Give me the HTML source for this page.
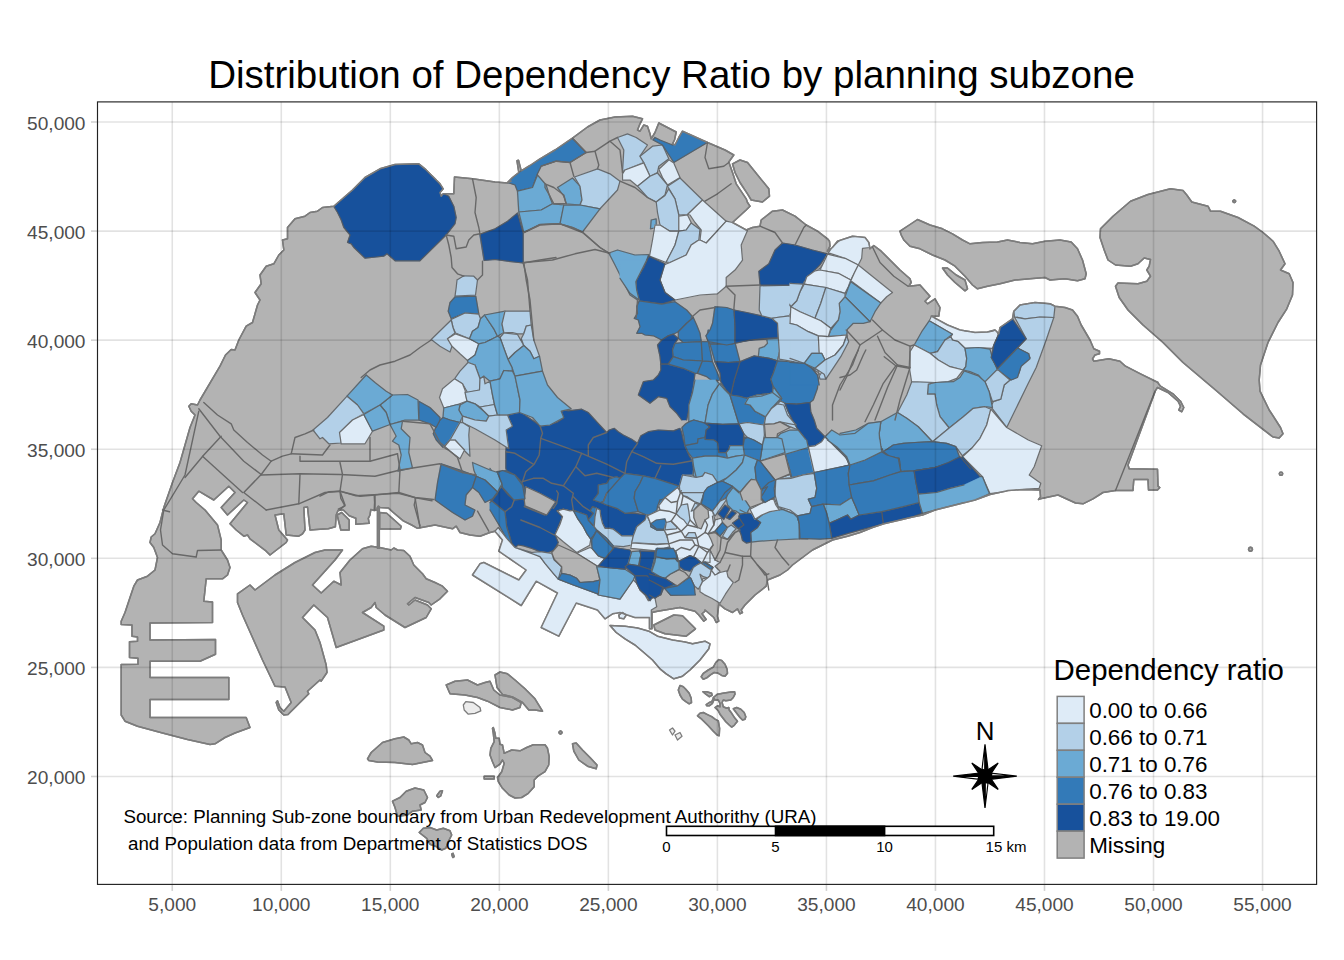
<!DOCTYPE html>
<html><head><meta charset="utf-8"><title>Distribution of Dependency Ratio by planning subzone</title>
<style>
html,body{margin:0;padding:0;background:#fff;}
body{width:1344px;height:960px;overflow:hidden;position:relative;font-family:"Liberation Sans",sans-serif;}
svg{position:absolute;left:0;top:0;}
text{font-family:"Liberation Sans",sans-serif;}
.tk{font-size:19.1px;fill:#4d4d4d;}
.lg{font-size:22.4px;fill:#000;}
.sb{font-size:15.0px;fill:#000;}
.src{font-size:18.75px;fill:#000;}
</style></head><body>
<svg width="1344" height="960" viewBox="0 0 1344 960">
<rect x="0" y="0" width="1344" height="960" fill="#ffffff"/>

<defs><clipPath id="pc"><rect x="97.50" y="101.90" width="1219.10" height="782.50"/></clipPath></defs>
<g clip-path="url(#pc)" stroke-linejoin="round" stroke-linecap="round">
<defs><clipPath id="lc"><polygon points="333.8,206.2 352.5,190.0 365.0,177.5 380.0,168.8 395.0,164.5 418.8,163.8 425.0,168.8 432.5,176.2 440.0,183.8 443.2,188.8 440.0,192.5 441.2,196.2 443.2,193.8 453.8,193.8 454.5,177.0 472.5,178.8 495.0,182.0 507.5,183.0 511.2,181.2 507.5,182.5 512.5,177.5 518.8,172.5 517.0,160.8 518.5,160.2 521.2,170.8 530.0,165.5 540.0,158.8 555.0,150.0 572.5,138.2 587.5,127.0 600.0,120.0 615.0,117.0 632.5,116.2 642.5,118.8 640.0,123.8 637.5,130.0 640.0,131.2 643.8,125.0 647.5,126.2 650.0,133.8 651.2,138.8 655.0,132.5 658.8,123.0 676.2,132.0 674.5,140.0 672.5,143.8 675.0,145.0 678.8,137.5 682.5,131.2 707.5,142.5 725.0,150.0 733.8,155.0 728.8,162.0 732.5,172.5 736.2,183.8 746.2,198.8 747.5,202.5 750.0,206.2 746.2,210.0 732.5,222.5 746.2,230.0 752.5,227.5 760.0,226.2 761.2,220.0 772.5,211.2 782.5,210.0 795.0,216.2 806.2,225.0 817.5,231.2 827.5,238.8 829.5,241.2 830.0,246.2 827.5,251.2 832.5,247.5 837.5,241.2 852.5,236.2 865.0,237.5 868.8,242.5 870.0,248.8 873.8,245.5 881.2,251.2 890.0,260.0 900.0,270.0 910.0,278.8 911.2,282.5 908.8,286.2 920.0,285.0 930.0,296.2 925.0,301.2 927.5,303.8 935.0,298.8 940.0,307.5 938.8,316.2 931.2,316.2 947.5,325.0 960.0,330.0 975.0,332.5 987.5,332.0 995.0,330.0 998.8,333.8 1000.0,327.5 1012.5,318.8 1013.8,311.2 1020.0,305.0 1035.0,302.5 1050.0,303.8 1055.0,306.2 1065.0,307.5 1072.5,310.0 1077.5,316.2 1081.2,325.0 1090.0,340.0 1093.8,348.8 1099.5,351.2 1099.5,353.8 1095.0,355.0 1092.5,358.8 1093.8,361.2 1108.8,358.8 1120.0,361.2 1125.5,366.2 1140.5,373.8 1158.0,382.5 1158.0,383.0 1160.5,386.2 1173.0,393.8 1180.5,401.2 1183.8,407.5 1181.8,411.8 1178.8,410.0 1180.5,406.2 1178.0,401.2 1168.0,392.5 1157.5,387.5 1155.5,390.5 1128.0,465.0 1129.2,468.8 1157.5,469.2 1158.0,486.2 1159.8,487.5 1157.5,490.0 1148.5,490.0 1148.0,479.5 1133.8,479.5 1133.0,490.5 1115.5,490.5 1103.0,492.5 1093.0,498.8 1083.0,503.8 1075.5,503.0 1058.0,495.0 1040.5,498.8 1038.5,499.5 1040.5,497.0 1040.0,490.0 1023.0,489.5 1008.0,490.5 1005.0,491.2 990.0,494.5 975.0,500.0 960.0,503.8 945.0,507.5 935.0,510.0 922.5,515.0 912.5,517.0 900.0,520.0 883.8,523.8 872.5,527.5 860.0,532.5 847.5,536.2 832.5,540.0 822.5,545.0 812.5,550.0 802.5,557.5 792.5,565.0 787.5,570.0 780.0,575.0 767.5,580.0 766.2,586.2 755.0,595.0 745.0,605.0 741.2,610.0 742.5,612.5 740.0,613.8 737.5,608.8 732.5,612.5 725.0,608.8 718.8,603.8 717.5,616.2 718.8,621.2 716.2,622.5 713.8,617.5 705.0,610.0 705.0,611.2 702.0,613.8 706.2,619.5 703.8,621.2 698.8,615.0 695.0,611.2 680.0,607.5 665.0,610.0 657.5,611.2 652.0,612.5 652.0,628.8 649.5,628.8 649.5,617.5 635.0,617.5 620.0,612.5 612.5,613.8 605.0,618.8 597.5,610.0 593.8,608.8 590.0,607.5 576.2,603.0 558.8,636.2 541.2,627.5 557.5,593.0 536.2,581.2 521.2,605.5 472.5,575.0 480.0,563.8 483.8,562.5 518.8,580.0 526.2,570.0 498.8,551.2 502.5,540.0 495.0,531.2 490.0,532.5 480.0,536.2 470.0,535.0 460.0,532.5 456.2,526.2 452.5,528.8 435.0,525.0 417.5,528.3 411.7,525.0 403.3,520.8 393.3,512.5 388.3,507.9 380.0,507.5 378.3,506.2 377.3,507.9 377.3,510.0 374.2,510.4 370.8,509.6 370.0,515.0 368.3,518.3 369.2,523.3 355.8,524.2 355.8,518.3 349.2,515.8 343.3,510.0 340.4,510.0 337.9,510.8 336.2,515.0 335.4,526.7 328.3,528.8 320.0,529.2 310.0,530.0 307.5,507.0 303.8,507.5 305.0,530.0 302.5,533.8 298.8,536.2 286.2,535.0 283.8,513.8 275.0,515.0 278.8,530.0 287.5,540.0 286.2,542.5 270.0,555.0 266.2,551.2 250.0,538.8 247.5,535.0 243.8,536.2 236.2,530.0 230.0,523.8 247.5,502.5 243.8,500.0 227.5,515.0 221.2,507.5 235.0,492.5 228.8,486.2 213.8,500.0 198.8,491.2 192.5,498.8 196.2,502.5 205.0,510.0 217.5,525.0 221.2,540.0 221.2,550.0 227.5,560.0 230.0,567.5 227.5,575.0 222.5,578.8 206.2,578.8 203.8,601.2 212.5,602.0 212.5,622.5 150.0,623.0 150.0,640.0 215.5,639.5 215.5,654.2 200.0,661.2 150.0,661.2 150.0,677.5 228.8,677.5 228.8,699.5 150.0,699.5 150.0,717.5 246.2,717.5 250.0,727.5 235.0,733.0 225.0,737.5 215.0,743.8 210.0,744.5 187.5,739.5 162.5,733.0 137.5,726.2 125.0,721.2 121.2,715.0 121.2,664.5 138.0,664.2 138.0,658.2 129.5,657.5 129.5,641.8 137.5,641.2 137.5,637.0 132.0,636.2 132.0,625.0 121.2,624.5 121.2,621.2 125.0,612.5 130.0,597.5 133.8,586.2 137.5,580.0 147.5,576.2 155.0,570.0 157.5,557.5 153.8,547.5 150.0,542.5 151.2,537.0 155.0,533.8 160.0,522.5 163.8,507.5 172.5,482.5 180.0,462.5 185.0,445.0 190.0,427.5 195.0,415.0 191.2,411.2 188.8,406.2 191.2,403.8 197.5,405.0 200.0,400.0 220.0,366.2 225.5,355.0 231.2,349.5 235.0,350.0 238.8,340.0 246.2,326.2 252.5,322.5 257.5,305.0 260.0,300.0 255.0,292.5 261.2,283.8 260.0,275.0 266.2,266.2 273.8,263.8 278.8,255.0 283.8,250.0 282.5,240.0 287.5,238.8 287.5,227.5 295.0,218.8 305.0,216.2 310.0,212.5 317.5,211.2 322.5,207.5"/><polygon points="237.5,593.8 250.0,585.0 255.0,590.0 275.0,575.0 295.0,562.5 315.0,552.5 325.0,550.0 342.5,550.0 335.0,560.0 312.5,585.0 321.2,593.0 333.8,581.2 341.2,585.0 340.0,572.5 350.0,560.0 362.5,548.8 371.2,546.2 379.5,547.5 379.5,547.5 391.2,550.0 393.8,548.0 397.5,550.0 403.8,550.5 410.0,556.2 413.8,565.0 422.5,573.8 426.2,578.8 435.0,582.5 442.5,586.2 447.5,591.2 440.0,598.8 431.2,605.0 428.8,602.5 415.0,597.5 407.5,603.8 408.8,605.0 415.0,600.0 427.5,605.0 431.2,608.8 426.2,617.5 405.0,627.5 385.0,615.0 376.2,607.5 375.0,602.5 371.2,607.5 362.5,612.5 383.8,626.2 383.8,630.0 336.2,647.5 327.5,617.5 313.8,605.0 302.5,617.5 315.0,630.0 320.0,642.5 326.2,665.0 327.0,672.5 321.2,681.2 320.0,680.0 307.5,691.2 308.8,693.8 288.0,714.5 283.8,715.0 278.8,710.0 276.2,702.5 277.5,700.8 280.0,707.5 283.8,711.2 291.2,702.5 285.0,687.0 275.0,686.2 262.5,660.0 252.5,637.5 242.5,615.0 237.5,602.5 237.5,593.8"/><polygon points="377.5,507.9 379.3,507.9 379.3,548.3 377.5,548.3"/><polygon points="379.6,512.5 386.7,513.3 401.2,526.2 400.4,529.0 379.6,529.0"/><polygon points="337.1,515.0 341.7,512.5 349.2,520.0 349.2,530.0 340.8,530.0 338.8,521.7"/><polygon points="732.5,163.8 740.0,160.0 747.5,162.5 768.8,188.8 769.5,196.2 762.5,202.0 751.2,200.0 747.5,193.8 740.0,182.5 735.0,172.5"/><polygon points="900.0,231.2 910.0,224.5 917.5,219.5 930.0,225.0 942.5,228.8 952.5,233.8 962.5,240.0 970.0,243.8 982.5,242.5 997.5,242.0 1007.5,240.0 1020.0,242.5 1032.5,243.8 1045.0,241.2 1060.0,240.0 1071.2,242.0 1077.5,248.8 1082.5,260.0 1086.2,273.8 1085.0,278.8 1077.5,280.8 1065.0,278.8 1050.0,280.0 1045.0,277.5 1030.0,278.8 1015.0,280.0 1000.0,283.8 987.5,286.2 977.5,288.8 972.5,285.0 965.0,276.2 955.0,266.2 945.0,260.0 932.5,255.0 920.0,248.8 910.0,246.2 903.8,240.0 901.2,235.0"/><polygon points="942.5,268.0 947.5,268.0 956.2,275.0 965.0,280.0 967.5,288.8 965.0,290.8 955.0,282.5 947.5,275.0"/><polygon points="1100.5,228.8 1113.0,216.2 1130.5,201.2 1148.0,194.5 1170.5,188.8 1183.0,190.5 1186.8,195.0 1191.8,202.0 1208.0,206.2 1210.5,211.2 1220.5,211.2 1238.0,217.5 1254.2,226.2 1263.0,232.5 1273.0,241.2 1279.2,251.2 1285.0,263.8 1280.5,270.0 1289.2,273.8 1293.0,282.5 1292.5,295.0 1286.8,308.8 1278.0,322.5 1268.0,342.5 1260.5,365.0 1259.2,380.0 1260.0,391.2 1269.2,410.0 1280.5,427.5 1283.0,433.8 1279.2,438.0 1273.0,437.0 1243.0,413.8 1215.5,390.0 1183.0,362.5 1163.0,342.5 1143.0,325.0 1128.0,310.0 1119.2,297.5 1115.5,286.2 1118.0,283.0 1138.0,283.8 1146.8,281.2 1150.5,276.2 1146.8,270.0 1149.2,266.2 1150.5,259.5 1144.2,258.0 1138.0,263.8 1130.5,266.2 1115.5,265.0 1108.0,260.0 1104.2,250.0 1100.0,237.5"/><polygon points="1235.7,201.2 1235.2,202.2 1234.2,202.7 1233.3,202.2 1232.8,201.2 1233.3,200.3 1234.2,199.8 1235.2,200.3"/><polygon points="1282.7,473.8 1282.2,475.0 1281.0,475.4 1279.8,475.0 1279.3,473.8 1279.8,472.5 1281.0,472.1 1282.2,472.5"/><polygon points="1252.5,549.2 1251.9,550.7 1250.5,551.2 1249.1,550.7 1248.5,549.2 1249.1,547.8 1250.5,547.2 1251.9,547.8"/><polygon points="653.8,625.0 673.8,615.0 682.5,615.8 695.5,628.8 686.2,636.2 665.0,633.8 655.0,630.0"/><polygon points="701.2,676.7 703.3,673.3 708.3,670.0 713.3,667.1 715.8,662.5 718.8,659.6 721.7,660.4 725.0,664.2 727.1,669.2 727.5,673.3 725.0,676.2 721.7,675.4 717.5,672.9 714.2,672.5 710.8,674.6 706.7,677.9 703.3,679.3"/><polygon points="678.3,690.0 680.0,685.4 683.3,686.7 685.8,689.2 689.2,693.3 691.2,698.3 691.5,702.5 689.2,703.8 685.8,701.7 682.5,699.2 680.0,695.0"/><polygon points="717.5,694.2 724.2,692.9 730.8,692.1 734.6,691.7 735.0,694.2 733.3,697.5 730.8,700.0 725.8,700.8 723.3,700.0 722.1,702.5 723.3,706.7 726.7,708.3 728.8,707.5 729.2,710.0 731.7,713.3 735.0,718.3 737.5,721.2 735.8,723.3 734.2,725.4 731.7,727.1 729.2,725.0 725.8,721.7 722.5,717.5 720.0,714.2 718.3,710.8 715.0,707.5 717.5,705.8 720.0,706.7 720.0,703.3 718.3,700.0 715.0,700.0 713.3,697.5"/><polygon points="702.9,691.7 706.7,691.7 711.7,693.3 712.1,695.4 709.2,696.7 705.8,694.2"/><polygon points="706.2,704.6 709.2,702.5 711.7,701.7 713.3,698.3 714.2,699.2 712.5,703.3 709.2,705.8 706.7,705.8"/><polygon points="733.3,708.8 736.7,707.5 740.8,709.2 744.2,712.5 745.8,716.7 745.0,719.2 742.5,720.0 740.0,717.5 736.7,713.3"/><polygon points="697.5,715.8 700.0,713.3 703.3,712.5 707.5,714.6 711.7,716.7 715.0,719.2 718.3,720.8 719.6,728.3 719.2,735.8 717.1,735.0 713.3,731.2 708.3,725.8 701.7,719.2"/><polygon points="446.2,685.0 455.0,681.2 467.5,680.0 477.5,685.0 485.0,682.5 490.0,681.2 493.8,690.0 500.0,695.0 512.5,697.5 521.2,702.5 520.0,707.5 512.5,710.0 500.0,707.5 487.5,701.2 477.5,697.5 465.0,695.0 450.0,693.8"/><polygon points="495.0,675.0 500.0,672.0 507.5,673.8 515.0,680.0 525.0,688.8 535.0,698.8 542.5,711.2 535.0,710.0 528.8,710.0 522.5,702.5 512.5,697.0 502.5,694.5 497.0,687.5"/><polygon points="572.5,743.8 576.2,743.0 582.5,750.0 590.0,757.5 597.0,765.0 596.2,768.8 587.5,766.2 578.8,760.0 573.8,751.2"/><polygon points="561.8,732.5 561.4,733.4 560.5,733.8 559.6,733.4 559.2,732.5 559.6,731.6 560.5,731.2 561.4,731.6"/><polygon points="367.5,758.8 371.2,752.5 382.5,742.5 395.0,738.8 403.8,737.0 408.8,740.0 411.2,743.8 417.5,742.5 422.5,745.0 425.0,752.5 430.0,756.2 432.5,760.5 425.0,762.0 412.5,764.5 395.0,762.5 377.5,762.0 368.8,760.5"/><polygon points="392.5,801.2 400.0,797.5 406.2,791.2 415.0,788.0 423.8,790.0 427.5,797.5 425.0,802.5 420.0,805.0 421.2,810.0 412.5,811.2 407.5,815.0 397.5,816.2 395.0,807.5"/><polygon points="610.0,625.5 625.0,626.2 637.5,628.0 648.8,631.2 657.5,636.2 672.5,640.0 685.0,642.0 692.5,643.8 705.0,641.2 710.0,643.8 708.8,648.8 700.0,660.0 690.0,670.0 682.5,676.2 673.8,678.8 666.2,673.8 660.0,668.8 652.5,660.0 643.8,652.5 635.0,645.0 625.0,638.8 616.2,632.5"/><polygon points="618.8,615.0 622.5,612.5 626.2,615.0 623.8,618.8 619.5,618.0"/><polygon points="493.3,727.5 495.0,733.3 495.8,738.3 499.2,738.3 500.0,744.2 502.5,745.0 504.2,753.3 511.7,750.0 520.0,750.8 526.7,747.5 533.3,744.7 545.0,744.7 547.5,748.3 549.2,756.7 548.7,765.0 545.0,771.7 538.3,775.8 534.2,780.0 534.2,786.7 528.3,793.3 521.7,797.5 515.0,798.0 509.2,795.0 502.5,788.3 498.3,781.7 497.5,777.5 501.7,771.7 504.2,763.3 502.5,760.0 500.0,764.2 495.0,767.5 492.5,761.7 490.0,755.0 490.8,748.3 494.2,741.7 493.3,733.3 492.5,728.3"/><polygon points="419.2,832.5 423.3,828.3 430.0,827.5 436.7,830.0 443.3,828.3 450.0,830.8 451.7,835.0 448.3,841.7 445.8,848.3 441.7,850.0 436.7,846.7 430.0,844.2 426.7,838.3"/><polygon points="436.7,795.8 440.0,791.3 442.5,790.8 440.8,795.8 438.3,797.5"/><polygon points="451.7,854.2 453.0,853.3 454.2,856.7 452.8,857.5"/><polygon points="484.2,776.2 494.2,776.2 494.2,779.0 484.2,779.0"/><polygon points="561.9,732.5 561.5,733.5 560.5,733.9 559.5,733.5 559.1,732.5 559.5,731.5 560.5,731.1 561.5,731.5"/></clipPath></defs>
<g fill="#B3B3B3" stroke="#7c7c7c" stroke-width="1.5">
<polygon points="333.8,206.2 352.5,190.0 365.0,177.5 380.0,168.8 395.0,164.5 418.8,163.8 425.0,168.8 432.5,176.2 440.0,183.8 443.2,188.8 440.0,192.5 441.2,196.2 443.2,193.8 453.8,193.8 454.5,177.0 472.5,178.8 495.0,182.0 507.5,183.0 511.2,181.2 507.5,182.5 512.5,177.5 518.8,172.5 517.0,160.8 518.5,160.2 521.2,170.8 530.0,165.5 540.0,158.8 555.0,150.0 572.5,138.2 587.5,127.0 600.0,120.0 615.0,117.0 632.5,116.2 642.5,118.8 640.0,123.8 637.5,130.0 640.0,131.2 643.8,125.0 647.5,126.2 650.0,133.8 651.2,138.8 655.0,132.5 658.8,123.0 676.2,132.0 674.5,140.0 672.5,143.8 675.0,145.0 678.8,137.5 682.5,131.2 707.5,142.5 725.0,150.0 733.8,155.0 728.8,162.0 732.5,172.5 736.2,183.8 746.2,198.8 747.5,202.5 750.0,206.2 746.2,210.0 732.5,222.5 746.2,230.0 752.5,227.5 760.0,226.2 761.2,220.0 772.5,211.2 782.5,210.0 795.0,216.2 806.2,225.0 817.5,231.2 827.5,238.8 829.5,241.2 830.0,246.2 827.5,251.2 832.5,247.5 837.5,241.2 852.5,236.2 865.0,237.5 868.8,242.5 870.0,248.8 873.8,245.5 881.2,251.2 890.0,260.0 900.0,270.0 910.0,278.8 911.2,282.5 908.8,286.2 920.0,285.0 930.0,296.2 925.0,301.2 927.5,303.8 935.0,298.8 940.0,307.5 938.8,316.2 931.2,316.2 947.5,325.0 960.0,330.0 975.0,332.5 987.5,332.0 995.0,330.0 998.8,333.8 1000.0,327.5 1012.5,318.8 1013.8,311.2 1020.0,305.0 1035.0,302.5 1050.0,303.8 1055.0,306.2 1065.0,307.5 1072.5,310.0 1077.5,316.2 1081.2,325.0 1090.0,340.0 1093.8,348.8 1099.5,351.2 1099.5,353.8 1095.0,355.0 1092.5,358.8 1093.8,361.2 1108.8,358.8 1120.0,361.2 1125.5,366.2 1140.5,373.8 1158.0,382.5 1158.0,383.0 1160.5,386.2 1173.0,393.8 1180.5,401.2 1183.8,407.5 1181.8,411.8 1178.8,410.0 1180.5,406.2 1178.0,401.2 1168.0,392.5 1157.5,387.5 1155.5,390.5 1128.0,465.0 1129.2,468.8 1157.5,469.2 1158.0,486.2 1159.8,487.5 1157.5,490.0 1148.5,490.0 1148.0,479.5 1133.8,479.5 1133.0,490.5 1115.5,490.5 1103.0,492.5 1093.0,498.8 1083.0,503.8 1075.5,503.0 1058.0,495.0 1040.5,498.8 1038.5,499.5 1040.5,497.0 1040.0,490.0 1023.0,489.5 1008.0,490.5 1005.0,491.2 990.0,494.5 975.0,500.0 960.0,503.8 945.0,507.5 935.0,510.0 922.5,515.0 912.5,517.0 900.0,520.0 883.8,523.8 872.5,527.5 860.0,532.5 847.5,536.2 832.5,540.0 822.5,545.0 812.5,550.0 802.5,557.5 792.5,565.0 787.5,570.0 780.0,575.0 767.5,580.0 766.2,586.2 755.0,595.0 745.0,605.0 741.2,610.0 742.5,612.5 740.0,613.8 737.5,608.8 732.5,612.5 725.0,608.8 718.8,603.8 717.5,616.2 718.8,621.2 716.2,622.5 713.8,617.5 705.0,610.0 705.0,611.2 702.0,613.8 706.2,619.5 703.8,621.2 698.8,615.0 695.0,611.2 680.0,607.5 665.0,610.0 657.5,611.2 652.0,612.5 652.0,628.8 649.5,628.8 649.5,617.5 635.0,617.5 620.0,612.5 612.5,613.8 605.0,618.8 597.5,610.0 593.8,608.8 590.0,607.5 576.2,603.0 558.8,636.2 541.2,627.5 557.5,593.0 536.2,581.2 521.2,605.5 472.5,575.0 480.0,563.8 483.8,562.5 518.8,580.0 526.2,570.0 498.8,551.2 502.5,540.0 495.0,531.2 490.0,532.5 480.0,536.2 470.0,535.0 460.0,532.5 456.2,526.2 452.5,528.8 435.0,525.0 417.5,528.3 411.7,525.0 403.3,520.8 393.3,512.5 388.3,507.9 380.0,507.5 378.3,506.2 377.3,507.9 377.3,510.0 374.2,510.4 370.8,509.6 370.0,515.0 368.3,518.3 369.2,523.3 355.8,524.2 355.8,518.3 349.2,515.8 343.3,510.0 340.4,510.0 337.9,510.8 336.2,515.0 335.4,526.7 328.3,528.8 320.0,529.2 310.0,530.0 307.5,507.0 303.8,507.5 305.0,530.0 302.5,533.8 298.8,536.2 286.2,535.0 283.8,513.8 275.0,515.0 278.8,530.0 287.5,540.0 286.2,542.5 270.0,555.0 266.2,551.2 250.0,538.8 247.5,535.0 243.8,536.2 236.2,530.0 230.0,523.8 247.5,502.5 243.8,500.0 227.5,515.0 221.2,507.5 235.0,492.5 228.8,486.2 213.8,500.0 198.8,491.2 192.5,498.8 196.2,502.5 205.0,510.0 217.5,525.0 221.2,540.0 221.2,550.0 227.5,560.0 230.0,567.5 227.5,575.0 222.5,578.8 206.2,578.8 203.8,601.2 212.5,602.0 212.5,622.5 150.0,623.0 150.0,640.0 215.5,639.5 215.5,654.2 200.0,661.2 150.0,661.2 150.0,677.5 228.8,677.5 228.8,699.5 150.0,699.5 150.0,717.5 246.2,717.5 250.0,727.5 235.0,733.0 225.0,737.5 215.0,743.8 210.0,744.5 187.5,739.5 162.5,733.0 137.5,726.2 125.0,721.2 121.2,715.0 121.2,664.5 138.0,664.2 138.0,658.2 129.5,657.5 129.5,641.8 137.5,641.2 137.5,637.0 132.0,636.2 132.0,625.0 121.2,624.5 121.2,621.2 125.0,612.5 130.0,597.5 133.8,586.2 137.5,580.0 147.5,576.2 155.0,570.0 157.5,557.5 153.8,547.5 150.0,542.5 151.2,537.0 155.0,533.8 160.0,522.5 163.8,507.5 172.5,482.5 180.0,462.5 185.0,445.0 190.0,427.5 195.0,415.0 191.2,411.2 188.8,406.2 191.2,403.8 197.5,405.0 200.0,400.0 220.0,366.2 225.5,355.0 231.2,349.5 235.0,350.0 238.8,340.0 246.2,326.2 252.5,322.5 257.5,305.0 260.0,300.0 255.0,292.5 261.2,283.8 260.0,275.0 266.2,266.2 273.8,263.8 278.8,255.0 283.8,250.0 282.5,240.0 287.5,238.8 287.5,227.5 295.0,218.8 305.0,216.2 310.0,212.5 317.5,211.2 322.5,207.5"/>
<polygon points="237.5,593.8 250.0,585.0 255.0,590.0 275.0,575.0 295.0,562.5 315.0,552.5 325.0,550.0 342.5,550.0 335.0,560.0 312.5,585.0 321.2,593.0 333.8,581.2 341.2,585.0 340.0,572.5 350.0,560.0 362.5,548.8 371.2,546.2 379.5,547.5 379.5,547.5 391.2,550.0 393.8,548.0 397.5,550.0 403.8,550.5 410.0,556.2 413.8,565.0 422.5,573.8 426.2,578.8 435.0,582.5 442.5,586.2 447.5,591.2 440.0,598.8 431.2,605.0 428.8,602.5 415.0,597.5 407.5,603.8 408.8,605.0 415.0,600.0 427.5,605.0 431.2,608.8 426.2,617.5 405.0,627.5 385.0,615.0 376.2,607.5 375.0,602.5 371.2,607.5 362.5,612.5 383.8,626.2 383.8,630.0 336.2,647.5 327.5,617.5 313.8,605.0 302.5,617.5 315.0,630.0 320.0,642.5 326.2,665.0 327.0,672.5 321.2,681.2 320.0,680.0 307.5,691.2 308.8,693.8 288.0,714.5 283.8,715.0 278.8,710.0 276.2,702.5 277.5,700.8 280.0,707.5 283.8,711.2 291.2,702.5 285.0,687.0 275.0,686.2 262.5,660.0 252.5,637.5 242.5,615.0 237.5,602.5 237.5,593.8"/>
<polygon points="377.5,507.9 379.3,507.9 379.3,548.3 377.5,548.3"/>
<polygon points="379.6,512.5 386.7,513.3 401.2,526.2 400.4,529.0 379.6,529.0"/>
<polygon points="337.1,515.0 341.7,512.5 349.2,520.0 349.2,530.0 340.8,530.0 338.8,521.7"/>
<polygon points="732.5,163.8 740.0,160.0 747.5,162.5 768.8,188.8 769.5,196.2 762.5,202.0 751.2,200.0 747.5,193.8 740.0,182.5 735.0,172.5"/>
<polygon points="900.0,231.2 910.0,224.5 917.5,219.5 930.0,225.0 942.5,228.8 952.5,233.8 962.5,240.0 970.0,243.8 982.5,242.5 997.5,242.0 1007.5,240.0 1020.0,242.5 1032.5,243.8 1045.0,241.2 1060.0,240.0 1071.2,242.0 1077.5,248.8 1082.5,260.0 1086.2,273.8 1085.0,278.8 1077.5,280.8 1065.0,278.8 1050.0,280.0 1045.0,277.5 1030.0,278.8 1015.0,280.0 1000.0,283.8 987.5,286.2 977.5,288.8 972.5,285.0 965.0,276.2 955.0,266.2 945.0,260.0 932.5,255.0 920.0,248.8 910.0,246.2 903.8,240.0 901.2,235.0"/>
<polygon points="942.5,268.0 947.5,268.0 956.2,275.0 965.0,280.0 967.5,288.8 965.0,290.8 955.0,282.5 947.5,275.0"/>
<polygon points="1100.5,228.8 1113.0,216.2 1130.5,201.2 1148.0,194.5 1170.5,188.8 1183.0,190.5 1186.8,195.0 1191.8,202.0 1208.0,206.2 1210.5,211.2 1220.5,211.2 1238.0,217.5 1254.2,226.2 1263.0,232.5 1273.0,241.2 1279.2,251.2 1285.0,263.8 1280.5,270.0 1289.2,273.8 1293.0,282.5 1292.5,295.0 1286.8,308.8 1278.0,322.5 1268.0,342.5 1260.5,365.0 1259.2,380.0 1260.0,391.2 1269.2,410.0 1280.5,427.5 1283.0,433.8 1279.2,438.0 1273.0,437.0 1243.0,413.8 1215.5,390.0 1183.0,362.5 1163.0,342.5 1143.0,325.0 1128.0,310.0 1119.2,297.5 1115.5,286.2 1118.0,283.0 1138.0,283.8 1146.8,281.2 1150.5,276.2 1146.8,270.0 1149.2,266.2 1150.5,259.5 1144.2,258.0 1138.0,263.8 1130.5,266.2 1115.5,265.0 1108.0,260.0 1104.2,250.0 1100.0,237.5"/>
<polygon points="1235.7,201.2 1235.2,202.2 1234.2,202.7 1233.3,202.2 1232.8,201.2 1233.3,200.3 1234.2,199.8 1235.2,200.3"/>
<polygon points="1282.7,473.8 1282.2,475.0 1281.0,475.4 1279.8,475.0 1279.3,473.8 1279.8,472.5 1281.0,472.1 1282.2,472.5"/>
<polygon points="1252.5,549.2 1251.9,550.7 1250.5,551.2 1249.1,550.7 1248.5,549.2 1249.1,547.8 1250.5,547.2 1251.9,547.8"/>
<polygon points="653.8,625.0 673.8,615.0 682.5,615.8 695.5,628.8 686.2,636.2 665.0,633.8 655.0,630.0"/>
<polygon points="701.2,676.7 703.3,673.3 708.3,670.0 713.3,667.1 715.8,662.5 718.8,659.6 721.7,660.4 725.0,664.2 727.1,669.2 727.5,673.3 725.0,676.2 721.7,675.4 717.5,672.9 714.2,672.5 710.8,674.6 706.7,677.9 703.3,679.3"/>
<polygon points="678.3,690.0 680.0,685.4 683.3,686.7 685.8,689.2 689.2,693.3 691.2,698.3 691.5,702.5 689.2,703.8 685.8,701.7 682.5,699.2 680.0,695.0"/>
<polygon points="717.5,694.2 724.2,692.9 730.8,692.1 734.6,691.7 735.0,694.2 733.3,697.5 730.8,700.0 725.8,700.8 723.3,700.0 722.1,702.5 723.3,706.7 726.7,708.3 728.8,707.5 729.2,710.0 731.7,713.3 735.0,718.3 737.5,721.2 735.8,723.3 734.2,725.4 731.7,727.1 729.2,725.0 725.8,721.7 722.5,717.5 720.0,714.2 718.3,710.8 715.0,707.5 717.5,705.8 720.0,706.7 720.0,703.3 718.3,700.0 715.0,700.0 713.3,697.5"/>
<polygon points="702.9,691.7 706.7,691.7 711.7,693.3 712.1,695.4 709.2,696.7 705.8,694.2"/>
<polygon points="706.2,704.6 709.2,702.5 711.7,701.7 713.3,698.3 714.2,699.2 712.5,703.3 709.2,705.8 706.7,705.8"/>
<polygon points="733.3,708.8 736.7,707.5 740.8,709.2 744.2,712.5 745.8,716.7 745.0,719.2 742.5,720.0 740.0,717.5 736.7,713.3"/>
<polygon points="697.5,715.8 700.0,713.3 703.3,712.5 707.5,714.6 711.7,716.7 715.0,719.2 718.3,720.8 719.6,728.3 719.2,735.8 717.1,735.0 713.3,731.2 708.3,725.8 701.7,719.2"/>
<polygon points="446.2,685.0 455.0,681.2 467.5,680.0 477.5,685.0 485.0,682.5 490.0,681.2 493.8,690.0 500.0,695.0 512.5,697.5 521.2,702.5 520.0,707.5 512.5,710.0 500.0,707.5 487.5,701.2 477.5,697.5 465.0,695.0 450.0,693.8"/>
<polygon points="495.0,675.0 500.0,672.0 507.5,673.8 515.0,680.0 525.0,688.8 535.0,698.8 542.5,711.2 535.0,710.0 528.8,710.0 522.5,702.5 512.5,697.0 502.5,694.5 497.0,687.5"/>
<polygon points="572.5,743.8 576.2,743.0 582.5,750.0 590.0,757.5 597.0,765.0 596.2,768.8 587.5,766.2 578.8,760.0 573.8,751.2"/>
<polygon points="561.8,732.5 561.4,733.4 560.5,733.8 559.6,733.4 559.2,732.5 559.6,731.6 560.5,731.2 561.4,731.6"/>
<polygon points="367.5,758.8 371.2,752.5 382.5,742.5 395.0,738.8 403.8,737.0 408.8,740.0 411.2,743.8 417.5,742.5 422.5,745.0 425.0,752.5 430.0,756.2 432.5,760.5 425.0,762.0 412.5,764.5 395.0,762.5 377.5,762.0 368.8,760.5"/>
<polygon points="392.5,801.2 400.0,797.5 406.2,791.2 415.0,788.0 423.8,790.0 427.5,797.5 425.0,802.5 420.0,805.0 421.2,810.0 412.5,811.2 407.5,815.0 397.5,816.2 395.0,807.5"/>
<polygon points="610.0,625.5 625.0,626.2 637.5,628.0 648.8,631.2 657.5,636.2 672.5,640.0 685.0,642.0 692.5,643.8 705.0,641.2 710.0,643.8 708.8,648.8 700.0,660.0 690.0,670.0 682.5,676.2 673.8,678.8 666.2,673.8 660.0,668.8 652.5,660.0 643.8,652.5 635.0,645.0 625.0,638.8 616.2,632.5"/>
<polygon points="618.8,615.0 622.5,612.5 626.2,615.0 623.8,618.8 619.5,618.0"/>
<polygon points="493.3,727.5 495.0,733.3 495.8,738.3 499.2,738.3 500.0,744.2 502.5,745.0 504.2,753.3 511.7,750.0 520.0,750.8 526.7,747.5 533.3,744.7 545.0,744.7 547.5,748.3 549.2,756.7 548.7,765.0 545.0,771.7 538.3,775.8 534.2,780.0 534.2,786.7 528.3,793.3 521.7,797.5 515.0,798.0 509.2,795.0 502.5,788.3 498.3,781.7 497.5,777.5 501.7,771.7 504.2,763.3 502.5,760.0 500.0,764.2 495.0,767.5 492.5,761.7 490.0,755.0 490.8,748.3 494.2,741.7 493.3,733.3 492.5,728.3"/>
<polygon points="419.2,832.5 423.3,828.3 430.0,827.5 436.7,830.0 443.3,828.3 450.0,830.8 451.7,835.0 448.3,841.7 445.8,848.3 441.7,850.0 436.7,846.7 430.0,844.2 426.7,838.3"/>
<polygon points="436.7,795.8 440.0,791.3 442.5,790.8 440.8,795.8 438.3,797.5"/>
<polygon points="451.7,854.2 453.0,853.3 454.2,856.7 452.8,857.5"/>
<polygon points="484.2,776.2 494.2,776.2 494.2,779.0 484.2,779.0"/>
<polygon points="561.9,732.5 561.5,733.5 560.5,733.9 559.5,733.5 559.1,732.5 559.5,731.5 560.5,731.1 561.5,731.5"/>
</g>
<g clip-path="url(#lc)" stroke="#5a5a5a" stroke-opacity="0.85" stroke-width="1.25">
<polygon fill="#337AB8" stroke="#337AB8" stroke-opacity="1" stroke-width="0.6" points="507.5,182.5 512.5,177.5 518.8,172.5 521.2,170.8 530.0,165.5 540.0,158.8 555.0,150.0 572.5,138.2 586.2,152.5 570.0,162.5 556.2,161.2 541.2,166.2 537.5,173.8 532.5,187.5 517.5,191.2 515.0,185.0"/><path fill="none" d="M507.5,182.5L512.5,177.5L518.8,172.5L521.2,170.8L530.0,165.5L540.0,158.8L555.0,150.0L572.5,138.2L586.2,152.5L570.0,162.5L556.2,161.2L541.2,166.2L537.5,173.8L532.5,187.5L517.5,191.2L515.0,185.0L507.5,182.5"/>
<polygon fill="#6BAAD4" stroke="#6BAAD4" stroke-opacity="1" stroke-width="0.6" points="517.5,191.2 532.5,187.5 537.5,175.0 546.2,185.0 550.0,197.5 552.5,203.8 541.2,210.0 518.8,212.0"/><path fill="none" d="M517.5,191.2L532.5,187.5L537.5,175.0L546.2,185.0L550.0,197.5L552.5,203.8L541.2,210.0L518.8,212.0L517.5,191.2"/>
<polygon fill="#6BAAD4" stroke="#6BAAD4" stroke-opacity="1" stroke-width="0.6" points="518.8,212.0 541.2,210.0 552.5,203.8 563.8,205.0 560.0,223.8 540.0,224.5 523.8,232.5"/><path fill="none" d="M518.8,212.0L541.2,210.0L552.5,203.8L563.8,205.0L560.0,223.8L540.0,224.5L523.8,232.5L518.8,212.0"/>
<polygon fill="#6BAAD4" stroke="#6BAAD4" stroke-opacity="1" stroke-width="0.6" points="557.5,187.5 572.5,178.0 580.0,186.2 582.0,200.0 580.0,205.0 566.2,203.8 563.8,196.2"/><path fill="none" d="M557.5,187.5L572.5,178.0L580.0,186.2L582.0,200.0L580.0,205.0L566.2,203.8L563.8,196.2L557.5,187.5"/>
<polygon fill="#B3D0E8" stroke="#B3D0E8" stroke-opacity="1" stroke-width="0.6" points="574.5,177.0 597.5,168.8 610.0,173.8 620.0,181.2 617.5,190.0 600.0,208.8 580.0,205.0 582.0,200.0 580.0,186.2"/><path fill="none" d="M574.5,177.0L597.5,168.8L610.0,173.8L620.0,181.2L617.5,190.0L600.0,208.8L580.0,205.0L582.0,200.0L580.0,186.2L574.5,177.0"/>
<polygon fill="#6BAAD4" stroke="#6BAAD4" stroke-opacity="1" stroke-width="0.6" points="563.8,205.0 580.0,205.0 600.0,208.8 582.5,232.0 572.5,227.5 560.0,223.8"/><path fill="none" d="M563.8,205.0L580.0,205.0L600.0,208.8L582.5,232.0L572.5,227.5L560.0,223.8L563.8,205.0"/>
<polygon fill="#B3D0E8" stroke="#B3D0E8" stroke-opacity="1" stroke-width="0.6" points="617.5,137.5 627.5,133.8 636.2,137.5 647.5,145.0 640.0,156.2 643.8,162.5 625.0,170.0 622.5,172.5 623.8,150.0"/><path fill="none" d="M617.5,137.5L627.5,133.8L636.2,137.5L647.5,145.0L640.0,156.2L643.8,162.5L625.0,170.0L622.5,172.5L623.8,150.0L617.5,137.5"/>
<polygon fill="#B3D0E8" stroke="#B3D0E8" stroke-opacity="1" stroke-width="0.6" points="640.0,156.2 652.5,146.2 662.5,145.0 668.8,158.8 658.8,166.2 657.5,172.5 650.0,176.2 643.8,162.5"/><path fill="none" d="M640.0,156.2L652.5,146.2L662.5,145.0L668.8,158.8L658.8,166.2L657.5,172.5L650.0,176.2L643.8,162.5L640.0,156.2"/>
<polygon fill="#DEEBF7" stroke="#DEEBF7" stroke-opacity="1" stroke-width="0.6" points="622.5,173.8 625.0,170.0 643.8,163.0 650.0,176.2 637.5,186.2 630.0,180.0 622.5,180.0"/><path fill="none" d="M622.5,173.8L625.0,170.0L643.8,163.0L650.0,176.2L637.5,186.2L630.0,180.0L622.5,180.0L622.5,173.8"/>
<polygon fill="#337AB8" stroke="#337AB8" stroke-opacity="1" stroke-width="0.6" points="655.0,137.5 660.0,140.0 672.5,145.0 678.8,137.5 682.5,131.2 707.5,142.5 673.8,162.5 662.5,145.0 653.0,140.0"/><path fill="none" d="M655.0,137.5L660.0,140.0L672.5,145.0L678.8,137.5L682.5,131.2L707.5,142.5L673.8,162.5L662.5,145.0L653.0,140.0L655.0,137.5"/>
<polygon fill="#DEEBF7" stroke="#DEEBF7" stroke-opacity="1" stroke-width="0.6" points="658.8,169.2 669.0,159.8 673.8,163.0 680.0,177.5 667.5,185.0 662.5,177.5"/><path fill="none" d="M658.8,169.2L669.0,159.8L673.8,163.0L680.0,177.5L667.5,185.0L662.5,177.5L658.8,169.2"/>
<polygon fill="#B3D0E8" stroke="#B3D0E8" stroke-opacity="1" stroke-width="0.6" points="637.5,186.2 650.0,176.2 657.5,173.0 667.5,185.0 665.0,195.0 656.2,202.0 647.5,197.5"/><path fill="none" d="M637.5,186.2L650.0,176.2L657.5,173.0L667.5,185.0L665.0,195.0L656.2,202.0L647.5,197.5L637.5,186.2"/>
<polygon fill="#B3D0E8" stroke="#B3D0E8" stroke-opacity="1" stroke-width="0.6" points="667.5,186.2 680.0,178.0 702.5,200.0 687.5,214.5 678.8,215.0 675.0,198.8"/><path fill="none" d="M667.5,186.2L680.0,178.0L702.5,200.0L687.5,214.5L678.8,215.0L675.0,198.8L667.5,186.2"/>
<polygon fill="#B3D0E8" stroke="#B3D0E8" stroke-opacity="1" stroke-width="0.6" points="656.2,202.0 665.0,195.5 668.8,188.8 675.0,198.8 678.8,215.0 678.8,231.2 670.0,231.2 660.0,225.0 657.5,212.5"/><path fill="none" d="M656.2,202.0L665.0,195.5L668.8,188.8L675.0,198.8L678.8,215.0L678.8,231.2L670.0,231.2L660.0,225.0L657.5,212.5L656.2,202.0"/>
<polygon fill="#DEEBF7" stroke="#DEEBF7" stroke-opacity="1" stroke-width="0.6" points="702.5,200.0 726.2,221.2 706.2,243.0 700.0,240.0 701.2,230.0 695.0,222.5 690.0,215.0 687.5,214.5"/><path fill="none" d="M702.5,200.0L726.2,221.2L706.2,243.0L700.0,240.0L701.2,230.0L695.0,222.5L690.0,215.0L687.5,214.5L702.5,200.0"/>
<polygon fill="#DEEBF7" stroke="#DEEBF7" stroke-opacity="1" stroke-width="0.6" points="678.8,216.2 687.5,215.0 691.2,222.5 686.2,230.0 678.8,231.2"/><path fill="none" d="M678.8,216.2L687.5,215.0L691.2,222.5L686.2,230.0L678.8,231.2L678.8,216.2"/>
<polygon fill="#6BAAD4" stroke="#6BAAD4" stroke-opacity="1" stroke-width="0.6" points="651.2,220.0 656.2,218.8 656.2,227.5 650.5,228.8"/><path fill="none" d="M651.2,220.0L656.2,218.8L656.2,227.5L650.5,228.8L651.2,220.0"/>
<polygon fill="#DEEBF7" stroke="#DEEBF7" stroke-opacity="1" stroke-width="0.6" points="655.0,225.0 660.0,225.0 670.0,231.2 678.8,231.2 675.0,245.0 666.2,262.5 649.5,256.2 652.5,240.0"/><path fill="none" d="M655.0,225.0L660.0,225.0L670.0,231.2L678.8,231.2L675.0,245.0L666.2,262.5L649.5,256.2L652.5,240.0L655.0,225.0"/>
<polygon fill="#B3D0E8" stroke="#B3D0E8" stroke-opacity="1" stroke-width="0.6" points="678.8,231.2 686.2,230.0 691.2,223.0 700.0,229.5 698.8,240.0 691.2,245.0 686.2,255.0 670.0,262.5 666.2,262.0 675.0,245.0"/><path fill="none" d="M678.8,231.2L686.2,230.0L691.2,223.0L700.0,229.5L698.8,240.0L691.2,245.0L686.2,255.0L670.0,262.5L666.2,262.0L675.0,245.0L678.8,231.2"/>
<polygon fill="#DEEBF7" stroke="#DEEBF7" stroke-opacity="1" stroke-width="0.6" points="700.0,240.0 706.2,243.0 726.2,221.2 732.5,222.5 747.5,230.5 741.2,245.0 742.5,260.0 735.0,270.0 726.2,277.5 726.2,286.2 717.5,293.8 700.0,295.0 675.0,300.0 665.0,292.5 660.0,280.0 663.8,265.0 670.0,262.5 686.2,255.0 691.2,245.0 698.8,240.0"/><path fill="none" d="M700.0,240.0L706.2,243.0L726.2,221.2L732.5,222.5L747.5,230.5L741.2,245.0L742.5,260.0L735.0,270.0L726.2,277.5L726.2,286.2L717.5,293.8L700.0,295.0L675.0,300.0L665.0,292.5L660.0,280.0L663.8,265.0L670.0,262.5L686.2,255.0L691.2,245.0L698.8,240.0L700.0,240.0"/>
<polygon fill="#6BAAD4" stroke="#6BAAD4" stroke-opacity="1" stroke-width="0.6" points="608.8,253.0 617.5,250.0 635.0,255.0 648.8,254.5 643.8,267.5 636.2,280.0 637.5,300.0 630.0,295.0 622.5,280.0 615.0,265.0"/><path fill="none" d="M608.8,253.0L617.5,250.0L635.0,255.0L648.8,254.5L643.8,267.5L636.2,280.0L637.5,300.0L630.0,295.0L622.5,280.0L615.0,265.0L608.8,253.0"/>
<polygon fill="#17519C" stroke="#17519C" stroke-opacity="1" stroke-width="0.6" points="648.8,256.2 665.0,263.8 660.0,280.0 665.0,292.5 675.0,300.0 662.5,303.8 640.0,301.2 636.2,295.0 636.2,280.0 643.8,267.5"/><path fill="none" d="M648.8,256.2L665.0,263.8L660.0,280.0L665.0,292.5L675.0,300.0L662.5,303.8L640.0,301.2L636.2,295.0L636.2,280.0L643.8,267.5L648.8,256.2"/>
<polygon fill="#17519C" stroke="#17519C" stroke-opacity="1" stroke-width="0.6" points="505.0,416.7 520.0,410.8 525.8,415.8 533.3,420.8 540.0,425.8 548.3,425.0 556.7,422.5 563.3,418.3 560.0,412.5 564.2,410.0 568.3,410.8 581.7,409.2 588.3,412.5 596.7,421.7 606.7,432.5 609.2,430.0 614.2,428.3 618.3,431.7 623.3,435.0 631.7,439.2 637.5,443.3 640.8,435.8 648.3,431.7 658.3,430.0 673.3,430.8 680.0,428.3 681.7,432.5 683.3,440.0 685.8,448.3 689.2,455.8 692.5,460.8 693.3,470.0 693.3,475.0 683.3,478.3 680.0,486.3 665.0,481.7 655.0,478.3 643.3,475.8 625.0,473.3 620.0,478.3 616.7,476.7 613.3,477.5 609.2,479.2 606.7,483.3 598.3,485.0 598.3,493.3 593.3,500.0 600.8,502.5 606.7,505.0 616.7,508.3 625.0,513.3 635.0,513.3 646.7,515.0 645.0,520.0 636.7,526.7 633.3,535.8 621.7,535.8 616.7,531.7 613.3,529.2 610.0,528.3 605.0,528.3 602.5,523.3 600.8,516.7 600.0,510.0 596.7,508.3 592.5,506.7 590.0,510.8 593.3,513.3 588.3,520.0 586.7,515.0 573.3,510.0 570.0,510.8 563.3,509.2 556.7,510.8 562.5,516.7 559.2,524.2 555.0,534.7 558.3,542.5 554.2,550.0 548.3,552.5 540.0,551.7 531.7,548.3 523.3,545.8 518.3,545.0 515.0,547.5 511.7,543.3 506.7,526.7 505.0,511.7 491.7,500.8 497.5,493.3 500.0,485.8 496.7,471.7 506.7,470.8 505.8,468.3 505.8,451.7 506.7,441.7 505.0,433.3 506.7,425.0"/><path fill="none" d="M505.0,416.7L520.0,410.8L525.8,415.8L533.3,420.8L540.0,425.8L548.3,425.0L556.7,422.5L563.3,418.3L560.0,412.5L564.2,410.0L568.3,410.8L581.7,409.2L588.3,412.5L596.7,421.7L606.7,432.5L609.2,430.0L614.2,428.3L618.3,431.7L623.3,435.0L631.7,439.2L637.5,443.3L640.8,435.8L648.3,431.7L658.3,430.0L673.3,430.8L680.0,428.3L681.7,432.5L683.3,440.0L685.8,448.3L689.2,455.8L692.5,460.8L693.3,470.0L693.3,475.0L683.3,478.3L680.0,486.3L665.0,481.7L655.0,478.3L643.3,475.8L625.0,473.3L620.0,478.3L616.7,476.7L613.3,477.5L609.2,479.2L606.7,483.3L598.3,485.0L598.3,493.3L593.3,500.0L600.8,502.5L606.7,505.0L616.7,508.3L625.0,513.3L635.0,513.3L646.7,515.0L645.0,520.0L636.7,526.7L633.3,535.8L621.7,535.8L616.7,531.7L613.3,529.2L610.0,528.3L605.0,528.3L602.5,523.3L600.8,516.7L600.0,510.0L596.7,508.3L592.5,506.7L590.0,510.8L593.3,513.3L588.3,520.0L586.7,515.0L573.3,510.0L570.0,510.8L563.3,509.2L556.7,510.8L562.5,516.7L559.2,524.2L555.0,534.7L558.3,542.5L554.2,550.0L548.3,552.5L540.0,551.7L531.7,548.3L523.3,545.8L518.3,545.0L515.0,547.5L511.7,543.3L506.7,526.7L505.0,511.7L491.7,500.8L497.5,493.3L500.0,485.8L496.7,471.7L506.7,470.8L505.8,468.3L505.8,451.7L506.7,441.7L505.0,433.3L506.7,425.0L505.0,416.7"/>
<polygon fill="#B3B3B3" stroke="#B3B3B3" stroke-opacity="1" stroke-width="0.6" points="525.8,486.7 540.0,493.3 555.8,501.7 546.7,515.0 535.0,510.0 525.0,505.8 524.2,499.7"/><path fill="none" d="M525.8,486.7L540.0,493.3L555.8,501.7L546.7,515.0L535.0,510.0L525.0,505.8L524.2,499.7L525.8,486.7"/>
<polygon fill="#337AB8" stroke="#337AB8" stroke-opacity="1" stroke-width="0.6" points="496.7,471.7 506.7,470.8 515.0,475.0 521.7,481.7 525.0,490.0 524.2,499.2 514.2,500.0 508.3,495.0 500.0,485.0"/><path fill="none" d="M496.7,471.7L506.7,470.8L515.0,475.0L521.7,481.7L525.0,490.0L524.2,499.2L514.2,500.0L508.3,495.0L500.0,485.0L496.7,471.7"/>
<polygon fill="#6BAAD4" stroke="#6BAAD4" stroke-opacity="1" stroke-width="0.6" points="490.0,468.3 496.7,478.3 502.5,485.0 497.5,492.5 490.0,485.0"/><path fill="none" d="M490.0,468.3L496.7,478.3L502.5,485.0L497.5,492.5L490.0,485.0M490.0,468.3"/>
<polygon fill="#337AB8" stroke="#337AB8" stroke-opacity="1" stroke-width="0.6" points="490.0,492.5 497.5,493.3 491.7,500.8 490.0,500.0"/><path fill="none" d="M490.0,492.5L497.5,493.3L491.7,500.8L490.0,500.0M490.0,492.5"/>
<polygon fill="#337AB8" stroke="#337AB8" stroke-opacity="1" stroke-width="0.6" points="490.0,502.5 491.7,500.8 505.0,511.7 506.7,526.7 511.7,543.3 515.0,547.5 510.0,545.0 500.0,526.7 490.0,510.0"/><path fill="none" d="M490.0,502.5L491.7,500.8L505.0,511.7L506.7,526.7L511.7,543.3L515.0,547.5L510.0,545.0L500.0,526.7L490.0,510.0M490.0,502.5"/>
<polygon fill="#337AB8" stroke="#337AB8" stroke-opacity="1" stroke-width="0.6" points="609.2,479.2 613.3,477.5 616.7,476.7 620.0,478.3 606.7,493.3 603.3,501.7 600.8,502.5 593.3,500.0 598.3,493.3 598.3,485.0 606.7,483.3"/><path fill="none" d="M609.2,479.2L613.3,477.5L616.7,476.7L620.0,478.3L606.7,493.3L603.3,501.7L600.8,502.5L593.3,500.0L598.3,493.3L598.3,485.0L606.7,483.3L609.2,479.2"/>
<polygon fill="#337AB8" stroke="#337AB8" stroke-opacity="1" stroke-width="0.6" points="620.0,478.3 625.0,473.3 643.3,475.8 640.0,483.3 635.0,491.7 634.2,498.3 638.3,511.7 625.0,513.3 616.7,508.3 606.7,505.0 600.8,502.5 603.3,501.7 606.7,493.3"/><path fill="none" d="M620.0,478.3L625.0,473.3L643.3,475.8L640.0,483.3L635.0,491.7L634.2,498.3L638.3,511.7L625.0,513.3L616.7,508.3L606.7,505.0L600.8,502.5L603.3,501.7L606.7,493.3L620.0,478.3"/>
<polygon fill="#337AB8" stroke="#337AB8" stroke-opacity="1" stroke-width="0.6" points="643.3,475.8 655.0,478.3 665.0,481.7 680.0,486.3 666.7,498.3 660.0,500.0 657.5,506.7 656.7,510.8 650.0,515.0 646.7,515.0 638.3,511.7 634.2,498.3 635.0,491.7 640.0,483.3"/><path fill="none" d="M643.3,475.8L655.0,478.3L665.0,481.7L680.0,486.3L666.7,498.3L660.0,500.0L657.5,506.7L656.7,510.8L650.0,515.0L646.7,515.0L638.3,511.7L634.2,498.3L635.0,491.7L640.0,483.3L643.3,475.8"/>
<polygon fill="#337AB8" stroke="#337AB8" stroke-opacity="1" stroke-width="0.6" points="660.0,500.0 666.7,498.3 672.5,502.5 670.8,509.2 663.3,510.0 657.5,506.7"/><path fill="none" d="M660.0,500.0L666.7,498.3L672.5,502.5L670.8,509.2L663.3,510.0L657.5,506.7L660.0,500.0"/>
<polygon fill="#DEEBF7" stroke="#DEEBF7" stroke-opacity="1" stroke-width="0.6" points="557.5,510.8 563.3,509.2 570.0,510.8 573.3,510.3 577.5,518.3 583.3,526.7 586.7,533.3 590.8,539.2 589.7,545.3 582.5,549.2 576.7,552.5 563.3,541.7 555.0,534.7 560.0,524.2 562.5,516.7"/><path fill="none" d="M557.5,510.8L563.3,509.2L570.0,510.8L573.3,510.3L577.5,518.3L583.3,526.7L586.7,533.3L590.8,539.2L589.7,545.3L582.5,549.2L576.7,552.5L563.3,541.7L555.0,534.7L560.0,524.2L562.5,516.7L557.5,510.8"/>
<polygon fill="#DEEBF7" stroke="#DEEBF7" stroke-opacity="1" stroke-width="0.6" points="576.7,553.3 590.0,547.5 592.0,548.3 598.3,555.8 605.0,558.3 598.3,565.8 596.7,565.8"/><path fill="none" d="M576.7,553.3L590.0,547.5L592.0,548.3L598.3,555.8L605.0,558.3L598.3,565.8L596.7,565.8L576.7,553.3"/>
<polygon fill="#337AB8" stroke="#337AB8" stroke-opacity="1" stroke-width="0.6" points="573.3,510.3 586.7,515.0 588.3,520.0 594.2,526.7 596.7,530.0 594.2,535.0 590.8,539.2 586.7,533.3 583.3,526.7 577.5,518.3"/><path fill="none" d="M573.3,510.3L586.7,515.0L588.3,520.0L594.2,526.7L596.7,530.0L594.2,535.0L590.8,539.2L586.7,533.3L583.3,526.7L577.5,518.3L573.3,510.3"/>
<polygon fill="#337AB8" stroke="#337AB8" stroke-opacity="1" stroke-width="0.6" points="590.0,510.8 592.5,506.7 596.7,508.3 595.0,516.7 594.2,526.7 588.3,520.0 593.3,513.3"/><path fill="none" d="M590.0,510.8L592.5,506.7L596.7,508.3L595.0,516.7L594.2,526.7L588.3,520.0L593.3,513.3L590.0,510.8"/>
<polygon fill="#B3D0E8" stroke="#B3D0E8" stroke-opacity="1" stroke-width="0.6" points="596.7,508.3 600.0,510.0 600.8,516.7 602.5,523.3 605.0,528.3 610.0,528.3 613.3,529.2 616.7,531.7 621.7,535.8 633.3,535.8 631.7,545.0 623.3,546.7 613.3,545.8 606.7,538.3 596.7,530.0 594.2,526.7 595.0,516.7"/><path fill="none" d="M596.7,508.3L600.0,510.0L600.8,516.7L602.5,523.3L605.0,528.3L610.0,528.3L613.3,529.2L616.7,531.7L621.7,535.8L633.3,535.8L631.7,545.0L623.3,546.7L613.3,545.8L606.7,538.3L596.7,530.0L594.2,526.7L595.0,516.7L596.7,508.3"/>
<polygon fill="#337AB8" stroke="#337AB8" stroke-opacity="1" stroke-width="0.6" points="596.7,530.0 606.7,538.3 613.3,545.8 612.5,548.3 605.0,557.5 596.7,551.7 592.0,545.0 590.8,539.2 594.2,535.0"/><path fill="none" d="M596.7,530.0L606.7,538.3L613.3,545.8L612.5,548.3L605.0,557.5L596.7,551.7L592.0,545.0L590.8,539.2L594.2,535.0L596.7,530.0"/>
<polygon fill="#B3D0E8" stroke="#B3D0E8" stroke-opacity="1" stroke-width="0.6" points="646.7,515.0 650.0,521.7 650.8,526.7 656.7,530.0 664.2,530.0 665.8,533.3 669.2,543.3 656.7,544.2 631.7,542.5 633.3,535.8 636.7,526.7 645.0,520.0"/><path fill="none" d="M646.7,515.0L650.0,521.7L650.8,526.7L656.7,530.0L664.2,530.0L665.8,533.3L669.2,543.3L656.7,544.2L631.7,542.5L633.3,535.8L636.7,526.7L645.0,520.0L646.7,515.0"/>
<polygon fill="#337AB8" stroke="#337AB8" stroke-opacity="1" stroke-width="0.6" points="650.8,523.3 656.7,519.2 665.0,518.3 666.7,523.3 664.2,530.0 656.7,530.0 650.8,526.7"/><path fill="none" d="M650.8,523.3L656.7,519.2L665.0,518.3L666.7,523.3L664.2,530.0L656.7,530.0L650.8,526.7L650.8,523.3"/>
<polygon fill="#B3D0E8" stroke="#B3D0E8" stroke-opacity="1" stroke-width="0.6" points="646.7,515.0 650.0,515.0 656.7,510.8 661.7,513.3 660.8,516.7 656.7,519.2 650.8,523.3 650.0,521.7"/><path fill="none" d="M646.7,515.0L650.0,515.0L656.7,510.8L661.7,513.3L660.8,516.7L656.7,519.2L650.8,523.3L650.0,521.7L646.7,515.0"/>
<polygon fill="#DEEBF7" stroke="#DEEBF7" stroke-opacity="1" stroke-width="0.6" points="631.7,543.0 656.7,544.7 669.2,543.7 670.0,546.7 656.7,550.8 630.8,548.3"/><path fill="none" d="M631.7,543.0L656.7,544.7L669.2,543.7L670.0,546.7L656.7,550.8L630.8,548.3L631.7,543.0"/>
<polygon fill="#DEEBF7" stroke="#DEEBF7" stroke-opacity="1" stroke-width="0.6" points="495.0,531.2 498.3,527.5 506.7,538.3 515.0,547.5 523.3,550.0 531.7,552.5 540.0,556.7 545.0,563.3 553.3,573.3 558.3,579.2 573.3,585.0 596.7,593.3 598.3,595.0 620.0,599.2 633.3,580.0 636.7,583.3 640.0,590.0 645.0,595.0 648.3,600.8 654.2,594.2 656.7,606.7 651.3,610.0 651.3,631.7 646.7,631.7 646.7,620.0 606.7,623.3 583.3,643.3 536.7,635.0 466.7,578.3 480.0,556.7 493.3,538.3"/><path fill="none" d="M495.0,531.2L498.3,527.5L506.7,538.3L515.0,547.5L523.3,550.0L531.7,552.5L540.0,556.7L545.0,563.3L553.3,573.3L558.3,579.2L573.3,585.0L596.7,593.3L598.3,595.0L620.0,599.2L633.3,580.0L636.7,583.3L640.0,590.0L645.0,595.0L648.3,600.8L654.2,594.2L656.7,606.7L651.3,610.0L651.3,631.7L646.7,631.7L646.7,620.0L606.7,623.3L583.3,643.3L536.7,635.0L466.7,578.3M480.0,556.7L493.3,538.3L495.0,531.2"/>
<polygon fill="#B3D0E8" stroke="#B3D0E8" stroke-opacity="1" stroke-width="0.6" points="515.0,547.5 523.3,550.0 531.7,552.5 540.0,551.7 551.7,553.3 554.2,560.0 561.7,566.7 558.3,579.2 553.3,573.3 545.0,563.3 540.0,556.7"/><path fill="none" d="M515.0,547.5L523.3,550.0L531.7,552.5L540.0,551.7L551.7,553.3L554.2,560.0L561.7,566.7L558.3,579.2L553.3,573.3L545.0,563.3L540.0,556.7L515.0,547.5"/>
<polygon fill="#B3B3B3" stroke="#B3B3B3" stroke-opacity="1" stroke-width="0.6" points="551.7,552.5 558.3,545.0 576.7,553.3 596.7,565.8 600.0,580.0 593.3,581.7 580.0,582.5 576.7,578.3 570.0,575.0 561.7,573.3 561.7,566.7 554.2,559.2"/><path fill="none" d="M551.7,552.5L558.3,545.0L576.7,553.3L596.7,565.8L600.0,580.0L593.3,581.7L580.0,582.5L576.7,578.3L570.0,575.0L561.7,573.3L561.7,566.7L554.2,559.2L551.7,552.5"/>
<polygon fill="#337AB8" stroke="#337AB8" stroke-opacity="1" stroke-width="0.6" points="561.7,573.3 570.0,575.0 576.7,578.3 580.0,582.5 593.3,581.7 600.0,580.0 598.3,594.2 573.3,585.0 558.3,579.2"/><path fill="none" d="M561.7,573.3L570.0,575.0L576.7,578.3L580.0,582.5L593.3,581.7L600.0,580.0L598.3,594.2L573.3,585.0L558.3,579.2L561.7,573.3"/>
<polygon fill="#6BAAD4" stroke="#6BAAD4" stroke-opacity="1" stroke-width="0.6" points="596.7,566.7 606.7,567.5 625.0,569.2 635.0,575.8 633.3,580.0 620.0,599.2 598.3,595.0 600.0,580.0"/><path fill="none" d="M596.7,566.7L606.7,567.5L625.0,569.2L635.0,575.8L633.3,580.0L620.0,599.2L598.3,595.0L600.0,580.0L596.7,566.7"/>
<polygon fill="#17519C" stroke="#17519C" stroke-opacity="1" stroke-width="0.6" points="614.2,547.5 630.0,550.0 631.7,553.3 628.3,563.3 625.0,569.2 606.7,567.5 598.3,565.8 605.0,558.3"/><path fill="none" d="M614.2,547.5L630.0,550.0L631.7,553.3L628.3,563.3L625.0,569.2L606.7,567.5L598.3,565.8L605.0,558.3L614.2,547.5"/>
<polygon fill="#6BAAD4" stroke="#6BAAD4" stroke-opacity="1" stroke-width="0.6" points="631.7,551.7 640.0,550.8 640.8,555.0 638.3,565.8 628.3,564.2"/><path fill="none" d="M631.7,551.7L640.0,550.8L640.8,555.0L638.3,565.8L628.3,564.2L631.7,551.7"/>
<polygon fill="#17519C" stroke="#17519C" stroke-opacity="1" stroke-width="0.6" points="640.0,550.8 655.0,551.7 654.2,558.3 651.7,570.0 639.2,565.8 640.8,555.0"/><path fill="none" d="M640.0,550.8L655.0,551.7L654.2,558.3L651.7,570.0L639.2,565.8L640.8,555.0L640.0,550.8"/>
<polygon fill="#17519C" stroke="#17519C" stroke-opacity="1" stroke-width="0.6" points="625.0,566.7 628.3,564.2 639.2,565.8 651.7,570.0 656.7,575.0 671.7,583.3 664.2,586.7 655.0,581.7 646.7,575.8 635.0,575.8"/><path fill="none" d="M625.0,566.7L628.3,564.2L639.2,565.8L651.7,570.0L656.7,575.0L671.7,583.3L664.2,586.7L655.0,581.7L646.7,575.8L635.0,575.8L625.0,566.7"/>
<polygon fill="#17519C" stroke="#17519C" stroke-opacity="1" stroke-width="0.6" points="635.0,575.8 646.7,575.8 655.0,581.7 664.2,586.7 660.8,595.0 651.7,598.3 650.0,600.8 646.7,595.8 640.8,590.8 640.0,590.0 636.7,583.3"/><path fill="none" d="M635.0,575.8L646.7,575.8L655.0,581.7L664.2,586.7L660.8,595.0L651.7,598.3L650.0,600.8L646.7,595.8L640.8,590.8L640.0,590.0L636.7,583.3L635.0,575.8"/>
<polygon fill="#6BAAD4" stroke="#6BAAD4" stroke-opacity="1" stroke-width="0.6" points="655.0,558.3 663.3,560.0 665.0,566.7 661.7,575.0 656.7,575.0 651.7,570.0"/><path fill="none" d="M655.0,558.3L663.3,560.0L665.0,566.7L661.7,575.0L656.7,575.0L651.7,570.0L655.0,558.3"/>
<polygon fill="#6BAAD4" stroke="#6BAAD4" stroke-opacity="1" stroke-width="0.6" points="663.3,560.0 677.5,559.2 680.0,568.3 668.3,573.3 661.7,576.7 665.0,566.7"/><path fill="none" d="M663.3,560.0L677.5,559.2L680.0,568.3L668.3,573.3L661.7,576.7L665.0,566.7L663.3,560.0"/>
<polygon fill="#337AB8" stroke="#337AB8" stroke-opacity="1" stroke-width="0.6" points="656.7,548.3 673.3,548.3 677.5,559.2 663.3,560.0 655.0,558.3"/><path fill="none" d="M656.7,548.3L673.3,548.3L677.5,559.2L663.3,560.0L655.0,558.3L656.7,548.3"/>
<polygon fill="#B3B3B3" stroke="#B3B3B3" stroke-opacity="1" stroke-width="0.6" points="665.0,578.3 680.0,570.0 687.5,575.8 689.2,580.0 678.3,585.8 671.7,583.3"/><path fill="none" d="M665.0,578.3L680.0,570.0L687.5,575.8L689.2,580.0L678.3,585.8L671.7,583.3L665.0,578.3"/>
<polygon fill="#337AB8" stroke="#337AB8" stroke-opacity="1" stroke-width="0.6" points="664.2,586.7 671.7,583.3 678.3,585.8 689.2,580.0 694.2,593.3 670.0,594.2"/><path fill="none" d="M664.2,586.7L671.7,583.3L678.3,585.8L689.2,580.0L694.2,593.3L670.0,594.2L664.2,586.7"/>
<polygon fill="#337AB8" stroke="#337AB8" stroke-opacity="1" stroke-width="0.6" points="596.7,530.8 613.3,548.3 605.0,558.3 598.3,555.8 592.0,548.3 591.7,540.0"/><path fill="none" d="M596.7,530.8L613.3,548.3L605.0,558.3L598.3,555.8L592.0,548.3L591.7,540.0L596.7,530.8"/>
<polygon fill="#17519C" stroke="#17519C" stroke-opacity="1" stroke-width="0.6" points="333.8,206.2 352.5,190.0 365.0,177.5 380.0,168.8 395.0,164.5 418.8,163.8 425.0,168.8 432.5,176.2 440.0,183.8 443.2,188.8 443.8,193.8 448.8,196.2 453.8,206.2 456.2,217.5 455.0,223.8 446.2,235.0 420.0,260.8 395.0,260.8 387.0,253.8 383.8,256.2 376.2,257.0 365.0,258.2 353.8,247.5 351.2,243.8 347.5,242.5 350.0,235.0 343.8,227.5 341.2,220.0 337.5,212.5"/><path fill="none" d="M333.8,206.2L352.5,190.0L365.0,177.5L380.0,168.8L395.0,164.5L418.8,163.8L425.0,168.8L432.5,176.2L440.0,183.8L443.2,188.8L443.8,193.8L448.8,196.2L453.8,206.2L456.2,217.5L455.0,223.8L446.2,235.0L420.0,260.8L395.0,260.8L387.0,253.8L383.8,256.2L376.2,257.0L365.0,258.2L353.8,247.5L351.2,243.8L347.5,242.5L350.0,235.0L343.8,227.5L341.2,220.0L337.5,212.5L333.8,206.2"/>
<polygon fill="#17519C" stroke="#17519C" stroke-opacity="1" stroke-width="0.6" points="480.0,234.2 495.0,228.8 507.5,221.2 517.5,213.0 523.2,233.0 523.2,263.0 507.5,261.2 495.0,259.5 484.2,260.5"/><path fill="none" d="M480.0,234.2L495.0,228.8L507.5,221.2L517.5,213.0L523.2,233.0L523.2,263.0L507.5,261.2L495.0,259.5L484.2,260.5L480.0,234.2"/>
<polygon fill="#B3D0E8" stroke="#B3D0E8" stroke-opacity="1" stroke-width="0.6" points="457.0,280.0 463.8,275.8 473.8,276.2 477.5,280.0 475.5,295.0 455.0,296.2 456.2,287.5"/><path fill="none" d="M457.0,280.0L463.8,275.8L473.8,276.2L477.5,280.0L475.5,295.0L455.0,296.2L456.2,287.5L457.0,280.0"/>
<polygon fill="#337AB8" stroke="#337AB8" stroke-opacity="1" stroke-width="0.6" points="455.0,297.0 475.8,296.2 478.8,313.8 465.0,313.0 451.2,318.8 448.2,311.2 450.0,302.5"/><path fill="none" d="M455.0,297.0L475.8,296.2L478.8,313.8L465.0,313.0L451.2,318.8L448.2,311.2L450.0,302.5L455.0,297.0"/>
<polygon fill="#B3D0E8" stroke="#B3D0E8" stroke-opacity="1" stroke-width="0.6" points="451.2,319.5 465.0,313.0 478.8,314.2 480.5,318.8 478.0,327.5 472.5,331.2 469.5,338.8 455.5,333.0 453.0,327.5"/><path fill="none" d="M451.2,319.5L465.0,313.0L478.8,314.2L480.5,318.8L478.0,327.5L472.5,331.2L469.5,338.8L455.5,333.0L453.0,327.5L451.2,319.5"/>
<polygon fill="#B3D0E8" stroke="#B3D0E8" stroke-opacity="1" stroke-width="0.6" points="431.2,339.5 451.2,320.0 453.0,327.5 455.0,333.0 447.5,338.8 452.0,346.2 450.0,352.0 440.0,346.2"/><path fill="none" d="M431.2,339.5L451.2,320.0L453.0,327.5L455.0,333.0L447.5,338.8L452.0,346.2L450.0,352.0L440.0,346.2L431.2,339.5"/>
<polygon fill="#DEEBF7" stroke="#DEEBF7" stroke-opacity="1" stroke-width="0.6" points="447.5,338.8 455.5,333.8 469.5,338.8 478.8,343.8 475.0,355.0 467.5,360.5 460.0,353.8 452.0,346.2"/><path fill="none" d="M447.5,338.8L455.5,333.8L469.5,338.8L478.8,343.8L475.0,355.0L467.5,360.5L460.0,353.8L452.0,346.2L447.5,338.8"/>
<polygon fill="#6BAAD4" stroke="#6BAAD4" stroke-opacity="1" stroke-width="0.6" points="480.5,318.8 484.5,315.0 493.8,328.8 497.5,336.2 485.0,342.5 478.8,343.8 469.5,338.8 472.5,331.2 478.0,327.5"/><path fill="none" d="M480.5,318.8L484.5,315.0L493.8,328.8L497.5,336.2L485.0,342.5L478.8,343.8L469.5,338.8L472.5,331.2L478.0,327.5L480.5,318.8"/>
<polygon fill="#6BAAD4" stroke="#6BAAD4" stroke-opacity="1" stroke-width="0.6" points="484.5,315.0 505.0,311.2 502.0,323.8 503.8,332.5 497.5,336.2 493.8,328.8"/><path fill="none" d="M484.5,315.0L505.0,311.2L502.0,323.8L503.8,332.5L497.5,336.2L493.8,328.8L484.5,315.0"/>
<polygon fill="#B3D0E8" stroke="#B3D0E8" stroke-opacity="1" stroke-width="0.6" points="505.0,311.2 530.0,311.2 531.2,325.0 526.2,326.2 523.8,333.8 517.5,333.8 512.5,332.5 503.8,332.5 502.0,323.8"/><path fill="none" d="M505.0,311.2L530.0,311.2L531.2,325.0L526.2,326.2L523.8,333.8L517.5,333.8L512.5,332.5L503.8,332.5L502.0,323.8L505.0,311.2"/>
<polygon fill="#B3D0E8" stroke="#B3D0E8" stroke-opacity="1" stroke-width="0.6" points="503.8,333.0 517.5,334.5 523.8,345.5 515.0,352.5 508.0,359.5 504.5,350.0 500.0,337.5"/><path fill="none" d="M503.8,333.0L517.5,334.5L523.8,345.5L515.0,352.5L508.0,359.5L504.5,350.0L500.0,337.5L503.8,333.0"/>
<polygon fill="#B3D0E8" stroke="#B3D0E8" stroke-opacity="1" stroke-width="0.6" points="526.2,326.2 531.2,325.0 533.8,340.0 539.5,356.2 533.8,358.8 530.0,351.2 523.8,345.5 521.2,338.8 523.8,333.8"/><path fill="none" d="M526.2,326.2L531.2,325.0L533.8,340.0L539.5,356.2L533.8,358.8L530.0,351.2L523.8,345.5L521.2,338.8L523.8,333.8L526.2,326.2"/>
<polygon fill="#6BAAD4" stroke="#6BAAD4" stroke-opacity="1" stroke-width="0.6" points="508.0,359.5 515.0,352.5 523.8,345.5 530.0,351.2 533.8,358.8 539.5,356.2 542.5,371.2 515.0,376.2 512.0,367.5"/><path fill="none" d="M508.0,359.5L515.0,352.5L523.8,345.5L530.0,351.2L533.8,358.8L539.5,356.2L542.5,371.2L515.0,376.2L512.0,367.5L508.0,359.5"/>
<polygon fill="#6BAAD4" stroke="#6BAAD4" stroke-opacity="1" stroke-width="0.6" points="478.8,343.8 485.0,342.5 497.5,336.2 500.0,337.5 504.5,350.0 508.0,359.5 512.0,367.5 512.5,371.2 503.8,370.5 500.0,378.8 490.0,381.2 483.8,376.2 480.0,378.8 475.0,365.0 468.0,362.5 467.5,360.5 475.0,355.0"/><path fill="none" d="M478.8,343.8L485.0,342.5L497.5,336.2L500.0,337.5L504.5,350.0L508.0,359.5L512.0,367.5L512.5,371.2L503.8,370.5L500.0,378.8L490.0,381.2L483.8,376.2L480.0,378.8L475.0,365.0L468.0,362.5L467.5,360.5L475.0,355.0L478.8,343.8"/>
<polygon fill="#B3D0E8" stroke="#B3D0E8" stroke-opacity="1" stroke-width="0.6" points="468.0,362.5 475.0,365.0 480.0,378.8 479.5,390.0 467.5,392.5 462.5,383.8 454.5,378.8 460.0,371.2"/><path fill="none" d="M468.0,362.5L475.0,365.0L480.0,378.8L479.5,390.0L467.5,392.5L462.5,383.8L454.5,378.8L460.0,371.2L468.0,362.5"/>
<polygon fill="#DEEBF7" stroke="#DEEBF7" stroke-opacity="1" stroke-width="0.6" points="454.5,378.8 462.5,383.8 465.0,390.0 467.0,401.2 457.5,404.5 443.8,408.0 439.5,397.5 442.5,388.8"/><path fill="none" d="M454.5,378.8L462.5,383.8L465.0,390.0L467.0,401.2L457.5,404.5L443.8,408.0L439.5,397.5L442.5,388.8L454.5,378.8"/>
<polygon fill="#B3D0E8" stroke="#B3D0E8" stroke-opacity="1" stroke-width="0.6" points="480.0,378.8 483.8,376.2 485.0,383.8 490.0,381.2 492.5,395.0 494.5,404.5 480.0,407.0 475.0,403.8 467.0,401.2 465.0,392.5 479.5,390.0"/><path fill="none" d="M480.0,378.8L483.8,376.2L485.0,383.8L490.0,381.2L492.5,395.0L494.5,404.5L480.0,407.0L475.0,403.8L467.0,401.2L465.0,392.5L479.5,390.0L480.0,378.8"/>
<polygon fill="#B3D0E8" stroke="#B3D0E8" stroke-opacity="1" stroke-width="0.6" points="480.0,407.0 494.5,404.5 497.5,415.0 488.8,416.2 483.8,411.2"/><path fill="none" d="M480.0,407.0L494.5,404.5L497.5,415.0L488.8,416.2L483.8,411.2L480.0,407.0"/>
<polygon fill="#6BAAD4" stroke="#6BAAD4" stroke-opacity="1" stroke-width="0.6" points="490.0,381.2 500.0,378.8 503.8,370.5 512.5,371.2 515.0,376.2 520.0,400.0 519.5,412.5 507.5,415.0 497.5,415.0 494.5,404.5 492.5,395.0"/><path fill="none" d="M490.0,381.2L500.0,378.8L503.8,370.5L512.5,371.2L515.0,376.2L520.0,400.0L519.5,412.5L507.5,415.0L497.5,415.0L494.5,404.5L492.5,395.0L490.0,381.2"/>
<polygon fill="#6BAAD4" stroke="#6BAAD4" stroke-opacity="1" stroke-width="0.6" points="515.0,376.2 542.5,371.2 547.5,385.0 557.5,397.5 571.2,408.8 561.2,411.2 563.8,417.5 550.0,425.0 540.0,426.2 532.5,417.5 519.5,412.5 520.0,400.0"/><path fill="none" d="M515.0,376.2L542.5,371.2L547.5,385.0L557.5,397.5L571.2,408.8L561.2,411.2L563.8,417.5L550.0,425.0L540.0,426.2L532.5,417.5L519.5,412.5L520.0,400.0L515.0,376.2"/>
<polygon fill="#6BAAD4" stroke="#6BAAD4" stroke-opacity="1" stroke-width="0.6" points="460.0,405.0 467.0,401.2 475.0,403.8 483.8,411.2 488.8,416.2 486.2,421.2 475.0,420.0 462.5,416.2 458.8,410.0"/><path fill="none" d="M460.0,405.0L467.0,401.2L475.0,403.8L483.8,411.2L488.8,416.2L486.2,421.2L475.0,420.0L462.5,416.2L458.8,410.0L460.0,405.0"/>
<polygon fill="#6BAAD4" stroke="#6BAAD4" stroke-opacity="1" stroke-width="0.6" points="443.8,408.0 457.5,404.5 460.0,405.0 458.8,410.0 462.5,416.2 460.0,422.5 450.0,420.0 443.0,417.5"/><path fill="none" d="M443.8,408.0L457.5,404.5L460.0,405.0L458.8,410.0L462.5,416.2L460.0,422.5L450.0,420.0L443.0,417.5L443.8,408.0"/>
<polygon fill="#B3D0E8" stroke="#B3D0E8" stroke-opacity="1" stroke-width="0.6" points="462.5,416.2 475.0,420.0 486.2,421.2 488.8,416.2 497.5,415.0 507.5,415.0 512.5,426.2 506.2,430.0 507.5,440.0 508.8,448.8 495.0,440.0 475.0,428.8 462.5,422.5"/><path fill="none" d="M462.5,416.2L475.0,420.0L486.2,421.2L488.8,416.2L497.5,415.0L507.5,415.0L512.5,426.2L506.2,430.0L507.5,440.0L508.8,448.8L495.0,440.0L475.0,428.8L462.5,422.5L462.5,416.2"/>
<polygon fill="#337AB8" stroke="#337AB8" stroke-opacity="1" stroke-width="0.6" points="440.0,420.0 443.0,417.5 450.0,420.0 460.0,422.5 450.0,440.0 443.0,447.5 436.2,440.0 433.2,433.8 436.2,426.2"/><path fill="none" d="M440.0,420.0L443.0,417.5L450.0,420.0L460.0,422.5L450.0,440.0L443.0,447.5L436.2,440.0L433.2,433.8L436.2,426.2L440.0,420.0"/>
<polygon fill="#337AB8" stroke="#337AB8" stroke-opacity="1" stroke-width="0.6" points="418.8,401.2 430.0,407.5 440.0,417.5 440.0,420.0 436.2,427.5 430.0,423.8 418.8,420.0"/><path fill="none" d="M418.8,401.2L430.0,407.5L440.0,417.5L440.0,420.0L436.2,427.5L430.0,423.8L418.8,420.0L418.8,401.2"/>
<polygon fill="#6BAAD4" stroke="#6BAAD4" stroke-opacity="1" stroke-width="0.6" points="392.5,395.0 407.5,394.5 418.0,400.0 418.8,420.0 405.0,420.0 390.0,424.5 386.2,412.5 380.0,405.0"/><path fill="none" d="M392.5,395.0L407.5,394.5L418.0,400.0L418.8,420.0L405.0,420.0L390.0,424.5L386.2,412.5L380.0,405.0L392.5,395.0"/>
<polygon fill="#6BAAD4" stroke="#6BAAD4" stroke-opacity="1" stroke-width="0.6" points="366.2,375.0 375.0,382.5 386.2,391.2 392.5,395.0 380.0,405.0 363.8,413.8 357.5,405.0 347.0,396.2"/><path fill="none" d="M366.2,375.0L375.0,382.5L386.2,391.2L392.5,395.0L380.0,405.0L363.8,413.8L357.5,405.0L347.0,396.2L366.2,375.0"/>
<polygon fill="#B3D0E8" stroke="#B3D0E8" stroke-opacity="1" stroke-width="0.6" points="347.0,396.2 357.5,405.0 363.8,413.8 352.5,420.0 340.0,432.5 341.2,443.0 328.8,443.8 322.5,437.5 320.0,438.8 313.0,430.0 327.5,417.5"/><path fill="none" d="M347.0,396.2L357.5,405.0L363.8,413.8L352.5,420.0L340.0,432.5L341.2,443.0L328.8,443.8L322.5,437.5L320.0,438.8L313.0,430.0L327.5,417.5L347.0,396.2"/>
<polygon fill="#DEEBF7" stroke="#DEEBF7" stroke-opacity="1" stroke-width="0.6" points="363.8,414.5 372.5,431.2 365.0,443.8 341.2,443.8 339.5,432.5 352.5,420.0"/><path fill="none" d="M363.8,414.5L372.5,431.2L365.0,443.8L341.2,443.8L339.5,432.5L352.5,420.0L363.8,414.5"/>
<polygon fill="#6BAAD4" stroke="#6BAAD4" stroke-opacity="1" stroke-width="0.6" points="380.0,405.0 386.2,412.5 390.0,424.5 372.5,431.2 363.8,414.5"/><path fill="none" d="M380.0,405.0L386.2,412.5L390.0,424.5L372.5,431.2L363.8,414.5L380.0,405.0"/>
<polygon fill="#6BAAD4" stroke="#6BAAD4" stroke-opacity="1" stroke-width="0.6" points="390.0,424.5 402.5,421.2 401.2,428.8 410.0,437.5 408.8,452.5 412.5,468.0 398.0,471.2 401.2,455.0 398.8,445.0 392.5,441.2 396.2,436.2"/><path fill="none" d="M390.0,424.5L402.5,421.2L401.2,428.8L410.0,437.5L408.8,452.5L412.5,468.0L398.0,471.2L401.2,455.0L398.8,445.0L392.5,441.2L396.2,436.2L390.0,424.5"/>
<polygon fill="#B3D0E8" stroke="#B3D0E8" stroke-opacity="1" stroke-width="0.6" points="460.0,422.5 462.5,422.5 469.5,427.0 468.8,435.0 470.0,456.2 463.8,450.0 455.0,440.0 450.0,440.0"/><path fill="none" d="M460.0,422.5L462.5,422.5L469.5,427.0L468.8,435.0L470.0,456.2L463.8,450.0L455.0,440.0L450.0,440.0L460.0,422.5"/>
<polygon fill="#DEEBF7" stroke="#DEEBF7" stroke-opacity="1" stroke-width="0.6" points="450.0,440.0 455.0,440.0 464.5,450.0 460.0,458.8 450.0,451.2 443.8,447.5"/><path fill="none" d="M450.0,440.0L455.0,440.0L464.5,450.0L460.0,458.8L450.0,451.2L443.8,447.5L450.0,440.0"/>
<polygon fill="#337AB8" stroke="#337AB8" stroke-opacity="1" stroke-width="0.6" points="441.2,463.8 460.0,470.0 476.2,476.2 472.5,487.5 466.2,495.0 465.0,505.0 475.0,510.0 472.5,516.2 465.0,520.0 452.5,512.5 435.0,500.0 437.5,482.5"/><path fill="none" d="M441.2,463.8L460.0,470.0L476.2,476.2L472.5,487.5L466.2,495.0L465.0,505.0L475.0,510.0L472.5,516.2L465.0,520.0L452.5,512.5L435.0,500.0L437.5,482.5L441.2,463.8"/>
<polygon fill="#6BAAD4" stroke="#6BAAD4" stroke-opacity="1" stroke-width="0.6" points="472.5,462.5 490.0,470.0 497.5,472.5 502.0,483.8 497.5,492.0 485.0,480.0 476.2,476.2 473.8,470.0"/><path fill="none" d="M472.5,462.5L490.0,470.0L497.5,472.5L502.0,483.8L497.5,492.0L485.0,480.0L476.2,476.2L473.8,470.0L472.5,462.5"/>
<polygon fill="#337AB8" stroke="#337AB8" stroke-opacity="1" stroke-width="0.6" points="476.2,476.2 485.0,480.0 497.5,492.0 492.5,498.8 485.0,502.5 478.8,492.5 472.5,487.5"/><path fill="none" d="M476.2,476.2L485.0,480.0L497.5,492.0L492.5,498.8L485.0,502.5L478.8,492.5L472.5,487.5L476.2,476.2"/>
<polygon fill="#337AB8" stroke="#337AB8" stroke-opacity="1" stroke-width="0.6" points="497.5,472.5 502.5,470.5 515.0,475.0 522.5,485.0 525.0,498.8 513.8,500.0 502.5,487.5 502.0,483.8"/><path fill="none" d="M497.5,472.5L502.5,470.5L515.0,475.0L522.5,485.0L525.0,498.8L513.8,500.0L502.5,487.5L502.0,483.8L497.5,472.5"/>
<polygon fill="#DEEBF7" stroke="#DEEBF7" stroke-opacity="1" stroke-width="0.6" points="665.0,497.5 677.5,487.5 683.1,495.6 695.0,501.9 700.6,503.8 708.1,510.0 712.5,511.2 715.0,520.0 721.2,518.1 722.5,522.5 715.0,531.2 708.1,533.8 711.2,540.0 713.1,545.0 710.0,550.0 715.0,560.0 710.0,562.5 701.2,562.5 695.0,557.5 690.0,555.6 678.8,561.2 675.6,551.2 670.0,548.1 668.8,543.8 666.9,535.0 663.8,529.4 650.6,523.8 647.5,515.6 660.0,510.0 658.8,505.6"/><path fill="none" d="M665.0,497.5L677.5,487.5L683.1,495.6L695.0,501.9L700.6,503.8L708.1,510.0L712.5,511.2L715.0,520.0L721.2,518.1L722.5,522.5L715.0,531.2L708.1,533.8L711.2,540.0L713.1,545.0L710.0,550.0L715.0,560.0L710.0,562.5L701.2,562.5L695.0,557.5L690.0,555.6L678.8,561.2L675.6,551.2L670.0,548.1L668.8,543.8L666.9,535.0L663.8,529.4L650.6,523.8L647.5,515.6L660.0,510.0L658.8,505.6L665.0,497.5"/>
<polygon fill="#DEEBF7" stroke="#DEEBF7" stroke-opacity="1" stroke-width="0.6" points="710.0,550.0 715.0,560.0 720.0,562.5 715.0,566.2 720.0,571.2 715.0,576.2 710.0,590.0 701.2,590.0 702.5,578.8 708.8,577.5 710.0,570.0 713.1,567.5 705.0,561.9 710.0,562.5"/><path fill="none" d="M710.0,550.0L715.0,560.0L720.0,562.5L715.0,566.2L720.0,571.2L715.0,576.2L710.0,590.0M701.2,590.0L702.5,578.8L708.8,577.5L710.0,570.0L713.1,567.5L705.0,561.9L710.0,562.5L710.0,550.0"/>
<polygon fill="#B3D0E8" stroke="#B3D0E8" stroke-opacity="1" stroke-width="0.6" points="683.1,475.0 693.1,475.0 695.0,477.5 705.0,473.1 710.0,475.0 713.8,481.2 717.5,481.9 715.0,484.4 707.5,488.8 703.8,493.8 701.2,501.2 700.6,503.8 695.0,501.9 687.5,496.9 683.1,495.6 681.2,490.6 677.5,487.5 680.0,486.2 681.9,482.5"/><path fill="none" d="M683.1,475.0L693.1,475.0L695.0,477.5L705.0,473.1L710.0,475.0L713.8,481.2L717.5,481.9L715.0,484.4L707.5,488.8L703.8,493.8L701.2,501.2L700.6,503.8L695.0,501.9L687.5,496.9L683.1,495.6L681.2,490.6L677.5,487.5L680.0,486.2L681.9,482.5L683.1,475.0"/>
<polygon fill="#6BAAD4" stroke="#6BAAD4" stroke-opacity="1" stroke-width="0.6" points="693.8,470.0 735.0,470.0 727.5,477.5 723.8,481.9 717.5,481.9 713.8,481.2 710.0,475.0 705.0,473.1 695.0,477.5 693.1,475.0"/><path fill="none" d="M693.8,470.0M735.0,470.0L727.5,477.5L723.8,481.9L717.5,481.9L713.8,481.2L710.0,475.0L705.0,473.1L695.0,477.5L693.1,475.0L693.8,470.0"/>
<polygon fill="#6BAAD4" stroke="#6BAAD4" stroke-opacity="1" stroke-width="0.6" points="735.0,470.0 756.2,470.0 755.6,476.2 751.2,479.4 746.2,485.6 740.0,493.8 733.1,487.5 725.0,481.9 727.5,477.5"/><path fill="none" d="M735.0,470.0M756.2,470.0L755.6,476.2L751.2,479.4L746.2,485.6L740.0,493.8L733.1,487.5L725.0,481.9L727.5,477.5L735.0,470.0"/>
<polygon fill="#337AB8" stroke="#337AB8" stroke-opacity="1" stroke-width="0.6" points="723.8,481.9 725.0,481.9 733.1,487.5 727.5,495.0 726.2,498.1 720.0,501.2 712.5,511.2 709.4,508.8 701.2,503.8 703.8,493.8 707.5,488.8 715.0,484.4 717.5,481.9"/><path fill="none" d="M723.8,481.9L725.0,481.9L733.1,487.5L727.5,495.0L726.2,498.1L720.0,501.2L712.5,511.2L709.4,508.8L701.2,503.8L703.8,493.8L707.5,488.8L715.0,484.4L717.5,481.9L723.8,481.9"/>
<polygon fill="#337AB8" stroke="#337AB8" stroke-opacity="1" stroke-width="0.6" points="756.2,470.0 767.5,470.0 775.6,479.4 775.0,481.2 768.8,481.9 766.2,487.5 761.9,490.6 760.6,492.5 756.2,483.8 755.6,476.2"/><path fill="none" d="M756.2,470.0M767.5,470.0L775.6,479.4L775.0,481.2L768.8,481.9L766.2,487.5L761.9,490.6L760.6,492.5L756.2,483.8L755.6,476.2L756.2,470.0"/>
<polygon fill="#337AB8" stroke="#337AB8" stroke-opacity="1" stroke-width="0.6" points="768.8,481.9 775.0,481.2 774.4,490.0 773.8,498.1 763.8,503.1 760.0,498.8 760.6,492.5 761.9,490.6 766.2,487.5"/><path fill="none" d="M768.8,481.9L775.0,481.2L774.4,490.0L773.8,498.1L763.8,503.1L760.0,498.8L760.6,492.5L761.9,490.6L766.2,487.5L768.8,481.9"/>
<polygon fill="#337AB8" stroke="#337AB8" stroke-opacity="1" stroke-width="0.6" points="789.4,470.0 808.0,470.0 808.0,476.2 791.2,478.1 790.0,474.4"/><path fill="none" d="M789.4,470.0M808.0,470.0M808.0,476.2L791.2,478.1L790.0,474.4L789.4,470.0"/>
<polygon fill="#B3D0E8" stroke="#B3D0E8" stroke-opacity="1" stroke-width="0.6" points="775.6,479.4 790.0,474.4 791.2,478.1 808.0,476.2 808.0,515.0 797.5,517.5 793.8,513.8 782.5,509.4 777.5,506.2 775.6,501.2 773.8,498.1 774.4,490.0"/><path fill="none" d="M775.6,479.4L790.0,474.4L791.2,478.1L808.0,476.2M808.0,515.0L797.5,517.5L793.8,513.8L782.5,509.4L777.5,506.2L775.6,501.2L773.8,498.1L774.4,490.0L775.6,479.4"/>
<polygon fill="#DEEBF7" stroke="#DEEBF7" stroke-opacity="1" stroke-width="0.6" points="750.0,507.5 763.1,503.1 773.8,498.1 775.6,501.2 777.5,506.2 779.4,510.0 770.0,511.2 763.8,513.8 756.2,519.4 752.5,513.8"/><path fill="none" d="M750.0,507.5L763.1,503.1L773.8,498.1L775.6,501.2L777.5,506.2L779.4,510.0L770.0,511.2L763.8,513.8L756.2,519.4L752.5,513.8L750.0,507.5"/>
<polygon fill="#6BAAD4" stroke="#6BAAD4" stroke-opacity="1" stroke-width="0.6" points="756.2,519.4 763.8,513.8 770.0,511.2 779.4,510.0 782.5,509.4 793.8,513.8 797.5,517.5 799.4,523.8 799.4,538.8 777.5,540.0 760.0,541.2 751.2,542.2 750.6,532.5 757.5,527.5 760.6,522.5"/><path fill="none" d="M756.2,519.4L763.8,513.8L770.0,511.2L779.4,510.0L782.5,509.4L793.8,513.8L797.5,517.5L799.4,523.8L799.4,538.8L777.5,540.0L760.0,541.2L751.2,542.2L750.6,532.5L757.5,527.5L760.6,522.5L756.2,519.4"/>
<polygon fill="#337AB8" stroke="#337AB8" stroke-opacity="1" stroke-width="0.6" points="797.5,517.5 808.0,515.0 808.0,538.8 799.4,538.8 799.4,523.8"/><path fill="none" d="M797.5,517.5L808.0,515.0M808.0,538.8L799.4,538.8L799.4,523.8L797.5,517.5"/>
<polygon fill="#17519C" stroke="#17519C" stroke-opacity="1" stroke-width="0.6" points="740.0,513.8 747.5,513.1 752.5,513.8 756.2,519.4 760.6,522.5 757.5,527.5 750.6,532.5 751.2,542.2 746.2,543.1 742.5,540.6 741.2,535.0 738.8,528.8 743.8,525.0 740.0,520.0 738.8,516.9"/><path fill="none" d="M740.0,513.8L747.5,513.1L752.5,513.8L756.2,519.4L760.6,522.5L757.5,527.5L750.6,532.5L751.2,542.2L746.2,543.1L742.5,540.6L741.2,535.0L738.8,528.8L743.8,525.0L740.0,520.0L738.8,516.9L740.0,513.8"/>
<polygon fill="#6BAAD4" stroke="#6BAAD4" stroke-opacity="1" stroke-width="0.6" points="733.1,487.5 740.0,493.8 748.1,506.2 747.5,513.1 740.0,513.8 736.2,511.2 732.5,510.0 727.5,505.0 726.2,498.1 727.5,495.0"/><path fill="none" d="M733.1,487.5L740.0,493.8L748.1,506.2L747.5,513.1L740.0,513.8L736.2,511.2L732.5,510.0L727.5,505.0L726.2,498.1L727.5,495.0L733.1,487.5"/>
<polygon fill="#17519C" stroke="#17519C" stroke-opacity="1" stroke-width="0.6" points="718.1,513.8 725.0,505.0 730.0,508.8 723.8,519.4"/><path fill="none" d="M718.1,513.8L725.0,505.0L730.0,508.8L723.8,519.4L718.1,513.8"/>
<polygon fill="#17519C" stroke="#17519C" stroke-opacity="1" stroke-width="0.6" points="726.2,517.5 731.9,510.6 736.2,513.1 730.0,519.4"/><path fill="none" d="M726.2,517.5L731.9,510.6L736.2,513.1L730.0,519.4L726.2,517.5"/>
<polygon fill="#17519C" stroke="#17519C" stroke-opacity="1" stroke-width="0.6" points="732.5,523.1 739.4,518.1 743.8,525.0 738.1,528.8"/><path fill="none" d="M732.5,523.1L739.4,518.1L743.8,525.0L738.1,528.8L732.5,523.1"/>
<polygon fill="#B3D0E8" stroke="#B3D0E8" stroke-opacity="1" stroke-width="0.6" points="712.5,511.2 720.0,501.2 726.2,498.1 726.2,500.0 715.0,516.2"/><path fill="none" d="M712.5,511.2L720.0,501.2L726.2,498.1L726.2,500.0L715.0,516.2L712.5,511.2"/>
<polygon fill="#337AB8" stroke="#337AB8" stroke-opacity="1" stroke-width="0.6" points="715.0,531.2 722.5,522.5 727.5,527.5 720.0,536.2"/><path fill="none" d="M715.0,531.2L722.5,522.5L727.5,527.5L720.0,536.2L715.0,531.2"/>
<polygon fill="#B3D0E8" stroke="#B3D0E8" stroke-opacity="1" stroke-width="0.6" points="727.5,527.5 731.2,525.0 736.2,528.8 732.5,532.5 727.5,539.4 722.5,536.2"/><path fill="none" d="M727.5,527.5L731.2,525.0L736.2,528.8L732.5,532.5L727.5,539.4L722.5,536.2L727.5,527.5"/>
<polygon fill="#B3B3B3" stroke="#B3B3B3" stroke-opacity="1" stroke-width="0.6" points="693.8,510.0 700.6,503.8 708.1,510.0 708.8,517.5 705.0,520.0 701.2,528.8 697.5,527.5 693.8,517.5"/><path fill="none" d="M693.8,510.0L700.6,503.8L708.1,510.0L708.8,517.5L705.0,520.0L701.2,528.8L697.5,527.5L693.8,517.5L693.8,510.0"/>
<polygon fill="#B3D0E8" stroke="#B3D0E8" stroke-opacity="1" stroke-width="0.6" points="676.2,513.8 681.2,505.0 687.5,503.8 688.8,511.2 690.0,520.0 687.5,525.0 683.8,520.0 680.0,517.5"/><path fill="none" d="M676.2,513.8L681.2,505.0L687.5,503.8L688.8,511.2L690.0,520.0L687.5,525.0L683.8,520.0L680.0,517.5L676.2,513.8"/>
<polygon fill="#B3D0E8" stroke="#B3D0E8" stroke-opacity="1" stroke-width="0.6" points="691.2,511.2 695.0,503.1 698.8,504.4 693.8,510.0"/><path fill="none" d="M691.2,511.2L695.0,503.1L698.8,504.4L693.8,510.0L691.2,511.2"/>
<polygon fill="#337AB8" stroke="#337AB8" stroke-opacity="1" stroke-width="0.6" points="650.6,523.8 656.2,520.0 665.0,518.8 666.2,522.5 663.8,529.4 656.2,528.8"/><path fill="none" d="M650.6,523.8L656.2,520.0L665.0,518.8L666.2,522.5L663.8,529.4L656.2,528.8L650.6,523.8"/>
<polygon fill="#B3D0E8" stroke="#B3D0E8" stroke-opacity="1" stroke-width="0.6" points="666.2,522.5 671.2,521.2 677.5,527.5 676.2,528.8 665.0,529.8"/><path fill="none" d="M666.2,522.5L671.2,521.2L677.5,527.5L676.2,528.8L665.0,529.8L666.2,522.5"/>
<polygon fill="#B3D0E8" stroke="#B3D0E8" stroke-opacity="1" stroke-width="0.6" points="685.0,537.5 688.8,532.5 695.0,532.5 696.9,538.1"/><path fill="none" d="M685.0,537.5L688.8,532.5L695.0,532.5L696.9,538.1L685.0,537.5"/>
<polygon fill="#337AB8" stroke="#337AB8" stroke-opacity="1" stroke-width="0.6" points="656.2,548.8 670.0,548.1 675.6,551.2 677.5,557.5 676.2,561.2 668.8,559.4 656.2,556.2"/><path fill="none" d="M656.2,548.8L670.0,548.1L675.6,551.2L677.5,557.5L676.2,561.2L668.8,559.4L656.2,556.2L656.2,548.8"/>
<polygon fill="#6BAAD4" stroke="#6BAAD4" stroke-opacity="1" stroke-width="0.6" points="656.2,556.2 668.8,559.4 676.2,561.2 678.8,568.8 671.2,571.2 665.0,575.0 662.5,577.5 651.9,571.2 653.8,562.5"/><path fill="none" d="M656.2,556.2L668.8,559.4L676.2,561.2L678.8,568.8L671.2,571.2L665.0,575.0L662.5,577.5L651.9,571.2L653.8,562.5L656.2,556.2"/>
<polygon fill="#17519C" stroke="#17519C" stroke-opacity="1" stroke-width="0.6" points="678.8,561.2 690.0,555.6 695.0,557.5 701.2,562.5 695.0,566.2 690.0,571.2 683.8,570.0 678.8,566.2"/><path fill="none" d="M678.8,561.2L690.0,555.6L695.0,557.5L701.2,562.5L695.0,566.2L690.0,571.2L683.8,570.0L678.8,566.2L678.8,561.2"/>
<polygon fill="#337AB8" stroke="#337AB8" stroke-opacity="1" stroke-width="0.6" points="701.2,563.1 705.0,561.9 713.1,567.5 711.2,570.6"/><path fill="none" d="M701.2,563.1L705.0,561.9L713.1,567.5L711.2,570.6L701.2,563.1"/>
<polygon fill="#17519C" stroke="#17519C" stroke-opacity="1" stroke-width="0.6" points="735.8,330.0 779.2,330.0 779.2,338.3 766.7,339.2 753.3,340.0 735.0,342.5"/><path fill="none" d="M735.8,330.0M779.2,330.0L779.2,338.3L766.7,339.2L753.3,340.0L735.0,342.5L735.8,330.0"/>
<polygon fill="#337AB8" stroke="#337AB8" stroke-opacity="1" stroke-width="0.6" points="708.3,330.0 735.8,330.0 735.0,342.5 731.7,344.2 710.0,344.2 706.7,337.5"/><path fill="none" d="M708.3,330.0M735.8,330.0L735.0,342.5L731.7,344.2L710.0,344.2L706.7,337.5L708.3,330.0"/>
<polygon fill="#337AB8" stroke="#337AB8" stroke-opacity="1" stroke-width="0.6" points="710.0,344.2 731.7,344.2 735.0,342.5 740.0,361.7 728.3,362.5 715.0,361.7"/><path fill="none" d="M710.0,344.2L731.7,344.2L735.0,342.5L740.0,361.7L728.3,362.5L715.0,361.7L710.0,344.2"/>
<polygon fill="#6BAAD4" stroke="#6BAAD4" stroke-opacity="1" stroke-width="0.6" points="767.5,343.3 766.7,339.2 779.2,338.3 780.0,350.0 777.5,360.8 769.2,358.3 758.3,356.7 759.2,348.3 764.2,346.7"/><path fill="none" d="M767.5,343.3L766.7,339.2L779.2,338.3L780.0,350.0L777.5,360.8L769.2,358.3L758.3,356.7L759.2,348.3L764.2,346.7L767.5,343.3"/>
<polygon fill="#B3D0E8" stroke="#B3D0E8" stroke-opacity="1" stroke-width="0.6" points="779.2,330.0 806.7,330.0 805.8,335.0 818.3,336.7 818.3,351.7 814.2,352.5 803.3,364.2 791.7,361.7 777.5,360.8 780.0,350.0"/><path fill="none" d="M779.2,330.0M806.7,330.0L805.8,335.0L818.3,336.7L818.3,351.7L814.2,352.5L803.3,364.2L791.7,361.7L777.5,360.8L780.0,350.0L779.2,330.0"/>
<polygon fill="#DEEBF7" stroke="#DEEBF7" stroke-opacity="1" stroke-width="0.6" points="806.7,330.0 829.2,330.0 828.3,336.7 818.3,336.7 805.8,335.0"/><path fill="none" d="M806.7,330.0M829.2,330.0L828.3,336.7L818.3,336.7L805.8,335.0L806.7,330.0"/>
<polygon fill="#6BAAD4" stroke="#6BAAD4" stroke-opacity="1" stroke-width="0.6" points="830.0,330.0 846.7,330.0 846.7,335.0 828.3,336.7"/><path fill="none" d="M830.0,330.0M846.7,330.0L846.7,335.0L828.3,336.7L830.0,330.0"/>
<polygon fill="#DEEBF7" stroke="#DEEBF7" stroke-opacity="1" stroke-width="0.6" points="818.3,336.7 828.3,336.7 843.3,335.8 840.8,342.5 833.3,350.0 825.0,358.3 823.3,357.5 819.2,351.7"/><path fill="none" d="M818.3,336.7L828.3,336.7L843.3,335.8L840.8,342.5L833.3,350.0L825.0,358.3L823.3,357.5L819.2,351.7L818.3,336.7"/>
<polygon fill="#B3D0E8" stroke="#B3D0E8" stroke-opacity="1" stroke-width="0.6" points="843.3,335.8 847.5,335.8 845.8,345.0 835.0,360.0 826.7,373.3 825.8,379.2 820.0,379.2 818.3,372.5 814.2,370.0 825.0,358.3 833.3,350.0 840.8,342.5"/><path fill="none" d="M843.3,335.8L847.5,335.8L845.8,345.0L835.0,360.0L826.7,373.3L825.8,379.2L820.0,379.2L818.3,372.5L814.2,370.0L825.0,358.3L833.3,350.0L840.8,342.5L843.3,335.8"/>
<polygon fill="#6BAAD4" stroke="#6BAAD4" stroke-opacity="1" stroke-width="0.6" points="814.2,352.5 819.2,351.7 823.3,357.5 825.0,358.3 814.2,370.0 803.3,364.2"/><path fill="none" d="M814.2,352.5L819.2,351.7L823.3,357.5L825.0,358.3L814.2,370.0L803.3,364.2L814.2,352.5"/>
<polygon fill="#17519C" stroke="#17519C" stroke-opacity="1" stroke-width="0.6" points="740.0,361.7 754.2,355.8 758.3,356.7 769.2,358.3 777.5,360.8 773.3,373.3 770.8,379.2 773.3,386.7 772.5,393.3 756.7,395.0 746.7,398.3 730.8,395.0 734.2,380.0"/><path fill="none" d="M740.0,361.7L754.2,355.8L758.3,356.7L769.2,358.3L777.5,360.8L773.3,373.3L770.8,379.2L773.3,386.7L772.5,393.3L756.7,395.0L746.7,398.3L730.8,395.0L734.2,380.0L740.0,361.7"/>
<polygon fill="#17519C" stroke="#17519C" stroke-opacity="1" stroke-width="0.6" points="715.0,361.7 728.3,362.5 740.0,361.7 734.2,380.0 730.8,395.0 725.8,390.0 720.8,381.7 720.0,373.3"/><path fill="none" d="M715.0,361.7L728.3,362.5L740.0,361.7L734.2,380.0L730.8,395.0L725.8,390.0L720.8,381.7L720.0,373.3L715.0,361.7"/>
<polygon fill="#337AB8" stroke="#337AB8" stroke-opacity="1" stroke-width="0.6" points="777.5,360.8 791.7,361.7 803.3,364.2 814.2,370.0 818.3,378.3 817.5,388.3 813.3,400.0 810.0,402.5 796.7,404.2 785.0,403.3 780.0,400.8 781.7,398.3 773.3,386.7 770.8,379.2 773.3,373.3"/><path fill="none" d="M777.5,360.8L791.7,361.7L803.3,364.2L814.2,370.0L818.3,378.3L817.5,388.3L813.3,400.0L810.0,402.5L796.7,404.2L785.0,403.3L780.0,400.8L781.7,398.3L773.3,386.7L770.8,379.2L773.3,373.3L777.5,360.8"/>
<polygon fill="#6BAAD4" stroke="#6BAAD4" stroke-opacity="1" stroke-width="0.6" points="746.7,398.3 756.7,395.0 772.5,393.3 773.3,386.7 781.7,398.3 778.3,403.3 770.0,410.0 765.0,416.7 758.3,411.7 751.7,405.0 745.0,403.3"/><path fill="none" d="M746.7,398.3L756.7,395.0L772.5,393.3L773.3,386.7L781.7,398.3L778.3,403.3L770.0,410.0L765.0,416.7L758.3,411.7L751.7,405.0L745.0,403.3L746.7,398.3"/>
<polygon fill="#337AB8" stroke="#337AB8" stroke-opacity="1" stroke-width="0.6" points="730.8,395.0 746.7,398.3 745.0,403.3 751.7,405.0 758.3,411.7 765.0,416.7 763.3,425.0 753.3,423.3 740.0,422.5 736.7,410.0"/><path fill="none" d="M730.8,395.0L746.7,398.3L745.0,403.3L751.7,405.0L758.3,411.7L765.0,416.7L763.3,425.0L753.3,423.3L740.0,422.5L736.7,410.0L730.8,395.0"/>
<polygon fill="#6BAAD4" stroke="#6BAAD4" stroke-opacity="1" stroke-width="0.6" points="720.8,383.3 725.8,390.0 730.8,395.0 736.7,410.0 740.0,422.5 723.3,423.3 706.7,422.5 707.5,410.0 711.7,396.7"/><path fill="none" d="M720.8,383.3L725.8,390.0L730.8,395.0L736.7,410.0L740.0,422.5L723.3,423.3L706.7,422.5L707.5,410.0L711.7,396.7L720.8,383.3"/>
<polygon fill="#B3D0E8" stroke="#B3D0E8" stroke-opacity="1" stroke-width="0.6" points="778.3,403.3 780.0,400.8 785.0,403.3 788.3,411.7 793.3,421.7 798.3,430.0 790.0,426.7 783.3,423.3 773.3,422.5 764.2,425.0 765.8,415.0 770.0,410.0"/><path fill="none" d="M778.3,403.3L780.0,400.8L785.0,403.3L788.3,411.7L793.3,421.7L798.3,430.0L790.0,426.7L783.3,423.3L773.3,422.5L764.2,425.0L765.8,415.0L770.0,410.0L778.3,403.3"/>
<polygon fill="#17519C" stroke="#17519C" stroke-opacity="1" stroke-width="0.6" points="785.0,403.3 796.7,404.2 810.0,402.5 810.8,411.7 814.2,420.0 816.7,428.3 825.0,436.7 821.7,441.7 815.0,445.8 808.3,446.7 805.0,438.3 798.3,430.0 793.3,421.7 788.3,411.7"/><path fill="none" d="M785.0,403.3L796.7,404.2L810.0,402.5L810.8,411.7L814.2,420.0L816.7,428.3L825.0,436.7L821.7,441.7L815.0,445.8L808.3,446.7L805.0,438.3L798.3,430.0L793.3,421.7L788.3,411.7L785.0,403.3"/>
<polygon fill="#B3D0E8" stroke="#B3D0E8" stroke-opacity="1" stroke-width="0.6" points="740.0,423.3 753.3,423.3 763.3,425.0 764.2,436.7 762.5,444.2 756.7,441.7 747.5,438.3 745.0,433.3"/><path fill="none" d="M740.0,423.3L753.3,423.3L763.3,425.0L764.2,436.7L762.5,444.2L756.7,441.7L747.5,438.3L745.0,433.3L740.0,423.3"/>
<polygon fill="#6BAAD4" stroke="#6BAAD4" stroke-opacity="1" stroke-width="0.6" points="780.8,433.3 790.0,430.0 798.3,430.0 805.0,438.3 808.3,446.7 796.7,450.0 785.0,453.3 781.7,440.0 776.7,437.5"/><path fill="none" d="M780.8,433.3L790.0,430.0L798.3,430.0L805.0,438.3L808.3,446.7L796.7,450.0L785.0,453.3L781.7,440.0L776.7,437.5L780.8,433.3"/>
<polygon fill="#6BAAD4" stroke="#6BAAD4" stroke-opacity="1" stroke-width="0.6" points="764.2,436.7 776.7,437.5 781.7,440.0 785.0,453.3 773.3,456.7 760.0,460.8 762.5,444.2"/><path fill="none" d="M764.2,436.7L776.7,437.5L781.7,440.0L785.0,453.3L773.3,456.7L760.0,460.8L762.5,444.2L764.2,436.7"/>
<polygon fill="#17519C" stroke="#17519C" stroke-opacity="1" stroke-width="0.6" points="706.7,423.3 723.3,423.3 740.0,423.3 743.3,436.7 743.3,446.7 730.0,446.7 728.3,453.3 719.2,452.5 718.3,445.0 715.0,438.3 705.0,439.2 707.5,430.0"/><path fill="none" d="M706.7,423.3L723.3,423.3L740.0,423.3L743.3,436.7L743.3,446.7L730.0,446.7L728.3,453.3L719.2,452.5L718.3,445.0L715.0,438.3L705.0,439.2L707.5,430.0L706.7,423.3"/>
<polygon fill="#6BAAD4" stroke="#6BAAD4" stroke-opacity="1" stroke-width="0.6" points="730.0,446.7 743.3,446.7 744.2,455.0 727.5,457.5 725.8,453.3 728.3,453.3"/><path fill="none" d="M730.0,446.7L743.3,446.7L744.2,455.0L727.5,457.5L725.8,453.3L728.3,453.3L730.0,446.7"/>
<polygon fill="#337AB8" stroke="#337AB8" stroke-opacity="1" stroke-width="0.6" points="743.3,436.7 747.5,438.3 756.7,441.7 762.5,444.2 760.0,460.8 757.5,461.7 744.2,455.0 743.3,446.7"/><path fill="none" d="M743.3,436.7L747.5,438.3L756.7,441.7L762.5,444.2L760.0,460.8L757.5,461.7L744.2,455.0L743.3,446.7L743.3,436.7"/>
<polygon fill="#6BAAD4" stroke="#6BAAD4" stroke-opacity="1" stroke-width="0.6" points="744.2,455.0 757.5,461.7 754.2,465.0 755.0,476.7 750.0,480.0 740.0,486.7 725.0,480.8 733.3,471.7 743.3,463.3"/><path fill="none" d="M744.2,455.0L757.5,461.7L754.2,465.0L755.0,476.7L750.0,480.0L740.0,486.7L725.0,480.8L733.3,471.7L743.3,463.3L744.2,455.0"/>
<polygon fill="#337AB8" stroke="#337AB8" stroke-opacity="1" stroke-width="0.6" points="757.5,461.7 760.0,460.8 768.3,471.7 776.7,479.2 773.3,481.7 768.3,490.0 756.7,490.0 755.8,476.7 754.2,465.0"/><path fill="none" d="M757.5,461.7L760.0,460.8L768.3,471.7L776.7,479.2L773.3,481.7L768.3,490.0M756.7,490.0L755.8,476.7L754.2,465.0L757.5,461.7"/>
<polygon fill="#337AB8" stroke="#337AB8" stroke-opacity="1" stroke-width="0.6" points="785.0,453.3 796.7,450.0 808.3,446.7 814.2,472.5 791.7,477.5 788.3,465.0"/><path fill="none" d="M785.0,453.3L796.7,450.0L808.3,446.7L814.2,472.5L791.7,477.5L788.3,465.0L785.0,453.3"/>
<polygon fill="#DEEBF7" stroke="#DEEBF7" stroke-opacity="1" stroke-width="0.6" points="808.3,446.7 815.0,445.8 821.7,441.7 825.0,436.7 831.7,443.3 846.7,458.3 849.2,465.0 831.7,469.2 814.2,472.5"/><path fill="none" d="M808.3,446.7L815.0,445.8L821.7,441.7L825.0,436.7L831.7,443.3L846.7,458.3L849.2,465.0L831.7,469.2L814.2,472.5L808.3,446.7"/>
<polygon fill="#B3D0E8" stroke="#B3D0E8" stroke-opacity="1" stroke-width="0.6" points="776.7,479.2 791.7,477.5 814.2,472.5 816.7,490.0 773.3,490.0 773.3,481.7"/><path fill="none" d="M776.7,479.2L791.7,477.5L814.2,472.5L816.7,490.0M773.3,490.0L773.3,481.7L776.7,479.2"/>
<polygon fill="#6BAAD4" stroke="#6BAAD4" stroke-opacity="1" stroke-width="0.6" points="620.0,260.0 646.7,260.0 641.7,270.0 635.8,281.7 636.7,290.0 639.2,300.0 630.0,293.3 620.0,278.3"/><path fill="none" d="M620.0,260.0M646.7,260.0L641.7,270.0L635.8,281.7L636.7,290.0L639.2,300.0L630.0,293.3L620.0,278.3M620.0,260.0"/>
<polygon fill="#337AB8" stroke="#337AB8" stroke-opacity="1" stroke-width="0.6" points="639.2,300.8 661.7,304.2 675.0,301.7 686.7,310.0 693.3,317.5 686.7,323.3 678.3,331.7 673.3,334.2 668.3,335.8 661.7,340.0 653.3,335.8 645.0,335.0 641.7,333.3 636.7,333.3 640.0,326.7 638.3,320.0 634.2,318.3 637.5,313.3 636.7,306.7"/><path fill="none" d="M639.2,300.8L661.7,304.2L675.0,301.7L686.7,310.0L693.3,317.5L686.7,323.3L678.3,331.7L673.3,334.2L668.3,335.8L661.7,340.0L653.3,335.8L645.0,335.0L641.7,333.3L636.7,333.3L640.0,326.7L638.3,320.0L634.2,318.3L637.5,313.3L636.7,306.7L639.2,300.8"/>
<polygon fill="#337AB8" stroke="#337AB8" stroke-opacity="1" stroke-width="0.6" points="693.3,317.5 696.7,325.0 700.0,333.3 701.3,341.7 683.3,342.5 678.3,338.3 678.3,331.7 686.7,323.3"/><path fill="none" d="M693.3,317.5L696.7,325.0L700.0,333.3L701.3,341.7L683.3,342.5L678.3,338.3L678.3,331.7L686.7,323.3L693.3,317.5"/>
<polygon fill="#17519C" stroke="#17519C" stroke-opacity="1" stroke-width="0.6" points="668.3,335.8 673.3,334.2 678.3,338.3 675.0,343.3 672.5,350.0 673.3,356.7 668.3,364.2 660.8,364.2 660.0,356.7 657.5,345.0 661.7,340.0"/><path fill="none" d="M668.3,335.8L673.3,334.2L678.3,338.3L675.0,343.3L672.5,350.0L673.3,356.7L668.3,364.2L660.8,364.2L660.0,356.7L657.5,345.0L661.7,340.0L668.3,335.8"/>
<polygon fill="#337AB8" stroke="#337AB8" stroke-opacity="1" stroke-width="0.6" points="715.0,306.7 726.7,307.5 734.2,310.0 735.0,326.7 735.0,343.3 726.7,345.0 708.3,341.7 705.8,335.8 710.0,330.0 712.5,323.3"/><path fill="none" d="M715.0,306.7L726.7,307.5L734.2,310.0L735.0,326.7L735.0,343.3L726.7,345.0L708.3,341.7L705.8,335.8L710.0,330.0L712.5,323.3L715.0,306.7"/>
<polygon fill="#17519C" stroke="#17519C" stroke-opacity="1" stroke-width="0.6" points="734.2,310.0 746.7,312.5 761.7,315.8 771.7,318.3 777.5,323.3 778.3,337.5 766.7,338.3 750.0,340.0 735.0,343.3 735.0,326.7"/><path fill="none" d="M734.2,310.0L746.7,312.5L761.7,315.8L771.7,318.3L777.5,323.3L778.3,337.5L766.7,338.3L750.0,340.0L735.0,343.3L735.0,326.7L734.2,310.0"/>
<polygon fill="#337AB8" stroke="#337AB8" stroke-opacity="1" stroke-width="0.6" points="675.0,343.3 683.3,342.5 701.3,341.7 702.5,360.8 683.3,360.0 673.3,356.7 672.5,350.0"/><path fill="none" d="M675.0,343.3L683.3,342.5L701.3,341.7L702.5,360.8L683.3,360.0L673.3,356.7L672.5,350.0L675.0,343.3"/>
<polygon fill="#B3D0E8" stroke="#B3D0E8" stroke-opacity="1" stroke-width="0.6" points="760.0,285.8 803.3,285.0 798.3,296.7 790.0,304.2 791.7,311.7 789.2,315.8 776.7,317.5 771.7,318.3 761.7,315.8 759.2,310.0"/><path fill="none" d="M760.0,285.8L803.3,285.0L798.3,296.7L790.0,304.2L791.7,311.7L789.2,315.8L776.7,317.5L771.7,318.3L761.7,315.8L759.2,310.0L760.0,285.8"/>
<polygon fill="#B3D0E8" stroke="#B3D0E8" stroke-opacity="1" stroke-width="0.6" points="803.3,285.0 825.0,288.3 820.0,303.3 815.0,319.2 803.3,313.3 791.7,308.3 790.0,304.2 798.3,296.7"/><path fill="none" d="M803.3,285.0L825.0,288.3L820.0,303.3L815.0,319.2L803.3,313.3L791.7,308.3L790.0,304.2L798.3,296.7L803.3,285.0"/>
<polygon fill="#B3D0E8" stroke="#B3D0E8" stroke-opacity="1" stroke-width="0.6" points="825.0,288.3 844.0,293.3 840.0,301.7 838.3,315.0 831.7,328.3 825.0,321.7 815.0,319.2 820.0,303.3"/><path fill="none" d="M825.0,288.3L844.0,293.3L840.0,301.7L838.3,315.0L831.7,328.3L825.0,321.7L815.0,319.2L820.0,303.3L825.0,288.3"/>
<polygon fill="#DEEBF7" stroke="#DEEBF7" stroke-opacity="1" stroke-width="0.6" points="791.7,308.3 803.3,313.3 815.0,319.2 825.0,321.7 831.7,328.3 827.5,336.7 818.3,335.8 808.3,331.7 796.7,324.2 789.2,315.8 791.7,311.7"/><path fill="none" d="M791.7,308.3L803.3,313.3L815.0,319.2L825.0,321.7L831.7,328.3L827.5,336.7L818.3,335.8L808.3,331.7L796.7,324.2L789.2,315.8L791.7,311.7L791.7,308.3"/>
<polygon fill="#B3D0E8" stroke="#B3D0E8" stroke-opacity="1" stroke-width="0.6" points="771.7,318.3 776.7,317.5 789.2,315.8 796.7,324.2 808.3,331.7 818.3,335.8 817.5,351.7 808.3,358.3 803.3,364.2 793.3,361.7 779.2,359.2 779.2,350.0 778.3,337.5 777.5,323.3"/><path fill="none" d="M771.7,318.3L776.7,317.5L789.2,315.8L796.7,324.2L808.3,331.7L818.3,335.8L817.5,351.7L808.3,358.3L803.3,364.2L793.3,361.7L779.2,359.2L779.2,350.0L778.3,337.5L777.5,323.3L771.7,318.3"/>
<polygon fill="#DEEBF7" stroke="#DEEBF7" stroke-opacity="1" stroke-width="0.6" points="818.3,335.8 827.5,336.7 844.0,338.3 844.0,346.7 835.0,356.7 825.0,366.7 820.0,375.0 817.5,370.0 813.3,368.3 824.2,358.3 820.0,352.5 817.5,351.7"/><path fill="none" d="M818.3,335.8L827.5,336.7L844.0,338.3M844.0,346.7L835.0,356.7L825.0,366.7L820.0,375.0L817.5,370.0L813.3,368.3L824.2,358.3L820.0,352.5L817.5,351.7L818.3,335.8"/>
<polygon fill="#6BAAD4" stroke="#6BAAD4" stroke-opacity="1" stroke-width="0.6" points="817.5,351.7 820.0,352.5 824.2,358.3 813.3,368.3 803.3,364.2 808.3,358.3"/><path fill="none" d="M817.5,351.7L820.0,352.5L824.2,358.3L813.3,368.3L803.3,364.2L808.3,358.3L817.5,351.7"/>
<polygon fill="#6BAAD4" stroke="#6BAAD4" stroke-opacity="1" stroke-width="0.6" points="840.0,301.7 844.0,298.3 844.0,335.8 829.2,335.8 831.7,328.3 838.3,315.0"/><path fill="none" d="M840.0,301.7L844.0,298.3M844.0,335.8L829.2,335.8L831.7,328.3L838.3,315.0L840.0,301.7"/>
<polygon fill="#17519C" stroke="#17519C" stroke-opacity="1" stroke-width="0.6" points="782.5,243.0 795.0,245.0 812.5,250.0 827.5,253.8 820.0,265.0 810.0,275.0 803.8,285.0 760.0,285.0 758.8,271.2 768.8,263.8 775.0,250.0"/><path fill="none" d="M782.5,243.0L795.0,245.0L812.5,250.0L827.5,253.8L820.0,265.0L810.0,275.0L803.8,285.0L760.0,285.0L758.8,271.2L768.8,263.8L775.0,250.0L782.5,243.0"/>
<polygon fill="#DEEBF7" stroke="#DEEBF7" stroke-opacity="1" stroke-width="0.6" points="820.0,268.3 825.8,260.0 844.0,260.0 844.0,293.3 825.0,288.3 803.3,285.0 804.2,281.7 811.7,275.0"/><path fill="none" d="M820.0,268.3L825.8,260.0M844.0,260.0M844.0,293.3L825.0,288.3L803.3,285.0L804.2,281.7L811.7,275.0L820.0,268.3"/>
<polygon fill="#17519C" stroke="#17519C" stroke-opacity="1" stroke-width="0.6" points="660.8,364.2 668.3,364.2 683.3,368.3 695.0,373.3 693.3,386.7 690.0,403.3 686.7,420.0 681.7,420.0 676.7,413.3 670.0,406.7 666.7,398.3 658.3,396.7 650.0,403.3 638.3,395.0 643.3,381.7 653.3,380.0 658.3,375.0 660.8,370.0"/><path fill="none" d="M660.8,364.2L668.3,364.2L683.3,368.3L695.0,373.3L693.3,386.7L690.0,403.3L686.7,420.0M681.7,420.0L676.7,413.3L670.0,406.7L666.7,398.3L658.3,396.7L650.0,403.3L638.3,395.0L643.3,381.7L653.3,380.0L658.3,375.0L660.8,370.0L660.8,364.2"/>
<polygon fill="#337AB8" stroke="#337AB8" stroke-opacity="1" stroke-width="0.6" points="668.3,364.2 673.3,356.7 683.3,360.0 702.5,360.8 697.5,373.3 695.0,373.3 683.3,368.3"/><path fill="none" d="M668.3,364.2L673.3,356.7L683.3,360.0L702.5,360.8L697.5,373.3L695.0,373.3L683.3,368.3L668.3,364.2"/>
<polygon fill="#337AB8" stroke="#337AB8" stroke-opacity="1" stroke-width="0.6" points="702.5,360.8 712.5,361.7 718.3,375.0 720.0,380.0 713.3,381.7 706.7,376.7 697.5,373.3"/><path fill="none" d="M702.5,360.8L712.5,361.7L718.3,375.0L720.0,380.0L713.3,381.7L706.7,376.7L697.5,373.3L702.5,360.8"/>
<polygon fill="#DEEBF7" stroke="#DEEBF7" stroke-opacity="1" stroke-width="0.6" points="827.5,254.2 832.5,246.7 840.0,240.0 851.7,236.7 863.3,235.8 868.3,240.0 870.0,247.5 862.5,248.3 861.7,258.3 858.3,265.0 845.0,258.3 830.0,253.3"/><path fill="none" d="M827.5,254.2L832.5,246.7L840.0,240.0L851.7,236.7L863.3,235.8L868.3,240.0L870.0,247.5L862.5,248.3L861.7,258.3L858.3,265.0L845.0,258.3L830.0,253.3L827.5,254.2"/>
<polygon fill="#DEEBF7" stroke="#DEEBF7" stroke-opacity="1" stroke-width="0.6" points="827.5,254.2 845.0,258.3 858.3,265.0 854.2,273.3 850.8,280.0 838.3,273.3 820.0,270.0 823.3,263.3"/><path fill="none" d="M827.5,254.2L845.0,258.3L858.3,265.0L854.2,273.3L850.8,280.0L838.3,273.3L820.0,270.0L823.3,263.3L827.5,254.2"/>
<polygon fill="#DEEBF7" stroke="#DEEBF7" stroke-opacity="1" stroke-width="0.6" points="820.0,270.0 838.3,273.3 850.8,280.0 848.3,286.7 845.0,293.3 825.8,287.5 804.2,284.2 806.7,276.7 815.0,270.8"/><path fill="none" d="M820.0,270.0L838.3,273.3L850.8,280.0L848.3,286.7L845.0,293.3L825.8,287.5L804.2,284.2L806.7,276.7L815.0,270.8L820.0,270.0"/>
<polygon fill="#DEEBF7" stroke="#DEEBF7" stroke-opacity="1" stroke-width="0.6" points="858.3,265.0 892.5,292.5 886.7,296.7 880.8,303.0 850.8,280.8 854.2,273.3"/><path fill="none" d="M858.3,265.0L892.5,292.5L886.7,296.7L880.8,303.0L850.8,280.8L854.2,273.3L858.3,265.0"/>
<polygon fill="#6BAAD4" stroke="#6BAAD4" stroke-opacity="1" stroke-width="0.6" points="850.8,281.7 880.8,303.0 875.0,311.7 870.0,321.7 845.0,296.7 848.3,287.5"/><path fill="none" d="M850.8,281.7L880.8,303.0L875.0,311.7L870.0,321.7L845.0,296.7L848.3,287.5L850.8,281.7"/>
<polygon fill="#6BAAD4" stroke="#6BAAD4" stroke-opacity="1" stroke-width="0.6" points="845.0,296.7 870.0,321.7 863.3,323.3 853.3,323.3 847.5,329.2 846.7,335.0 828.3,336.7 830.8,330.0 838.3,320.0 840.0,311.7 839.2,303.3"/><path fill="none" d="M845.0,296.7L870.0,321.7L863.3,323.3L853.3,323.3L847.5,329.2L846.7,335.0L828.3,336.7L830.8,330.0L838.3,320.0L840.0,311.7L839.2,303.3L845.0,296.7"/>
<polygon fill="#B3D0E8" stroke="#B3D0E8" stroke-opacity="1" stroke-width="0.6" points="804.2,284.2 825.8,287.5 820.8,303.3 815.0,318.3 800.0,311.7 790.8,306.7 796.7,300.8 800.0,291.7"/><path fill="none" d="M804.2,284.2L825.8,287.5L820.8,303.3L815.0,318.3L800.0,311.7L790.8,306.7L796.7,300.8L800.0,291.7L804.2,284.2"/>
<polygon fill="#B3D0E8" stroke="#B3D0E8" stroke-opacity="1" stroke-width="0.6" points="825.8,287.5 845.0,293.3 845.0,296.7 839.2,303.3 840.0,311.7 838.3,320.0 830.8,328.3 820.8,320.8 815.0,318.3 820.8,303.3"/><path fill="none" d="M825.8,287.5L845.0,293.3L845.0,296.7L839.2,303.3L840.0,311.7L838.3,320.0L830.8,328.3L820.8,320.8L815.0,318.3L820.8,303.3L825.8,287.5"/>
<polygon fill="#DEEBF7" stroke="#DEEBF7" stroke-opacity="1" stroke-width="0.6" points="790.8,306.7 800.0,311.7 815.0,318.3 820.8,320.8 830.8,328.3 828.3,336.7 818.3,335.8 808.3,331.7 796.7,325.0 790.0,323.3"/><path fill="none" d="M790.8,306.7L800.0,311.7L815.0,318.3L820.8,320.8L830.8,328.3L828.3,336.7L818.3,335.8L808.3,331.7L796.7,325.0L790.0,323.3L790.8,306.7"/>
<polygon fill="#B3D0E8" stroke="#B3D0E8" stroke-opacity="1" stroke-width="0.6" points="790.0,283.3 803.3,284.2 800.0,291.7 796.7,300.8 790.8,306.7 790.0,305.0"/><path fill="none" d="M790.0,283.3L803.3,284.2L800.0,291.7L796.7,300.8L790.8,306.7L790.0,305.0M790.0,283.3"/>
<polygon fill="#B3D0E8" stroke="#B3D0E8" stroke-opacity="1" stroke-width="0.6" points="790.0,323.3 796.7,325.0 808.3,331.7 818.3,335.8 819.2,353.3 811.7,353.3 804.2,363.3 790.0,358.3"/><path fill="none" d="M790.0,323.3L796.7,325.0L808.3,331.7L818.3,335.8L819.2,353.3L811.7,353.3L804.2,363.3L790.0,358.3M790.0,323.3"/>
<polygon fill="#DEEBF7" stroke="#DEEBF7" stroke-opacity="1" stroke-width="0.6" points="818.3,335.8 828.3,336.7 846.7,335.0 843.3,345.0 835.0,355.0 825.0,360.0 821.7,353.3 819.2,353.3"/><path fill="none" d="M818.3,335.8L828.3,336.7L846.7,335.0L843.3,345.0L835.0,355.0L825.0,360.0L821.7,353.3L819.2,353.3L818.3,335.8"/>
<polygon fill="#6BAAD4" stroke="#6BAAD4" stroke-opacity="1" stroke-width="0.6" points="811.7,353.3 821.7,353.3 825.0,360.0 815.0,368.3 804.2,363.3"/><path fill="none" d="M811.7,353.3L821.7,353.3L825.0,360.0L815.0,368.3L804.2,363.3L811.7,353.3"/>
<polygon fill="#B3D0E8" stroke="#B3D0E8" stroke-opacity="1" stroke-width="0.6" points="843.3,345.0 846.7,335.8 848.7,341.7 840.8,356.7 834.2,366.7 825.8,379.2 824.2,374.2 815.0,368.3 825.0,360.0 835.0,355.0"/><path fill="none" d="M843.3,345.0L846.7,335.8L848.7,341.7L840.8,356.7L834.2,366.7L825.8,379.2L824.2,374.2L815.0,368.3L825.0,360.0L835.0,355.0L843.3,345.0"/>
<polygon fill="#337AB8" stroke="#337AB8" stroke-opacity="1" stroke-width="0.6" points="790.0,362.5 804.2,363.3 811.7,368.3 817.5,375.0 819.2,385.0 790.0,385.0"/><path fill="none" d="M790.0,362.5L804.2,363.3L811.7,368.3L817.5,375.0L819.2,385.0M790.0,385.0M790.0,362.5"/>
<polygon fill="#DEEBF7" stroke="#DEEBF7" stroke-opacity="1" stroke-width="0.6" points="931.7,315.8 940.0,320.0 953.3,326.7 965.0,330.8 978.3,332.2 990.0,331.7 996.7,330.0 998.3,335.0 992.5,348.3 978.3,347.5 965.0,348.3 958.3,341.7 952.5,340.0 950.8,336.7 952.5,334.2 929.2,320.8"/><path fill="none" d="M931.7,315.8L940.0,320.0L953.3,326.7L965.0,330.8L978.3,332.2L990.0,331.7L996.7,330.0L998.3,335.0L992.5,348.3L978.3,347.5L965.0,348.3L958.3,341.7L952.5,340.0L950.8,336.7L952.5,334.2L929.2,320.8L931.7,315.8"/>
<polygon fill="#6BAAD4" stroke="#6BAAD4" stroke-opacity="1" stroke-width="0.6" points="929.2,320.8 952.5,334.2 945.0,340.0 937.5,351.7 930.0,353.3 914.2,345.0 921.7,331.7"/><path fill="none" d="M929.2,320.8L952.5,334.2L945.0,340.0L937.5,351.7L930.0,353.3L914.2,345.0L921.7,331.7L929.2,320.8"/>
<polygon fill="#B3D0E8" stroke="#B3D0E8" stroke-opacity="1" stroke-width="0.6" points="945.0,340.0 950.8,336.7 952.5,340.0 958.3,341.7 965.0,348.3 966.7,358.3 965.8,366.7 963.3,370.0 950.0,366.7 938.3,360.0 930.0,353.3 937.5,351.7"/><path fill="none" d="M945.0,340.0L950.8,336.7L952.5,340.0L958.3,341.7L965.0,348.3L966.7,358.3L965.8,366.7L963.3,370.0L950.0,366.7L938.3,360.0L930.0,353.3L937.5,351.7L945.0,340.0"/>
<polygon fill="#DEEBF7" stroke="#DEEBF7" stroke-opacity="1" stroke-width="0.6" points="914.2,345.0 930.0,353.3 938.3,360.0 950.0,366.7 963.3,370.0 956.7,378.3 948.3,381.7 936.7,382.5 911.7,382.5 909.2,366.7 910.0,351.7"/><path fill="none" d="M914.2,345.0L930.0,353.3L938.3,360.0L950.0,366.7L963.3,370.0L956.7,378.3L948.3,381.7L936.7,382.5L911.7,382.5L909.2,366.7L910.0,351.7L914.2,345.0"/>
<polygon fill="#6BAAD4" stroke="#6BAAD4" stroke-opacity="1" stroke-width="0.6" points="965.0,348.3 978.3,347.5 990.0,349.2 992.5,358.3 997.5,370.0 992.5,375.0 985.0,383.3 978.3,375.0 970.0,371.7 963.3,370.0 965.8,366.7 966.7,358.3"/><path fill="none" d="M965.0,348.3L978.3,347.5L990.0,349.2L992.5,358.3L997.5,370.0L992.5,375.0L985.0,383.3L978.3,375.0L970.0,371.7L963.3,370.0L965.8,366.7L966.7,358.3L965.0,348.3"/>
<polygon fill="#B3D0E8" stroke="#B3D0E8" stroke-opacity="1" stroke-width="0.6" points="1013.8,311.2 1020.0,305.0 1035.0,302.5 1050.0,303.8 1055.0,306.2 1053.8,317.5 1040.0,317.0 1025.0,318.8 1014.5,317.0"/><path fill="none" d="M1013.8,311.2L1020.0,305.0L1035.0,302.5L1050.0,303.8L1055.0,306.2L1053.8,317.5L1040.0,317.0L1025.0,318.8L1014.5,317.0L1013.8,311.2"/>
<polygon fill="#B3D0E8" stroke="#B3D0E8" stroke-opacity="1" stroke-width="0.6" points="1014.5,317.0 1025.0,318.8 1040.0,317.0 1053.8,317.5 1046.2,340.0 1036.2,367.5 1028.3,383.3 1006.7,427.5 990.8,406.7 993.3,401.7 1000.8,399.2 1004.2,385.0 1010.0,380.0 1014.2,378.3 1019.2,372.5 1020.8,365.8 1030.0,357.5 1028.3,354.2 1021.7,352.5 1028.8,353.8 1017.5,348.0 1026.2,338.8"/><path fill="none" d="M1014.5,317.0L1025.0,318.8L1040.0,317.0L1053.8,317.5L1046.2,340.0L1036.2,367.5L1028.3,383.3L1006.7,427.5L990.8,406.7L993.3,401.7L1000.8,399.2L1004.2,385.0L1010.0,380.0L1014.2,378.3L1019.2,372.5L1020.8,365.8L1030.0,357.5L1028.3,354.2L1021.7,352.5L1028.8,353.8L1017.5,348.0L1026.2,338.8L1014.5,317.0"/>
<polygon fill="#17519C" stroke="#17519C" stroke-opacity="1" stroke-width="0.6" points="1000.0,327.5 1012.5,318.8 1026.2,338.8 997.5,368.8 991.2,357.5 993.8,345.0 998.8,333.8"/><path fill="none" d="M1000.0,327.5L1012.5,318.8L1026.2,338.8L997.5,368.8L991.2,357.5L993.8,345.0L998.8,333.8L1000.0,327.5"/>
<polygon fill="#337AB8" stroke="#337AB8" stroke-opacity="1" stroke-width="0.6" points="997.5,368.8 1017.5,348.0 1028.8,353.8 1030.0,358.8 1021.2,366.2 1017.5,377.5 1011.2,380.0 997.5,370.0"/><path fill="none" d="M997.5,368.8L1017.5,348.0L1028.8,353.8L1030.0,358.8L1021.2,366.2L1017.5,377.5L1011.2,380.0L997.5,370.0L997.5,368.8"/>
<polygon fill="#B3D0E8" stroke="#B3D0E8" stroke-opacity="1" stroke-width="0.6" points="985.0,381.7 996.7,370.0 998.3,370.0 1010.0,380.0 1004.2,385.0 1000.8,399.2 992.5,401.7 989.2,391.7"/><path fill="none" d="M985.0,381.7L996.7,370.0L998.3,370.0L1010.0,380.0L1004.2,385.0L1000.8,399.2L992.5,401.7L989.2,391.7L985.0,381.7"/>
<polygon fill="#6BAAD4" stroke="#6BAAD4" stroke-opacity="1" stroke-width="0.6" points="935.0,382.5 953.3,381.7 960.0,377.5 964.2,370.8 978.3,375.8 985.0,381.7 989.2,391.7 992.5,407.5 985.0,406.7 973.3,408.3 963.3,416.7 949.2,428.0 940.0,416.7 936.7,405.0 935.0,394.2 927.5,394.2 928.3,384.2"/><path fill="none" d="M935.0,382.5L953.3,381.7L960.0,377.5L964.2,370.8L978.3,375.8L985.0,381.7L989.2,391.7L992.5,407.5L985.0,406.7L973.3,408.3L963.3,416.7L949.2,428.0L940.0,416.7L936.7,405.0L935.0,394.2L927.5,394.2L928.3,384.2L935.0,382.5"/>
<polygon fill="#B3D0E8" stroke="#B3D0E8" stroke-opacity="1" stroke-width="0.6" points="911.7,381.7 935.0,382.5 928.3,384.2 927.5,394.2 935.0,394.2 936.7,405.0 940.0,416.7 949.2,428.0 932.5,441.7 918.3,426.7 906.7,418.3 897.5,412.5 906.7,395.0"/><path fill="none" d="M911.7,381.7L935.0,382.5L928.3,384.2L927.5,394.2L935.0,394.2L936.7,405.0L940.0,416.7L949.2,428.0L932.5,441.7L918.3,426.7L906.7,418.3L897.5,412.5L906.7,395.0L911.7,381.7"/>
<polygon fill="#B3D0E8" stroke="#B3D0E8" stroke-opacity="1" stroke-width="0.6" points="949.2,428.0 963.3,416.7 973.3,408.3 985.0,406.7 990.8,409.2 986.7,425.0 980.0,438.3 971.7,448.3 962.5,455.8 955.8,446.7 946.7,443.3 932.5,441.7"/><path fill="none" d="M949.2,428.0L963.3,416.7L973.3,408.3L985.0,406.7L990.8,409.2L986.7,425.0L980.0,438.3L971.7,448.3L962.5,455.8L955.8,446.7L946.7,443.3L932.5,441.7L949.2,428.0"/>
<polygon fill="#DEEBF7" stroke="#DEEBF7" stroke-opacity="1" stroke-width="0.6" points="990.8,409.2 1006.7,427.5 1028.3,440.0 1041.7,445.8 1034.2,466.7 1029.2,475.0 1040.8,483.3 1039.2,488.3 1026.7,489.2 1011.7,490.8 990.0,493.7 982.5,476.7 962.5,456.7 971.7,448.3 980.0,438.3 986.7,425.0"/><path fill="none" d="M990.8,409.2L1006.7,427.5L1028.3,440.0L1041.7,445.8L1034.2,466.7L1029.2,475.0L1040.8,483.3L1039.2,488.3L1026.7,489.2L1011.7,490.8L990.0,493.7L982.5,476.7L962.5,456.7L971.7,448.3L980.0,438.3L986.7,425.0L990.8,409.2"/>
<polygon fill="#6BAAD4" stroke="#6BAAD4" stroke-opacity="1" stroke-width="0.6" points="897.5,412.5 906.7,418.3 918.3,426.7 932.5,441.7 915.0,442.5 903.3,443.3 893.3,445.0 883.3,451.7 880.0,445.0 879.2,433.3 880.8,421.7"/><path fill="none" d="M897.5,412.5L906.7,418.3L918.3,426.7L932.5,441.7L915.0,442.5L903.3,443.3L893.3,445.0L883.3,451.7L880.0,445.0L879.2,433.3L880.8,421.7L897.5,412.5"/>
<polygon fill="#6BAAD4" stroke="#6BAAD4" stroke-opacity="1" stroke-width="0.6" points="868.3,423.3 880.8,421.7 879.2,433.3 880.0,445.0 883.3,451.7 861.7,460.0 850.0,465.0 843.3,453.3 840.0,450.0 840.0,433.3 855.8,430.0"/><path fill="none" d="M868.3,423.3L880.8,421.7L879.2,433.3L880.0,445.0L883.3,451.7L861.7,460.0L850.0,465.0L843.3,453.3L840.0,450.0M840.0,433.3L855.8,430.0L868.3,423.3"/>
<polygon fill="#6BAAD4" stroke="#6BAAD4" stroke-opacity="1" stroke-width="0.6" points="825.0,436.7 831.7,430.0 840.0,435.0 855.0,433.3 868.3,423.3 880.8,421.7 879.2,433.3 880.0,445.0 883.3,451.7 861.7,460.0 850.0,465.0 849.2,465.0 846.7,458.3 831.7,443.3"/><path fill="none" d="M825.0,436.7L831.7,430.0L840.0,435.0L855.0,433.3L868.3,423.3L880.8,421.7L879.2,433.3L880.0,445.0L883.3,451.7L861.7,460.0L850.0,465.0L849.2,465.0L846.7,458.3L831.7,443.3L825.0,436.7"/>
<polygon fill="#337AB8" stroke="#337AB8" stroke-opacity="1" stroke-width="0.6" points="883.3,451.7 893.3,445.0 903.3,443.3 915.0,442.5 932.5,441.7 946.7,443.3 955.8,446.7 960.0,458.3 948.3,463.3 935.0,467.5 913.3,470.8 900.8,471.7 899.2,458.3 890.0,456.7"/><path fill="none" d="M883.3,451.7L893.3,445.0L903.3,443.3L915.0,442.5L932.5,441.7L946.7,443.3L955.8,446.7L960.0,458.3L948.3,463.3L935.0,467.5L913.3,470.8L900.8,471.7L899.2,458.3L890.0,456.7L883.3,451.7"/>
<polygon fill="#337AB8" stroke="#337AB8" stroke-opacity="1" stroke-width="0.6" points="850.0,465.0 861.7,460.0 883.3,451.7 890.0,456.7 899.2,458.3 900.8,471.7 881.7,476.7 865.0,482.5 848.3,485.0 847.5,475.0"/><path fill="none" d="M850.0,465.0L861.7,460.0L883.3,451.7L890.0,456.7L899.2,458.3L900.8,471.7L881.7,476.7L865.0,482.5L848.3,485.0L847.5,475.0L850.0,465.0"/>
<polygon fill="#17519C" stroke="#17519C" stroke-opacity="1" stroke-width="0.6" points="913.3,470.8 935.0,467.5 948.3,463.3 960.0,458.3 962.5,456.7 980.0,476.7 966.7,481.7 950.0,488.3 936.7,492.5 918.3,493.7 915.8,481.7"/><path fill="none" d="M913.3,470.8L935.0,467.5L948.3,463.3L960.0,458.3L962.5,456.7L980.0,476.7L966.7,481.7L950.0,488.3L936.7,492.5L918.3,493.7L915.8,481.7L913.3,470.8"/>
<polygon fill="#337AB8" stroke="#337AB8" stroke-opacity="1" stroke-width="0.6" points="848.3,485.0 865.0,482.5 881.7,476.7 900.8,471.7 913.3,470.8 915.8,481.7 918.3,493.7 919.2,500.8 906.7,504.2 890.0,506.7 855.8,510.0 851.7,496.7"/><path fill="none" d="M848.3,485.0L865.0,482.5L881.7,476.7L900.8,471.7L913.3,470.8L915.8,481.7L918.3,493.7L919.2,500.8L906.7,504.2L890.0,506.7L855.8,510.0L851.7,496.7L848.3,485.0"/>
<polygon fill="#6BAAD4" stroke="#6BAAD4" stroke-opacity="1" stroke-width="0.6" points="918.3,493.7 936.7,492.5 950.0,488.3 966.7,481.7 980.0,476.7 982.5,476.7 989.2,493.3 973.3,500.0 956.7,504.2 940.0,508.3 921.7,510.0 919.2,500.8"/><path fill="none" d="M918.3,493.7L936.7,492.5L950.0,488.3L966.7,481.7L980.0,476.7L982.5,476.7L989.2,493.3L973.3,500.0L956.7,504.2L940.0,508.3L921.7,510.0L919.2,500.8L918.3,493.7"/>
<polygon fill="#337AB8" stroke="#337AB8" stroke-opacity="1" stroke-width="0.6" points="840.0,467.5 849.2,465.0 847.5,475.0 848.3,485.0 851.7,496.7 840.0,500.0"/><path fill="none" d="M840.0,467.5L849.2,465.0L847.5,475.0L848.3,485.0L851.7,496.7L840.0,500.0M840.0,467.5"/>
<polygon fill="#B3D0E8" stroke="#B3D0E8" stroke-opacity="1" stroke-width="0.6" points="775.8,479.2 790.8,478.3 803.3,475.0 814.2,473.3 816.7,488.3 815.0,497.5 808.3,499.2 811.7,506.7 810.0,513.3 797.5,515.8 790.0,510.0 778.3,506.7 775.0,495.0"/><path fill="none" d="M775.8,479.2L790.8,478.3L803.3,475.0L814.2,473.3L816.7,488.3L815.0,497.5L808.3,499.2L811.7,506.7L810.0,513.3L797.5,515.8L790.0,510.0L778.3,506.7L775.0,495.0L775.8,479.2"/>
<polygon fill="#337AB8" stroke="#337AB8" stroke-opacity="1" stroke-width="0.6" points="814.2,472.5 830.0,469.2 850.0,465.0 848.3,473.3 849.2,485.0 851.7,497.5 840.0,505.0 823.3,504.2 811.7,506.7 808.3,499.2 815.0,497.5 816.7,488.3"/><path fill="none" d="M814.2,472.5L830.0,469.2L850.0,465.0L848.3,473.3L849.2,485.0L851.7,497.5L840.0,505.0L823.3,504.2L811.7,506.7L808.3,499.2L815.0,497.5L816.7,488.3L814.2,472.5"/>
<polygon fill="#337AB8" stroke="#337AB8" stroke-opacity="1" stroke-width="0.6" points="850.0,465.0 865.0,460.0 881.7,451.7 886.7,455.0 898.3,458.3 900.8,471.7 890.0,475.0 873.3,480.8 856.7,483.7 849.2,485.0 848.3,473.3"/><path fill="none" d="M850.0,465.0L865.0,460.0L881.7,451.7L886.7,455.0L898.3,458.3L900.8,471.7L890.0,475.0L873.3,480.8L856.7,483.7L849.2,485.0L848.3,473.3L850.0,465.0"/>
<polygon fill="#17519C" stroke="#17519C" stroke-opacity="1" stroke-width="0.6" points="881.7,511.7 903.3,506.7 919.2,502.5 922.5,513.3 913.3,516.7 903.3,519.2 896.7,520.8 883.3,524.2"/><path fill="none" d="M881.7,511.7L903.3,506.7L919.2,502.5L922.5,513.3L913.3,516.7L903.3,519.2L896.7,520.8L883.3,524.2L881.7,511.7"/>
<polygon fill="#6BAAD4" stroke="#6BAAD4" stroke-opacity="1" stroke-width="0.6" points="823.3,504.2 840.0,505.0 851.7,497.5 855.0,505.0 859.2,515.0 850.8,519.2 847.5,515.0 836.7,520.0 829.2,523.3 826.7,513.3"/><path fill="none" d="M823.3,504.2L840.0,505.0L851.7,497.5L855.0,505.0L859.2,515.0L850.8,519.2L847.5,515.0L836.7,520.0L829.2,523.3L826.7,513.3L823.3,504.2"/>
<polygon fill="#17519C" stroke="#17519C" stroke-opacity="1" stroke-width="0.6" points="829.2,523.3 836.7,520.0 847.5,515.0 850.8,519.2 859.2,515.0 881.7,511.7 883.3,524.2 866.7,528.3 848.3,533.3 831.7,538.3"/><path fill="none" d="M829.2,523.3L836.7,520.0L847.5,515.0L850.8,519.2L859.2,515.0L881.7,511.7L883.3,524.2L866.7,528.3L848.3,533.3L831.7,538.3L829.2,523.3"/>
<polygon fill="#337AB8" stroke="#337AB8" stroke-opacity="1" stroke-width="0.6" points="797.5,515.8 810.0,513.3 811.7,506.7 823.3,504.2 826.7,513.3 829.2,523.3 831.7,538.3 820.0,539.2 800.0,538.3 799.2,523.3"/><path fill="none" d="M797.5,515.8L810.0,513.3L811.7,506.7L823.3,504.2L826.7,513.3L829.2,523.3L831.7,538.3L820.0,539.2L800.0,538.3L799.2,523.3L797.5,515.8"/>
<polygon fill="#DEEBF7" stroke="#DEEBF7" stroke-opacity="1" stroke-width="0.6" points="750.0,509.2 761.7,503.3 773.3,498.3 775.8,505.0 779.2,510.0 770.0,511.7 761.7,515.0 755.0,519.2"/><path fill="none" d="M750.0,509.2L761.7,503.3L773.3,498.3L775.8,505.0L779.2,510.0L770.0,511.7L761.7,515.0L755.0,519.2L750.0,509.2"/>
<polygon fill="#B3B3B3" stroke="#B3B3B3" stroke-opacity="1" stroke-width="0.6" points="740.8,493.3 750.8,480.0 760.0,490.0 760.8,497.5 763.3,502.5 750.0,507.5"/><path fill="none" d="M740.8,493.3L750.8,480.0L760.0,490.0L760.8,497.5L763.3,502.5L750.0,507.5L740.8,493.3"/>
<polygon fill="#337AB8" stroke="#337AB8" stroke-opacity="1" stroke-width="0.6" points="755.8,465.0 761.7,461.7 769.2,470.0 775.8,479.2 774.2,488.3 775.0,496.7 765.0,502.5 760.8,497.5 767.5,486.7 760.0,490.0 756.7,476.7"/><path fill="none" d="M755.8,465.0L761.7,461.7L769.2,470.0L775.8,479.2L774.2,488.3L775.0,496.7L765.0,502.5L760.8,497.5L767.5,486.7L760.0,490.0L756.7,476.7L755.8,465.0"/>
<polygon fill="#B3B3B3" stroke="#B3B3B3" stroke-opacity="1" stroke-width="0.6" points="761.7,461.7 784.2,454.2 788.3,465.0 790.8,474.2 775.8,479.2 769.2,470.0"/><path fill="none" d="M761.7,461.7L784.2,454.2L788.3,465.0L790.8,474.2L775.8,479.2L769.2,470.0L761.7,461.7"/>
<polygon fill="#6BAAD4" stroke="#6BAAD4" stroke-opacity="1" stroke-width="0.6" points="740.0,460.0 755.8,465.0 756.7,476.7 750.8,480.0 740.8,493.3 750.0,507.5 746.7,513.3 740.0,510.0"/><path fill="none" d="M740.0,460.0L755.8,465.0L756.7,476.7L750.8,480.0L740.8,493.3L750.0,507.5L746.7,513.3L740.0,510.0M740.0,460.0"/>
<polygon fill="#6BAAD4" stroke="#6BAAD4" stroke-opacity="1" stroke-width="0.6" points="761.7,440.0 781.7,440.0 806.7,440.0 808.3,447.5 785.8,454.2 784.2,454.2 761.7,461.7 758.3,460.0 760.8,450.0"/><path fill="none" d="M761.7,440.0M781.7,440.0M806.7,440.0L808.3,447.5L785.8,454.2L784.2,454.2L761.7,461.7L758.3,460.0L760.8,450.0L761.7,440.0"/>
<polygon fill="#6BAAD4" stroke="#6BAAD4" stroke-opacity="1" stroke-width="0.6" points="827.5,440.0 880.0,440.0 881.7,451.7 865.0,460.0 850.0,465.0 846.7,456.7 836.7,446.7"/><path fill="none" d="M827.5,440.0M880.0,440.0L881.7,451.7L865.0,460.0L850.0,465.0L846.7,456.7L836.7,446.7L827.5,440.0"/>
<polygon fill="#337AB8" stroke="#337AB8" stroke-opacity="1" stroke-width="0.6" points="740.0,440.0 761.7,440.0 760.8,450.0 758.3,460.0 740.0,456.7"/><path fill="none" d="M740.0,440.0M761.7,440.0L760.8,450.0L758.3,460.0L740.0,456.7M740.0,440.0"/>
<polygon fill="#337AB8" stroke="#337AB8" stroke-opacity="1" stroke-width="0.6" points="701.3,341.7 708.3,341.7 710.8,353.3 712.5,361.7 702.5,360.8"/><path fill="none" d="M701.3,341.7L708.3,341.7L710.8,353.3L712.5,361.7L702.5,360.8L701.3,341.7"/>
<polygon fill="#6BAAD4" stroke="#6BAAD4" stroke-opacity="1" stroke-width="0.6" points="695.0,380.0 716.2,380.0 719.4,383.8 712.5,393.8 708.1,405.0 705.0,423.1 693.8,420.0 688.8,421.9 688.8,405.0 692.5,392.5"/><path fill="none" d="M695.0,380.0M716.2,380.0L719.4,383.8L712.5,393.8L708.1,405.0L705.0,423.1L693.8,420.0L688.8,421.9L688.8,405.0L692.5,392.5L695.0,380.0"/>
<polygon fill="#6BAAD4" stroke="#6BAAD4" stroke-opacity="1" stroke-width="0.6" points="719.4,383.8 725.0,390.0 730.0,395.0 733.8,407.5 738.8,423.8 722.5,424.4 705.0,423.1 708.1,405.0 712.5,393.8"/><path fill="none" d="M719.4,383.8L725.0,390.0L730.0,395.0L733.8,407.5L738.8,423.8L722.5,424.4L705.0,423.1L708.1,405.0L712.5,393.8L719.4,383.8"/>
<polygon fill="#337AB8" stroke="#337AB8" stroke-opacity="1" stroke-width="0.6" points="730.0,395.0 738.8,396.2 748.8,398.8 745.0,403.8 750.0,405.0 755.0,411.2 765.6,416.9 763.8,425.0 747.5,422.5 738.8,423.8 733.8,407.5"/><path fill="none" d="M730.0,395.0L738.8,396.2L748.8,398.8L745.0,403.8L750.0,405.0L755.0,411.2L765.6,416.9L763.8,425.0L747.5,422.5L738.8,423.8L733.8,407.5L730.0,395.0"/>
<polygon fill="#6BAAD4" stroke="#6BAAD4" stroke-opacity="1" stroke-width="0.6" points="748.8,397.5 761.2,396.2 772.5,392.5 780.6,398.8 771.2,408.8 765.6,416.9 755.0,411.2 750.0,405.0 745.0,403.8"/><path fill="none" d="M748.8,397.5L761.2,396.2L772.5,392.5L780.6,398.8L771.2,408.8L765.6,416.9L755.0,411.2L750.0,405.0L745.0,403.8L748.8,397.5"/>
<polygon fill="#B3D0E8" stroke="#B3D0E8" stroke-opacity="1" stroke-width="0.6" points="765.6,416.9 771.2,408.8 777.5,403.8 783.8,405.0 787.5,415.0 796.2,425.0 790.0,423.8 780.0,421.9 773.8,423.8 764.4,424.4"/><path fill="none" d="M765.6,416.9L771.2,408.8L777.5,403.8L783.8,405.0L787.5,415.0L796.2,425.0L790.0,423.8L780.0,421.9L773.8,423.8L764.4,424.4L765.6,416.9"/>
<polygon fill="#B3B3B3" stroke="#B3B3B3" stroke-opacity="1" stroke-width="0.6" points="764.4,424.4 773.8,423.8 780.0,421.9 790.0,427.5 777.5,433.8 776.9,437.5 765.6,437.5"/><path fill="none" d="M764.4,424.4L773.8,423.8L780.0,421.9L790.0,427.5L777.5,433.8L776.9,437.5L765.6,437.5L764.4,424.4"/>
<polygon fill="#B3D0E8" stroke="#B3D0E8" stroke-opacity="1" stroke-width="0.6" points="738.8,423.8 747.5,422.5 763.8,425.0 764.4,435.0 762.5,445.0 753.8,440.0 747.5,437.5 743.8,433.8"/><path fill="none" d="M738.8,423.8L747.5,422.5L763.8,425.0L764.4,435.0L762.5,445.0L753.8,440.0L747.5,437.5L743.8,433.8L738.8,423.8"/>
<polygon fill="#6BAAD4" stroke="#6BAAD4" stroke-opacity="1" stroke-width="0.6" points="765.6,437.5 776.9,437.5 781.9,438.8 785.0,452.5 760.0,461.2 762.5,445.0 764.4,437.5"/><path fill="none" d="M765.6,437.5L776.9,437.5L781.9,438.8L785.0,452.5L760.0,461.2L762.5,445.0L764.4,437.5L765.6,437.5"/>
<polygon fill="#337AB8" stroke="#337AB8" stroke-opacity="1" stroke-width="0.6" points="744.4,438.8 747.5,437.5 753.8,440.0 762.5,445.0 760.0,461.2 757.5,460.0 744.4,455.0 743.1,446.2"/><path fill="none" d="M744.4,438.8L747.5,437.5L753.8,440.0L762.5,445.0L760.0,461.2L757.5,460.0L744.4,455.0L743.1,446.2L744.4,438.8"/>
<polygon fill="#337AB8" stroke="#337AB8" stroke-opacity="1" stroke-width="0.6" points="681.9,427.5 685.6,423.8 688.8,421.9 693.8,420.0 705.0,423.1 710.0,426.9 706.2,430.0 705.0,437.5 698.1,438.8 697.5,443.1 685.0,445.6 683.8,436.2"/><path fill="none" d="M681.9,427.5L685.6,423.8L688.8,421.9L693.8,420.0L705.0,423.1L710.0,426.9L706.2,430.0L705.0,437.5L698.1,438.8L697.5,443.1L685.0,445.6L683.8,436.2L681.9,427.5"/>
<polygon fill="#17519C" stroke="#17519C" stroke-opacity="1" stroke-width="0.6" points="705.0,423.1 722.5,424.4 738.8,423.8 743.8,433.8 743.1,445.6 730.0,445.6 728.8,449.4 726.2,452.5 718.8,452.5 717.5,442.5 713.8,440.0 705.0,439.4 706.2,430.0 710.0,426.9"/><path fill="none" d="M705.0,423.1L722.5,424.4L738.8,423.8L743.8,433.8L743.1,445.6L730.0,445.6L728.8,449.4L726.2,452.5L718.8,452.5L717.5,442.5L713.8,440.0L705.0,439.4L706.2,430.0L710.0,426.9L705.0,423.1"/>
<polygon fill="#337AB8" stroke="#337AB8" stroke-opacity="1" stroke-width="0.6" points="685.0,445.6 697.5,443.1 698.1,438.8 705.0,437.5 705.0,439.4 713.8,440.0 717.5,442.5 718.8,452.5 726.2,452.5 727.5,458.1 717.5,456.2 705.0,456.2 692.5,458.1 688.1,452.5"/><path fill="none" d="M685.0,445.6L697.5,443.1L698.1,438.8L705.0,437.5L705.0,439.4L713.8,440.0L717.5,442.5L718.8,452.5L726.2,452.5L727.5,458.1L717.5,456.2L705.0,456.2L692.5,458.1L688.1,452.5L685.0,445.6"/>
<polygon fill="#6BAAD4" stroke="#6BAAD4" stroke-opacity="1" stroke-width="0.6" points="730.0,445.6 743.1,445.6 744.4,455.0 736.2,456.2 727.5,458.1 726.2,452.5 728.8,449.4"/><path fill="none" d="M730.0,445.6L743.1,445.6L744.4,455.0L736.2,456.2L727.5,458.1L726.2,452.5L728.8,449.4L730.0,445.6"/>
<polygon fill="#6BAAD4" stroke="#6BAAD4" stroke-opacity="1" stroke-width="0.6" points="692.5,458.1 705.0,456.2 717.5,456.2 727.5,458.1 736.2,456.2 744.4,455.0 742.5,462.5 736.2,470.0 727.5,477.5 717.5,482.5 712.5,475.0 705.0,472.5 702.5,476.2 696.2,477.5 693.8,467.5"/><path fill="none" d="M692.5,458.1L705.0,456.2L717.5,456.2L727.5,458.1L736.2,456.2L744.4,455.0L742.5,462.5L736.2,470.0L727.5,477.5L717.5,482.5L712.5,475.0L705.0,472.5L702.5,476.2L696.2,477.5L693.8,467.5L692.5,458.1"/>
<polygon fill="#6BAAD4" stroke="#6BAAD4" stroke-opacity="1" stroke-width="0.6" points="744.4,455.0 757.5,460.0 755.0,467.5 756.2,480.0 751.2,479.4 746.2,485.0 740.0,492.5 732.5,486.2 722.5,481.2 727.5,477.5 736.2,470.0 742.5,462.5"/><path fill="none" d="M744.4,455.0L757.5,460.0L755.0,467.5L756.2,480.0L751.2,479.4L746.2,485.0L740.0,492.5L732.5,486.2L722.5,481.2L727.5,477.5L736.2,470.0L742.5,462.5L744.4,455.0"/>
<polygon fill="#B3D0E8" stroke="#B3D0E8" stroke-opacity="1" stroke-width="0.6" points="682.5,475.0 696.2,477.5 702.5,476.2 705.0,472.5 712.5,475.0 717.5,482.5 707.5,487.5 703.8,492.5 680.0,492.5 679.4,486.2"/><path fill="none" d="M682.5,475.0L696.2,477.5L702.5,476.2L705.0,472.5L712.5,475.0L717.5,482.5L707.5,487.5L703.8,492.5L680.0,492.5L679.4,486.2L682.5,475.0"/>
<polygon fill="#B3B3B3" stroke="#B3B3B3" stroke-opacity="1" stroke-width="0.6" points="760.0,461.2 785.0,453.8 790.0,473.8 775.0,480.0"/><path fill="none" d="M760.0,461.2L785.0,453.8L790.0,473.8L775.0,480.0L760.0,461.2"/>
<polygon fill="#337AB8" stroke="#337AB8" stroke-opacity="1" stroke-width="0.6" points="757.5,460.0 760.0,461.2 775.0,480.0 768.8,482.5 761.2,490.0 756.2,480.0 755.0,467.5"/><path fill="none" d="M757.5,460.0L760.0,461.2L775.0,480.0L768.8,482.5L761.2,490.0L756.2,480.0L755.0,467.5L757.5,460.0"/>
<polygon fill="#B3B3B3" stroke="#B3B3B3" stroke-opacity="1" stroke-width="0.6" points="740.0,492.5 746.2,485.0 751.2,479.4 756.2,480.0 761.2,490.0 761.2,500.0 742.5,500.0"/><path fill="none" d="M740.0,492.5L746.2,485.0L751.2,479.4L756.2,480.0L761.2,490.0L761.2,500.0M742.5,500.0L740.0,492.5"/>
<polygon fill="#337AB8" stroke="#337AB8" stroke-opacity="1" stroke-width="0.6" points="703.8,492.5 707.5,487.5 717.5,482.5 722.5,481.2 732.5,486.2 725.0,492.5 720.0,500.0 702.5,500.0"/><path fill="none" d="M703.8,492.5L707.5,487.5L717.5,482.5L722.5,481.2L732.5,486.2L725.0,492.5L720.0,500.0M702.5,500.0L703.8,492.5"/>
<polygon fill="#337AB8" stroke="#337AB8" stroke-opacity="1" stroke-width="0.6" points="849.2,485.0 856.7,483.7 873.3,480.8 890.0,475.0 900.8,471.7 914.2,470.8 915.8,481.7 918.3,494.2 919.2,502.5 903.3,506.7 881.7,511.7 859.2,515.0 855.0,505.0 851.7,497.5"/><path fill="none" d="M849.2,485.0L856.7,483.7L873.3,480.8L890.0,475.0L900.8,471.7L914.2,470.8L915.8,481.7L918.3,494.2L919.2,502.5L903.3,506.7L881.7,511.7L859.2,515.0L855.0,505.0L851.7,497.5L849.2,485.0"/>
<polygon fill="#17519C" stroke="#17519C" stroke-opacity="1" stroke-width="0.6" points="914.2,470.8 935.0,467.5 948.3,462.5 960.0,456.7 970.8,469.2 980.0,477.5 964.0,485.0 950.0,488.3 936.7,492.5 918.3,494.2 915.8,481.7"/><path fill="none" d="M914.2,470.8L935.0,467.5L948.3,462.5L960.0,456.7L970.8,469.2M980.0,477.5M964.0,485.0L950.0,488.3L936.7,492.5L918.3,494.2L915.8,481.7L914.2,470.8"/>
<polygon fill="#6BAAD4" stroke="#6BAAD4" stroke-opacity="1" stroke-width="0.6" points="918.3,494.2 936.7,492.5 950.0,488.3 964.0,485.0 980.0,477.5 988.3,493.3 973.3,500.0 964.0,502.5 948.3,506.7 935.0,510.0 922.5,513.3 919.2,502.5"/><path fill="none" d="M918.3,494.2L936.7,492.5L950.0,488.3L964.0,485.0M980.0,477.5M988.3,493.3M973.3,500.0M964.0,502.5L948.3,506.7L935.0,510.0L922.5,513.3L919.2,502.5L918.3,494.2"/>
<polygon fill="#337AB8" stroke="#337AB8" stroke-opacity="1" stroke-width="0.6" points="701.2,562.9 703.3,562.1 712.5,567.1 711.2,570.0"/><path fill="none" d="M701.2,562.9L703.3,562.1L712.5,567.1L711.2,570.0L701.2,562.9"/>
<polygon fill="#B3D0E8" stroke="#B3D0E8" stroke-opacity="1" stroke-width="0.6" points="697.5,564.6 700.8,562.9 711.2,570.0 710.0,575.8 707.5,577.9 703.3,576.7 700.0,574.2 701.2,578.3 702.5,581.7 700.0,586.7 698.3,589.2 694.2,585.8 690.8,578.3 689.2,576.7 693.3,567.5"/><path fill="none" d="M697.5,564.6L700.8,562.9L711.2,570.0L710.0,575.8L707.5,577.9L703.3,576.7L700.0,574.2L701.2,578.3L702.5,581.7L700.0,586.7L698.3,589.2L694.2,585.8L690.8,578.3L689.2,576.7L693.3,567.5L697.5,564.6"/>
<polygon fill="#DEEBF7" stroke="#DEEBF7" stroke-opacity="1" stroke-width="0.6" points="711.2,570.0 715.0,575.0 720.0,572.5 726.7,570.8 727.9,576.7 733.3,582.5 725.4,594.2 720.0,603.3 711.7,598.3 704.2,594.6 700.0,591.7 700.0,586.7 702.5,581.7 707.5,577.9 710.0,575.8"/><path fill="none" d="M711.2,570.0L715.0,575.0L720.0,572.5L726.7,570.8L727.9,576.7L733.3,582.5L725.4,594.2L720.0,603.3L711.7,598.3L704.2,594.6L700.0,591.7L700.0,586.7L702.5,581.7L707.5,577.9L710.0,575.8L711.2,570.0"/>
<polygon fill="#337AB8" stroke="#337AB8" stroke-opacity="1" stroke-width="0.6" points="664.6,588.3 677.5,585.8 689.2,577.5 690.8,578.3 694.2,585.8 695.0,593.3 695.4,595.0 670.8,595.4"/><path fill="none" d="M664.6,588.3L677.5,585.8L689.2,577.5L690.8,578.3L694.2,585.8L695.0,593.3L695.4,595.0L670.8,595.4L664.6,588.3"/>
<polygon fill="#B3B3B3" stroke="#B3B3B3" stroke-opacity="1" stroke-width="0.6" points="665.0,578.3 670.0,574.2 679.2,569.6 685.0,572.5 689.2,577.1 677.5,585.8 674.2,584.2"/><path fill="none" d="M665.0,578.3L670.0,574.2L679.2,569.6L685.0,572.5L689.2,577.1L677.5,585.8L674.2,584.2L665.0,578.3"/>
<polygon fill="#6BAAD4" stroke="#6BAAD4" stroke-opacity="1" stroke-width="0.6" points="655.8,556.7 666.7,558.8 675.0,558.3 677.5,561.7 678.8,561.7 679.2,569.2 670.0,574.2 665.0,578.3 660.8,577.1 651.7,571.7 655.0,561.7"/><path fill="none" d="M655.8,556.7L666.7,558.8L675.0,558.3L677.5,561.7L678.8,561.7L679.2,569.2L670.0,574.2L665.0,578.3L660.8,577.1L651.7,571.7L655.0,561.7L655.8,556.7"/>
<polygon fill="#337AB8" stroke="#337AB8" stroke-opacity="1" stroke-width="0.6" points="657.5,548.3 665.0,548.8 673.3,548.3 675.8,553.3 677.5,560.8 675.0,558.3 666.7,558.8 655.8,556.7 656.2,551.7"/><path fill="none" d="M657.5,548.3L665.0,548.8L673.3,548.3L675.8,553.3L677.5,560.8L675.0,558.3L666.7,558.8L655.8,556.7L656.2,551.7L657.5,548.3"/>
<polygon fill="#17519C" stroke="#17519C" stroke-opacity="1" stroke-width="0.6" points="649.2,573.8 660.8,577.1 665.0,578.3 674.2,584.2 664.6,588.3 662.5,587.1 649.2,580.0"/><path fill="none" d="M649.2,573.8L660.8,577.1L665.0,578.3L674.2,584.2L664.6,588.3L662.5,587.1L649.2,580.0M649.2,573.8"/>
<polygon fill="#17519C" stroke="#17519C" stroke-opacity="1" stroke-width="0.6" points="649.2,580.0 662.5,587.1 660.8,594.2 655.0,598.3 649.2,595.0"/><path fill="none" d="M649.2,580.0L662.5,587.1L660.8,594.2L655.0,598.3L649.2,595.0M649.2,580.0"/>
<polygon fill="#DEEBF7" stroke="#DEEBF7" stroke-opacity="1" stroke-width="0.6" points="610.0,625.5 625.0,626.2 637.5,628.0 648.8,631.2 657.5,636.2 672.5,640.0 685.0,642.0 692.5,643.8 705.0,641.2 710.0,643.8 708.8,648.8 700.0,660.0 690.0,670.0 682.5,676.2 673.8,678.8 666.2,673.8 660.0,668.8 652.5,660.0 643.8,652.5 635.0,645.0 625.0,638.8 616.2,632.5"/><path fill="none" d="M610.0,625.5L625.0,626.2L637.5,628.0L648.8,631.2L657.5,636.2L672.5,640.0L685.0,642.0L692.5,643.8L705.0,641.2L710.0,643.8L708.8,648.8L700.0,660.0L690.0,670.0L682.5,676.2L673.8,678.8L666.2,673.8L660.0,668.8L652.5,660.0L643.8,652.5L635.0,645.0L625.0,638.8L616.2,632.5L610.0,625.5"/>
<polygon fill="#DEEBF7" stroke="#DEEBF7" stroke-opacity="1" stroke-width="0.6" points="618.8,615.0 622.5,612.5 626.2,615.0 623.8,618.8 619.5,618.0"/><path fill="none" d="M618.8,615.0L622.5,612.5L626.2,615.0L623.8,618.8L619.5,618.0L618.8,615.0"/>
</g>
<g fill="none" stroke="#7c7c7c" stroke-width="1.5">
<polygon points="333.8,206.2 352.5,190.0 365.0,177.5 380.0,168.8 395.0,164.5 418.8,163.8 425.0,168.8 432.5,176.2 440.0,183.8 443.2,188.8 440.0,192.5 441.2,196.2 443.2,193.8 453.8,193.8 454.5,177.0 472.5,178.8 495.0,182.0 507.5,183.0 511.2,181.2 507.5,182.5 512.5,177.5 518.8,172.5 517.0,160.8 518.5,160.2 521.2,170.8 530.0,165.5 540.0,158.8 555.0,150.0 572.5,138.2 587.5,127.0 600.0,120.0 615.0,117.0 632.5,116.2 642.5,118.8 640.0,123.8 637.5,130.0 640.0,131.2 643.8,125.0 647.5,126.2 650.0,133.8 651.2,138.8 655.0,132.5 658.8,123.0 676.2,132.0 674.5,140.0 672.5,143.8 675.0,145.0 678.8,137.5 682.5,131.2 707.5,142.5 725.0,150.0 733.8,155.0 728.8,162.0 732.5,172.5 736.2,183.8 746.2,198.8 747.5,202.5 750.0,206.2 746.2,210.0 732.5,222.5 746.2,230.0 752.5,227.5 760.0,226.2 761.2,220.0 772.5,211.2 782.5,210.0 795.0,216.2 806.2,225.0 817.5,231.2 827.5,238.8 829.5,241.2 830.0,246.2 827.5,251.2 832.5,247.5 837.5,241.2 852.5,236.2 865.0,237.5 868.8,242.5 870.0,248.8 873.8,245.5 881.2,251.2 890.0,260.0 900.0,270.0 910.0,278.8 911.2,282.5 908.8,286.2 920.0,285.0 930.0,296.2 925.0,301.2 927.5,303.8 935.0,298.8 940.0,307.5 938.8,316.2 931.2,316.2 947.5,325.0 960.0,330.0 975.0,332.5 987.5,332.0 995.0,330.0 998.8,333.8 1000.0,327.5 1012.5,318.8 1013.8,311.2 1020.0,305.0 1035.0,302.5 1050.0,303.8 1055.0,306.2 1065.0,307.5 1072.5,310.0 1077.5,316.2 1081.2,325.0 1090.0,340.0 1093.8,348.8 1099.5,351.2 1099.5,353.8 1095.0,355.0 1092.5,358.8 1093.8,361.2 1108.8,358.8 1120.0,361.2 1125.5,366.2 1140.5,373.8 1158.0,382.5 1158.0,383.0 1160.5,386.2 1173.0,393.8 1180.5,401.2 1183.8,407.5 1181.8,411.8 1178.8,410.0 1180.5,406.2 1178.0,401.2 1168.0,392.5 1157.5,387.5 1155.5,390.5 1128.0,465.0 1129.2,468.8 1157.5,469.2 1158.0,486.2 1159.8,487.5 1157.5,490.0 1148.5,490.0 1148.0,479.5 1133.8,479.5 1133.0,490.5 1115.5,490.5 1103.0,492.5 1093.0,498.8 1083.0,503.8 1075.5,503.0 1058.0,495.0 1040.5,498.8 1038.5,499.5 1040.5,497.0 1040.0,490.0 1023.0,489.5 1008.0,490.5 1005.0,491.2 990.0,494.5 975.0,500.0 960.0,503.8 945.0,507.5 935.0,510.0 922.5,515.0 912.5,517.0 900.0,520.0 883.8,523.8 872.5,527.5 860.0,532.5 847.5,536.2 832.5,540.0 822.5,545.0 812.5,550.0 802.5,557.5 792.5,565.0 787.5,570.0 780.0,575.0 767.5,580.0 766.2,586.2 755.0,595.0 745.0,605.0 741.2,610.0 742.5,612.5 740.0,613.8 737.5,608.8 732.5,612.5 725.0,608.8 718.8,603.8 717.5,616.2 718.8,621.2 716.2,622.5 713.8,617.5 705.0,610.0 705.0,611.2 702.0,613.8 706.2,619.5 703.8,621.2 698.8,615.0 695.0,611.2 680.0,607.5 665.0,610.0 657.5,611.2 652.0,612.5 652.0,628.8 649.5,628.8 649.5,617.5 635.0,617.5 620.0,612.5 612.5,613.8 605.0,618.8 597.5,610.0 593.8,608.8 590.0,607.5 576.2,603.0 558.8,636.2 541.2,627.5 557.5,593.0 536.2,581.2 521.2,605.5 472.5,575.0 480.0,563.8 483.8,562.5 518.8,580.0 526.2,570.0 498.8,551.2 502.5,540.0 495.0,531.2 490.0,532.5 480.0,536.2 470.0,535.0 460.0,532.5 456.2,526.2 452.5,528.8 435.0,525.0 417.5,528.3 411.7,525.0 403.3,520.8 393.3,512.5 388.3,507.9 380.0,507.5 378.3,506.2 377.3,507.9 377.3,510.0 374.2,510.4 370.8,509.6 370.0,515.0 368.3,518.3 369.2,523.3 355.8,524.2 355.8,518.3 349.2,515.8 343.3,510.0 340.4,510.0 337.9,510.8 336.2,515.0 335.4,526.7 328.3,528.8 320.0,529.2 310.0,530.0 307.5,507.0 303.8,507.5 305.0,530.0 302.5,533.8 298.8,536.2 286.2,535.0 283.8,513.8 275.0,515.0 278.8,530.0 287.5,540.0 286.2,542.5 270.0,555.0 266.2,551.2 250.0,538.8 247.5,535.0 243.8,536.2 236.2,530.0 230.0,523.8 247.5,502.5 243.8,500.0 227.5,515.0 221.2,507.5 235.0,492.5 228.8,486.2 213.8,500.0 198.8,491.2 192.5,498.8 196.2,502.5 205.0,510.0 217.5,525.0 221.2,540.0 221.2,550.0 227.5,560.0 230.0,567.5 227.5,575.0 222.5,578.8 206.2,578.8 203.8,601.2 212.5,602.0 212.5,622.5 150.0,623.0 150.0,640.0 215.5,639.5 215.5,654.2 200.0,661.2 150.0,661.2 150.0,677.5 228.8,677.5 228.8,699.5 150.0,699.5 150.0,717.5 246.2,717.5 250.0,727.5 235.0,733.0 225.0,737.5 215.0,743.8 210.0,744.5 187.5,739.5 162.5,733.0 137.5,726.2 125.0,721.2 121.2,715.0 121.2,664.5 138.0,664.2 138.0,658.2 129.5,657.5 129.5,641.8 137.5,641.2 137.5,637.0 132.0,636.2 132.0,625.0 121.2,624.5 121.2,621.2 125.0,612.5 130.0,597.5 133.8,586.2 137.5,580.0 147.5,576.2 155.0,570.0 157.5,557.5 153.8,547.5 150.0,542.5 151.2,537.0 155.0,533.8 160.0,522.5 163.8,507.5 172.5,482.5 180.0,462.5 185.0,445.0 190.0,427.5 195.0,415.0 191.2,411.2 188.8,406.2 191.2,403.8 197.5,405.0 200.0,400.0 220.0,366.2 225.5,355.0 231.2,349.5 235.0,350.0 238.8,340.0 246.2,326.2 252.5,322.5 257.5,305.0 260.0,300.0 255.0,292.5 261.2,283.8 260.0,275.0 266.2,266.2 273.8,263.8 278.8,255.0 283.8,250.0 282.5,240.0 287.5,238.8 287.5,227.5 295.0,218.8 305.0,216.2 310.0,212.5 317.5,211.2 322.5,207.5"/>
<polygon points="237.5,593.8 250.0,585.0 255.0,590.0 275.0,575.0 295.0,562.5 315.0,552.5 325.0,550.0 342.5,550.0 335.0,560.0 312.5,585.0 321.2,593.0 333.8,581.2 341.2,585.0 340.0,572.5 350.0,560.0 362.5,548.8 371.2,546.2 379.5,547.5 379.5,547.5 391.2,550.0 393.8,548.0 397.5,550.0 403.8,550.5 410.0,556.2 413.8,565.0 422.5,573.8 426.2,578.8 435.0,582.5 442.5,586.2 447.5,591.2 440.0,598.8 431.2,605.0 428.8,602.5 415.0,597.5 407.5,603.8 408.8,605.0 415.0,600.0 427.5,605.0 431.2,608.8 426.2,617.5 405.0,627.5 385.0,615.0 376.2,607.5 375.0,602.5 371.2,607.5 362.5,612.5 383.8,626.2 383.8,630.0 336.2,647.5 327.5,617.5 313.8,605.0 302.5,617.5 315.0,630.0 320.0,642.5 326.2,665.0 327.0,672.5 321.2,681.2 320.0,680.0 307.5,691.2 308.8,693.8 288.0,714.5 283.8,715.0 278.8,710.0 276.2,702.5 277.5,700.8 280.0,707.5 283.8,711.2 291.2,702.5 285.0,687.0 275.0,686.2 262.5,660.0 252.5,637.5 242.5,615.0 237.5,602.5 237.5,593.8"/>
<polygon points="377.5,507.9 379.3,507.9 379.3,548.3 377.5,548.3"/>
<polygon points="379.6,512.5 386.7,513.3 401.2,526.2 400.4,529.0 379.6,529.0"/>
<polygon points="337.1,515.0 341.7,512.5 349.2,520.0 349.2,530.0 340.8,530.0 338.8,521.7"/>
<polygon points="732.5,163.8 740.0,160.0 747.5,162.5 768.8,188.8 769.5,196.2 762.5,202.0 751.2,200.0 747.5,193.8 740.0,182.5 735.0,172.5"/>
<polygon points="900.0,231.2 910.0,224.5 917.5,219.5 930.0,225.0 942.5,228.8 952.5,233.8 962.5,240.0 970.0,243.8 982.5,242.5 997.5,242.0 1007.5,240.0 1020.0,242.5 1032.5,243.8 1045.0,241.2 1060.0,240.0 1071.2,242.0 1077.5,248.8 1082.5,260.0 1086.2,273.8 1085.0,278.8 1077.5,280.8 1065.0,278.8 1050.0,280.0 1045.0,277.5 1030.0,278.8 1015.0,280.0 1000.0,283.8 987.5,286.2 977.5,288.8 972.5,285.0 965.0,276.2 955.0,266.2 945.0,260.0 932.5,255.0 920.0,248.8 910.0,246.2 903.8,240.0 901.2,235.0"/>
<polygon points="942.5,268.0 947.5,268.0 956.2,275.0 965.0,280.0 967.5,288.8 965.0,290.8 955.0,282.5 947.5,275.0"/>
<polygon points="1100.5,228.8 1113.0,216.2 1130.5,201.2 1148.0,194.5 1170.5,188.8 1183.0,190.5 1186.8,195.0 1191.8,202.0 1208.0,206.2 1210.5,211.2 1220.5,211.2 1238.0,217.5 1254.2,226.2 1263.0,232.5 1273.0,241.2 1279.2,251.2 1285.0,263.8 1280.5,270.0 1289.2,273.8 1293.0,282.5 1292.5,295.0 1286.8,308.8 1278.0,322.5 1268.0,342.5 1260.5,365.0 1259.2,380.0 1260.0,391.2 1269.2,410.0 1280.5,427.5 1283.0,433.8 1279.2,438.0 1273.0,437.0 1243.0,413.8 1215.5,390.0 1183.0,362.5 1163.0,342.5 1143.0,325.0 1128.0,310.0 1119.2,297.5 1115.5,286.2 1118.0,283.0 1138.0,283.8 1146.8,281.2 1150.5,276.2 1146.8,270.0 1149.2,266.2 1150.5,259.5 1144.2,258.0 1138.0,263.8 1130.5,266.2 1115.5,265.0 1108.0,260.0 1104.2,250.0 1100.0,237.5"/>
<polygon points="1235.7,201.2 1235.2,202.2 1234.2,202.7 1233.3,202.2 1232.8,201.2 1233.3,200.3 1234.2,199.8 1235.2,200.3"/>
<polygon points="1282.7,473.8 1282.2,475.0 1281.0,475.4 1279.8,475.0 1279.3,473.8 1279.8,472.5 1281.0,472.1 1282.2,472.5"/>
<polygon points="1252.5,549.2 1251.9,550.7 1250.5,551.2 1249.1,550.7 1248.5,549.2 1249.1,547.8 1250.5,547.2 1251.9,547.8"/>
<polygon points="653.8,625.0 673.8,615.0 682.5,615.8 695.5,628.8 686.2,636.2 665.0,633.8 655.0,630.0"/>
<polygon points="701.2,676.7 703.3,673.3 708.3,670.0 713.3,667.1 715.8,662.5 718.8,659.6 721.7,660.4 725.0,664.2 727.1,669.2 727.5,673.3 725.0,676.2 721.7,675.4 717.5,672.9 714.2,672.5 710.8,674.6 706.7,677.9 703.3,679.3"/>
<polygon points="678.3,690.0 680.0,685.4 683.3,686.7 685.8,689.2 689.2,693.3 691.2,698.3 691.5,702.5 689.2,703.8 685.8,701.7 682.5,699.2 680.0,695.0"/>
<polygon points="717.5,694.2 724.2,692.9 730.8,692.1 734.6,691.7 735.0,694.2 733.3,697.5 730.8,700.0 725.8,700.8 723.3,700.0 722.1,702.5 723.3,706.7 726.7,708.3 728.8,707.5 729.2,710.0 731.7,713.3 735.0,718.3 737.5,721.2 735.8,723.3 734.2,725.4 731.7,727.1 729.2,725.0 725.8,721.7 722.5,717.5 720.0,714.2 718.3,710.8 715.0,707.5 717.5,705.8 720.0,706.7 720.0,703.3 718.3,700.0 715.0,700.0 713.3,697.5"/>
<polygon points="702.9,691.7 706.7,691.7 711.7,693.3 712.1,695.4 709.2,696.7 705.8,694.2"/>
<polygon points="706.2,704.6 709.2,702.5 711.7,701.7 713.3,698.3 714.2,699.2 712.5,703.3 709.2,705.8 706.7,705.8"/>
<polygon points="733.3,708.8 736.7,707.5 740.8,709.2 744.2,712.5 745.8,716.7 745.0,719.2 742.5,720.0 740.0,717.5 736.7,713.3"/>
<polygon points="697.5,715.8 700.0,713.3 703.3,712.5 707.5,714.6 711.7,716.7 715.0,719.2 718.3,720.8 719.6,728.3 719.2,735.8 717.1,735.0 713.3,731.2 708.3,725.8 701.7,719.2"/>
<polygon points="446.2,685.0 455.0,681.2 467.5,680.0 477.5,685.0 485.0,682.5 490.0,681.2 493.8,690.0 500.0,695.0 512.5,697.5 521.2,702.5 520.0,707.5 512.5,710.0 500.0,707.5 487.5,701.2 477.5,697.5 465.0,695.0 450.0,693.8"/>
<polygon points="495.0,675.0 500.0,672.0 507.5,673.8 515.0,680.0 525.0,688.8 535.0,698.8 542.5,711.2 535.0,710.0 528.8,710.0 522.5,702.5 512.5,697.0 502.5,694.5 497.0,687.5"/>
<polygon points="572.5,743.8 576.2,743.0 582.5,750.0 590.0,757.5 597.0,765.0 596.2,768.8 587.5,766.2 578.8,760.0 573.8,751.2"/>
<polygon points="561.8,732.5 561.4,733.4 560.5,733.8 559.6,733.4 559.2,732.5 559.6,731.6 560.5,731.2 561.4,731.6"/>
<polygon points="367.5,758.8 371.2,752.5 382.5,742.5 395.0,738.8 403.8,737.0 408.8,740.0 411.2,743.8 417.5,742.5 422.5,745.0 425.0,752.5 430.0,756.2 432.5,760.5 425.0,762.0 412.5,764.5 395.0,762.5 377.5,762.0 368.8,760.5"/>
<polygon points="392.5,801.2 400.0,797.5 406.2,791.2 415.0,788.0 423.8,790.0 427.5,797.5 425.0,802.5 420.0,805.0 421.2,810.0 412.5,811.2 407.5,815.0 397.5,816.2 395.0,807.5"/>
<polygon points="610.0,625.5 625.0,626.2 637.5,628.0 648.8,631.2 657.5,636.2 672.5,640.0 685.0,642.0 692.5,643.8 705.0,641.2 710.0,643.8 708.8,648.8 700.0,660.0 690.0,670.0 682.5,676.2 673.8,678.8 666.2,673.8 660.0,668.8 652.5,660.0 643.8,652.5 635.0,645.0 625.0,638.8 616.2,632.5"/>
<polygon points="618.8,615.0 622.5,612.5 626.2,615.0 623.8,618.8 619.5,618.0"/>
<polygon points="493.3,727.5 495.0,733.3 495.8,738.3 499.2,738.3 500.0,744.2 502.5,745.0 504.2,753.3 511.7,750.0 520.0,750.8 526.7,747.5 533.3,744.7 545.0,744.7 547.5,748.3 549.2,756.7 548.7,765.0 545.0,771.7 538.3,775.8 534.2,780.0 534.2,786.7 528.3,793.3 521.7,797.5 515.0,798.0 509.2,795.0 502.5,788.3 498.3,781.7 497.5,777.5 501.7,771.7 504.2,763.3 502.5,760.0 500.0,764.2 495.0,767.5 492.5,761.7 490.0,755.0 490.8,748.3 494.2,741.7 493.3,733.3 492.5,728.3"/>
<polygon points="419.2,832.5 423.3,828.3 430.0,827.5 436.7,830.0 443.3,828.3 450.0,830.8 451.7,835.0 448.3,841.7 445.8,848.3 441.7,850.0 436.7,846.7 430.0,844.2 426.7,838.3"/>
<polygon points="436.7,795.8 440.0,791.3 442.5,790.8 440.8,795.8 438.3,797.5"/>
<polygon points="451.7,854.2 453.0,853.3 454.2,856.7 452.8,857.5"/>
<polygon points="484.2,776.2 494.2,776.2 494.2,779.0 484.2,779.0"/>
<polygon points="561.9,732.5 561.5,733.5 560.5,733.9 559.5,733.5 559.1,732.5 559.5,731.5 560.5,731.1 561.5,731.5"/>
</g>
<g fill="#ececec" stroke="#7c7c7c" stroke-width="1.3">
<polygon points="463.3,705.0 465.8,701.7 473.3,702.5 480.0,707.5 480.8,710.8 475.0,713.3 468.3,714.2 464.2,710.0"/>
<polygon points="669.5,730.0 672.5,728.0 675.0,731.2 672.5,735.0"/>
<polygon points="675.0,735.0 680.0,732.5 682.0,736.2 677.5,740.0"/>
</g>
<g fill="none" stroke="#686868" stroke-width="1.4">
<polyline points="203.8,402.5 217.5,415.0 231.2,423.8 233.8,430.0 247.5,442.5 262.5,455.0 271.2,461.2"/>
<polyline points="198.8,408.8 220.0,436.2 243.8,461.2 261.2,474.5"/>
<polyline points="221.2,436.2 203.8,455.0 185.0,477.5"/>
<polyline points="202.5,456.2 242.5,492.5"/>
<polyline points="271.2,461.2 261.2,474.5 243.8,492.5 266.2,510.0"/>
<polyline points="271.2,461.2 282.5,456.2 291.2,453.8 295.0,437.5 305.0,433.8 313.8,430.0"/>
<polyline points="261.2,475.0 300.0,473.8 340.0,474.5 375.0,476.2 400.0,470.0 440.0,463.8 462.5,472.5 476.2,475.0"/>
<polyline points="291.2,453.8 322.5,455.0 330.0,445.0"/>
<polyline points="300.0,456.2 300.0,461.2 370.0,461.2 397.5,453.8"/>
<polyline points="340.0,462.5 342.5,474.5 340.0,491.2 345.0,505.0 340.0,510.0"/>
<polyline points="300.0,474.5 298.8,503.8"/>
<polyline points="370.0,437.5 370.0,461.2"/>
<polyline points="397.5,453.8 400.0,470.0 398.8,492.5"/>
<polyline points="266.2,510.0 298.8,503.8 325.0,492.5 340.0,491.2 360.0,496.2 375.0,495.0 398.8,492.5 415.0,497.5 433.8,499.5"/>
<polyline points="375.0,495.0 375.0,510.0"/>
<polyline points="415.0,497.5 420.0,527.5"/>
<polyline points="402.5,421.2 430.0,423.8 440.0,442.5 457.5,457.5 462.5,472.5"/>
<polyline points="477.5,511.2 488.8,531.2"/>
<polyline points="446.2,235.0 453.8,236.2 456.2,248.8 466.2,247.0 468.8,240.0 473.8,235.0 480.0,233.8"/>
<polyline points="446.2,235.0 448.8,245.0 451.2,257.5 452.0,267.5 457.5,273.8 463.8,276.2"/>
<polyline points="472.5,178.8 476.2,197.5 475.0,212.5 478.8,227.5 480.0,234.2"/>
<polyline points="482.5,261.2 482.5,275.0 477.5,280.0"/>
<polyline points="523.2,263.0 527.5,280.0 530.0,310.8"/>
<polyline points="523.2,263.0 540.0,260.0 556.0,257.5"/>
<polyline points="431.2,340.0 420.0,347.5 410.0,355.0 395.0,361.2 380.0,365.0 370.0,370.0 361.2,377.5"/>
<polyline points="572.5,138.2 586.2,152.5 595.0,151.2 610.0,141.2 617.5,137.5"/>
<polyline points="595.0,151.2 598.8,165.0 597.5,168.8"/>
<polyline points="541.2,166.2 556.2,161.2 570.0,162.5 573.8,176.2"/>
<polyline points="570.0,162.5 586.2,152.5"/>
<polyline points="610.0,141.2 620.0,150.0 622.5,172.5"/>
<polyline points="545.0,183.8 553.8,187.5 563.8,195.0 566.2,203.8 553.8,203.8 550.0,196.2 545.0,187.5 545.0,183.8"/>
<polyline points="523.8,232.5 540.0,224.5 560.0,223.8 572.5,227.5 582.5,232.0 600.0,247.5 608.8,253.0"/>
<polyline points="523.8,262.5 552.5,260.0 575.0,253.8 595.0,249.5 608.8,253.0"/>
<polyline points="523.8,262.5 526.2,280.0 530.0,300.0 533.8,340.0"/>
<polyline points="620.0,181.2 635.0,187.5 647.5,197.5 656.2,202.0"/>
<polyline points="707.5,142.5 705.0,157.5 708.8,168.8 723.8,166.2 728.8,162.5"/>
<polyline points="705.0,201.2 717.5,193.8 731.2,183.8"/>
<polyline points="760.0,226.2 775.0,232.5 782.5,243.0"/>
<polyline points="795.0,245.0 803.8,227.5 806.2,225.0"/>
<polyline points="726.2,286.2 735.0,295.0 733.8,310.0"/>
<polyline points="726.2,286.2 760.0,285.0"/>
<polyline points="691.2,317.5 700.0,310.0 715.0,307.5"/>
<polyline points="637.5,300.0 636.2,317.5"/>
<polyline points="320.0,496.2 329.2,491.7 340.0,491.2 355.8,495.8 374.2,494.6 398.3,493.3 415.8,497.9 432.0,500.8"/>
<polyline points="340.0,491.2 340.8,498.3 345.0,505.8 338.3,509.2"/>
<polyline points="374.2,494.6 374.6,502.5 374.2,510.0"/>
<polyline points="415.8,497.9 414.2,505.0 420.0,525.8"/>
<polyline points="198.8,411.2 185.0,475.0 163.8,510.0 160.5,530.0 162.5,545.0 172.5,553.8 196.2,557.0 197.5,550.5 221.2,550.0"/>
<polyline points="162.5,510.0 169.5,511.8"/>
<polyline points="540.0,425.8 542.5,433.3 540.8,438.3 539.2,455.0 534.2,464.2 525.8,471.7 522.5,481.7"/>
<polyline points="505.8,451.7 515.0,453.3 533.3,464.2"/>
<polyline points="540.8,438.3 556.7,444.2 581.7,453.3 606.7,464.2 625.0,473.3"/>
<polyline points="581.7,453.3 575.8,466.7 563.3,485.8"/>
<polyline points="522.5,481.7 533.3,478.3 543.3,478.3 551.7,483.3 563.3,485.8 573.3,493.3 571.7,500.0 573.3,510.0"/>
<polyline points="575.8,466.7 585.0,475.8 596.7,473.3 606.7,475.8 613.3,477.5"/>
<polyline points="606.7,432.5 593.3,437.5 588.3,445.0 588.3,455.8"/>
<polyline points="637.5,443.3 631.7,451.7 626.7,461.7 625.0,473.3"/>
<polyline points="631.7,451.7 643.3,456.7 656.7,463.3 673.3,464.2 692.5,460.8"/>
<polyline points="660.8,465.8 655.0,478.3"/>
<polyline points="556.7,490.8 558.3,493.3 556.7,503.3 553.3,508.3"/>
<polyline points="573.3,496.7 583.3,506.7 590.0,510.8"/>
<polyline points="524.2,506.7 545.0,515.0"/>
<polyline points="520.8,520.0 540.0,527.5 554.2,535.0"/>
<polyline points="514.2,500.0 511.7,506.7 505.0,511.7"/>
<polyline points="606.7,493.3 603.3,501.7"/>
<polyline points="665.0,497.5 671.2,502.5 677.5,501.2 681.2,490.6"/>
<polyline points="677.5,501.2 676.2,513.8 671.2,521.2"/>
<polyline points="681.2,505.0 683.1,495.6"/>
<polyline points="660.0,510.0 668.8,511.2 676.2,513.8"/>
<polyline points="666.9,535.0 681.2,531.2 685.0,537.5 696.9,538.1 705.0,532.5 708.1,533.8"/>
<polyline points="681.2,531.2 687.5,525.0 697.5,527.5"/>
<polyline points="668.8,543.8 680.0,540.0 692.5,540.0 695.0,545.0 690.0,550.0 681.2,547.5 675.6,551.2"/>
<polyline points="695.0,545.0 698.8,546.2 710.0,550.0"/>
<polyline points="696.9,538.1 698.8,546.2 693.8,556.2"/>
<polyline points="698.8,546.2 707.5,552.5 713.1,545.0"/>
<polyline points="707.5,552.5 702.5,562.5"/>
<polyline points="705.0,520.0 707.5,525.0 705.0,532.5"/>
<polyline points="712.5,516.2 713.8,525.0 708.1,533.8"/>
<polyline points="715.0,520.0 713.8,525.0"/>
<polyline points="671.2,521.2 677.5,527.5 681.2,531.2"/>
<polyline points="690.0,520.0 697.5,527.5"/>
<polyline points="708.1,533.8 715.0,532.5 721.2,537.5 727.5,539.4 735.0,532.5 740.0,530.0"/>
<polyline points="721.2,537.5 720.0,550.0 715.0,560.0"/>
<polyline points="735.0,532.5 727.5,542.5 725.0,552.5 722.5,557.5 720.0,562.5"/>
<polyline points="725.0,552.5 742.5,556.2 750.6,556.2 751.2,542.2"/>
<polyline points="750.6,556.2 757.5,565.0 766.2,573.8 768.8,590.0"/>
<polyline points="742.5,556.2 742.5,565.0 738.8,580.0 735.0,582.5"/>
<polyline points="730.0,565.0 727.5,571.2"/>
<polyline points="777.5,540.0 775.0,547.5 781.2,556.2 788.8,565.0"/>
<polyline points="757.5,565.0 765.0,575.0 768.8,573.8"/>
<polyline points="840.0,377.5 850.0,375.0 856.7,370.0 863.3,355.0 865.8,350.0"/>
<polyline points="840.0,390.0 846.7,376.7 853.3,360.0 858.3,350.0"/>
<polyline points="865.0,421.7 873.3,405.0 883.3,383.3 895.8,365.8"/>
<polyline points="884.2,356.7 895.8,365.8 909.2,368.3"/>
<polyline points="1155.0,391.2 1115.5,490.5"/>
<polyline points="872.5,247.0 880.0,262.5 893.8,276.2 908.0,286.2"/>
<polyline points="872.5,320.0 882.5,330.0 895.0,340.0 910.0,346.2 913.8,345.0"/>
<polyline points="846.2,330.0 860.0,345.0 875.0,335.0 882.5,330.0"/>
<polyline points="860.0,345.0 852.5,365.0 840.0,385.0 832.5,405.0 832.5,420.0"/>
<polyline points="877.5,336.2 885.0,352.5 897.5,365.0 910.0,367.5"/>
<polyline points="897.5,365.0 887.5,387.5 875.0,420.0"/>
<polyline points="910.0,346.2 910.0,367.5 900.0,400.0 895.0,420.0"/>
<polyline points="523.8,232.5 540.0,225.0 560.0,223.8 582.5,232.5 600.0,247.5 610.0,253.8"/>
</g>
</g>
<g stroke="#000" stroke-opacity="0.115" stroke-width="1.6"><line x1="172.25" y1="101.90" x2="172.25" y2="884.40"/><line x1="281.28" y1="101.90" x2="281.28" y2="884.40"/><line x1="390.31" y1="101.90" x2="390.31" y2="884.40"/><line x1="499.34" y1="101.90" x2="499.34" y2="884.40"/><line x1="608.37" y1="101.90" x2="608.37" y2="884.40"/><line x1="717.40" y1="101.90" x2="717.40" y2="884.40"/><line x1="826.43" y1="101.90" x2="826.43" y2="884.40"/><line x1="935.46" y1="101.90" x2="935.46" y2="884.40"/><line x1="1044.49" y1="101.90" x2="1044.49" y2="884.40"/><line x1="1153.52" y1="101.90" x2="1153.52" y2="884.40"/><line x1="1262.55" y1="101.90" x2="1262.55" y2="884.40"/><line x1="97.50" y1="776.48" x2="1316.60" y2="776.48"/><line x1="97.50" y1="667.40" x2="1316.60" y2="667.40"/><line x1="97.50" y1="558.32" x2="1316.60" y2="558.32"/><line x1="97.50" y1="449.24" x2="1316.60" y2="449.24"/><line x1="97.50" y1="340.16" x2="1316.60" y2="340.16"/><line x1="97.50" y1="231.08" x2="1316.60" y2="231.08"/><line x1="97.50" y1="122.00" x2="1316.60" y2="122.00"/></g>
<text class="src" x="123.4" y="822.6" id="src1">Source: Planning Sub-zone boundary from Urban Redevelopment Authorithy (URA)</text>
<text class="src" x="128.0" y="849.8" id="src2">and Population data from Department of Statistics DOS</text>
<rect x="666.5" y="826.3" width="327.2" height="9.2" fill="#fff" stroke="#000" stroke-width="1.6"/>
<rect x="775.5" y="826.3" width="109.1" height="9.2" fill="#000" stroke="#000" stroke-width="1.6"/>
<text class="sb" x="666.5" y="851.8" text-anchor="middle">0</text>
<text class="sb" x="775.5" y="851.8" text-anchor="middle">5</text>
<text class="sb" x="884.6" y="851.8" text-anchor="middle">10</text>
<text class="sb" x="985.6" y="851.8" id="km">15 km</text>
<g fill="#000" stroke="#000" stroke-width="1.2" stroke-linejoin="miter"><polygon points="985.00,744.40 988.40,772.80 1016.80,776.20 988.40,779.60 985.00,808.00 981.60,779.60 953.20,776.20 981.60,772.80"/><polygon points="998.20,763.00 989.60,775.80 985.40,771.60"/><polygon points="998.20,789.40 989.60,776.60 985.40,780.80"/><polygon points="971.80,789.40 980.40,776.60 984.60,780.80"/><polygon points="971.80,763.00 980.40,775.80 984.60,771.60"/></g>
<g fill="#fff" stroke="none"><polygon points="984.10,756.20 984.10,769.20 982.70,768.70"/><polygon points="985.90,796.20 985.90,783.20 987.30,783.70"/><polygon points="1005.00,775.30 992.00,775.30 992.50,773.90"/><polygon points="965.00,777.10 978.00,777.10 977.50,778.50"/></g>
<text x="985.0" y="739.6" text-anchor="middle" font-size="25.9" fill="#000" id="nn">N</text>
<text x="1053.6" y="679.5" font-size="29.4" fill="#000" id="lt">Dependency ratio</text>
<rect x="1057.2" y="696.40" width="26.9" height="26.95" fill="#DEEBF7" stroke="#7f7f7f" stroke-width="1.5"/>
<text class="lg" x="1089.2" y="717.50" id="l0">0.00 to 0.66</text>
<rect x="1057.2" y="723.35" width="26.9" height="26.95" fill="#B3D0E8" stroke="#7f7f7f" stroke-width="1.5"/>
<text class="lg" x="1089.2" y="744.50" id="l1">0.66 to 0.71</text>
<rect x="1057.2" y="750.30" width="26.9" height="26.95" fill="#6BAAD4" stroke="#7f7f7f" stroke-width="1.5"/>
<text class="lg" x="1089.2" y="771.50" id="l2">0.71 to 0.76</text>
<rect x="1057.2" y="777.25" width="26.9" height="26.95" fill="#337AB8" stroke="#7f7f7f" stroke-width="1.5"/>
<text class="lg" x="1089.2" y="798.50" id="l3">0.76 to 0.83</text>
<rect x="1057.2" y="804.20" width="26.9" height="26.95" fill="#17519C" stroke="#7f7f7f" stroke-width="1.5"/>
<text class="lg" x="1089.2" y="825.50" id="l4">0.83 to 19.00</text>
<rect x="1057.2" y="831.15" width="26.9" height="26.95" fill="#B3B3B3" stroke="#7f7f7f" stroke-width="1.5"/>
<text class="lg" x="1089.2" y="852.50" id="l5">Missing</text>
<rect x="97.50" y="101.90" width="1219.10" height="782.50" fill="none" stroke="#222" stroke-width="1.15"/>
<g stroke="#333" stroke-opacity="0.22" stroke-width="1.6"><line x1="172.25" y1="884.40" x2="172.25" y2="890.90"/><line x1="281.28" y1="884.40" x2="281.28" y2="890.90"/><line x1="390.31" y1="884.40" x2="390.31" y2="890.90"/><line x1="499.34" y1="884.40" x2="499.34" y2="890.90"/><line x1="608.37" y1="884.40" x2="608.37" y2="890.90"/><line x1="717.40" y1="884.40" x2="717.40" y2="890.90"/><line x1="826.43" y1="884.40" x2="826.43" y2="890.90"/><line x1="935.46" y1="884.40" x2="935.46" y2="890.90"/><line x1="1044.49" y1="884.40" x2="1044.49" y2="890.90"/><line x1="1153.52" y1="884.40" x2="1153.52" y2="890.90"/><line x1="1262.55" y1="884.40" x2="1262.55" y2="890.90"/><line x1="91.00" y1="776.48" x2="97.50" y2="776.48"/><line x1="91.00" y1="667.40" x2="97.50" y2="667.40"/><line x1="91.00" y1="558.32" x2="97.50" y2="558.32"/><line x1="91.00" y1="449.24" x2="97.50" y2="449.24"/><line x1="91.00" y1="340.16" x2="97.50" y2="340.16"/><line x1="91.00" y1="231.08" x2="97.50" y2="231.08"/><line x1="91.00" y1="122.00" x2="97.50" y2="122.00"/></g>
<text class="tk" x="172.25" y="910.7" text-anchor="middle">5,000</text>
<text class="tk" x="281.28" y="910.7" text-anchor="middle">10,000</text>
<text class="tk" x="390.31" y="910.7" text-anchor="middle">15,000</text>
<text class="tk" x="499.34" y="910.7" text-anchor="middle">20,000</text>
<text class="tk" x="608.37" y="910.7" text-anchor="middle">25,000</text>
<text class="tk" x="717.40" y="910.7" text-anchor="middle">30,000</text>
<text class="tk" x="826.43" y="910.7" text-anchor="middle">35,000</text>
<text class="tk" x="935.46" y="910.7" text-anchor="middle">40,000</text>
<text class="tk" x="1044.49" y="910.7" text-anchor="middle">45,000</text>
<text class="tk" x="1153.52" y="910.7" text-anchor="middle">50,000</text>
<text class="tk" x="1262.55" y="910.7" text-anchor="middle">55,000</text>
<text class="tk" x="85.5" y="783.98" text-anchor="end">20,000</text>
<text class="tk" x="85.5" y="674.90" text-anchor="end">25,000</text>
<text class="tk" x="85.5" y="565.82" text-anchor="end">30,000</text>
<text class="tk" x="85.5" y="456.74" text-anchor="end">35,000</text>
<text class="tk" x="85.5" y="347.66" text-anchor="end">40,000</text>
<text class="tk" x="85.5" y="238.58" text-anchor="end">45,000</text>
<text class="tk" x="85.5" y="129.50" text-anchor="end">50,000</text>
<text x="671.5" y="87.6" text-anchor="middle" font-size="38.5" fill="#000">Distribution of Dependency Ratio by planning subzone</text>
</svg></body></html>
